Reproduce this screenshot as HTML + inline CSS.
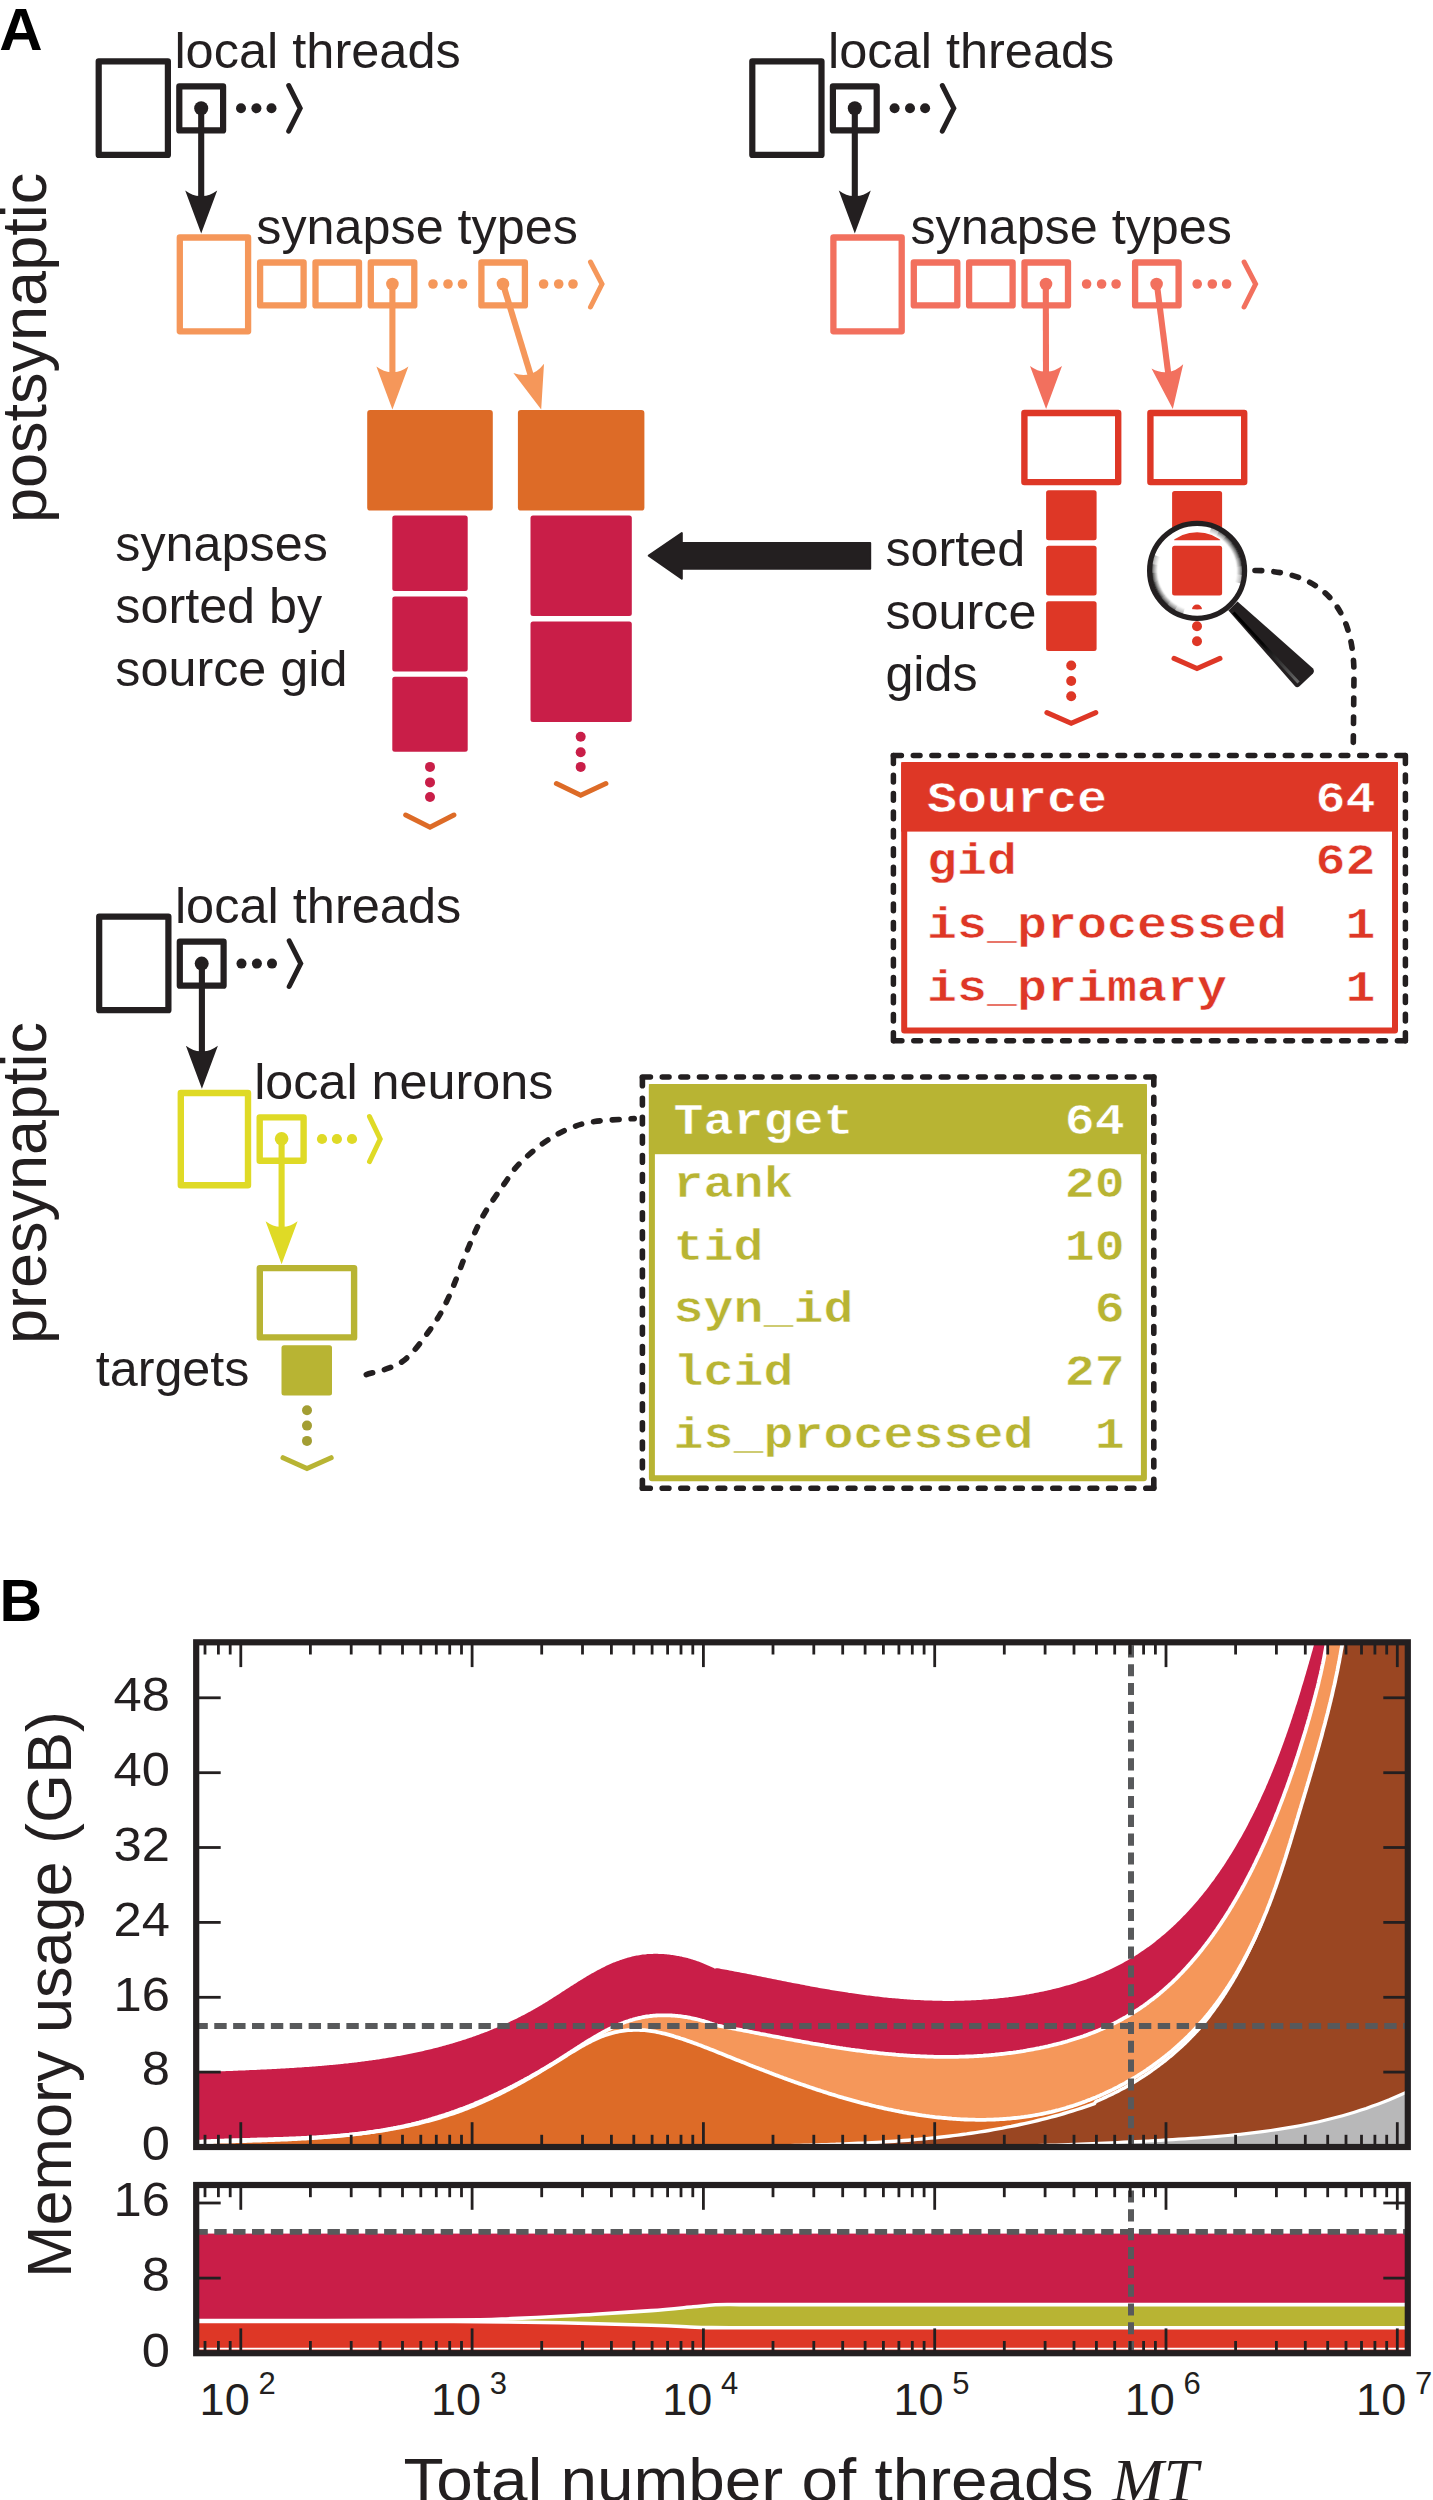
<!DOCTYPE html><html><head><meta charset="utf-8"><style>html,body{margin:0;padding:0;background:#fff;}svg{display:block;}text{font-family:"Liberation Sans",sans-serif;}.m{font-family:"Liberation Mono",monospace;font-weight:bold;}</style></head><body>
<svg width="1433" height="2500" viewBox="0 0 1433 2500">
<rect width="1433" height="2500" fill="#fff"/>
<text x="-0.7" y="50.2" font-size="60" font-weight="bold" fill="#000">A</text>
<rect x="98.7" y="61.3" width="69.2" height="93.6" fill="none" stroke="#231F20" stroke-width="6.2" stroke-linejoin="round"/>
<rect x="179.3" y="86.4" width="43.8" height="44" fill="none" stroke="#231F20" stroke-width="6.2" stroke-linejoin="round"/>
<circle cx="201.2" cy="108.3" r="7" fill="#231F20"/>
<circle cx="241" cy="108.3" r="5" fill="#231F20"/>
<circle cx="256.4" cy="108.3" r="5" fill="#231F20"/>
<circle cx="271.5" cy="108.3" r="5" fill="#231F20"/>
<polyline points="288.7,85.5 300.2,108.3 288.7,131.2" fill="none" stroke="#231F20" stroke-width="5" stroke-linecap="round" stroke-linejoin="miter"/>
<text x="174.4" y="68.1" font-size="50.5" fill="#231F20">local threads</text>
<line x1="201.2" y1="108.3" x2="201.2" y2="202" stroke="#231F20" stroke-width="6.1"/>
<path d="M185.2,190.5 Q194,196.8 201.2,196 Q208.4,196.8 217.2,190.5 L201.2,233.5 Z" fill="#231F20"/>
<rect x="179.8" y="237.5" width="68.3" height="93.8" fill="none" stroke="#F5975A" stroke-width="6.3" stroke-linejoin="round"/>
<rect x="260.1" y="262.5" width="43.5" height="42.9" fill="none" stroke="#F5975A" stroke-width="6.3" stroke-linejoin="round"/>
<rect x="315.5" y="262.5" width="43.5" height="42.9" fill="none" stroke="#F5975A" stroke-width="6.3" stroke-linejoin="round"/>
<rect x="370.8" y="262.5" width="43.5" height="42.9" fill="none" stroke="#F5975A" stroke-width="6.3" stroke-linejoin="round"/>
<rect x="481.4" y="262.5" width="43.5" height="42.9" fill="none" stroke="#F5975A" stroke-width="6.3" stroke-linejoin="round"/>
<circle cx="392.4" cy="284" r="6.3" fill="#F5975A"/>
<circle cx="503" cy="284" r="6.3" fill="#F5975A"/>
<circle cx="433" cy="284" r="4.8" fill="#F5975A"/>
<circle cx="448" cy="284" r="4.8" fill="#F5975A"/>
<circle cx="462.5" cy="284" r="4.8" fill="#F5975A"/>
<circle cx="543.6" cy="284" r="4.8" fill="#F5975A"/>
<circle cx="558.7" cy="284" r="4.8" fill="#F5975A"/>
<circle cx="573" cy="284" r="4.8" fill="#F5975A"/>
<polyline points="590.5,262 602,284 590.5,307" fill="none" stroke="#F5975A" stroke-width="5" stroke-linecap="round" stroke-linejoin="miter"/>
<text x="256.3" y="244.2" font-size="50.3" fill="#231F20">synapse types</text>
<line x1="392.4" y1="284" x2="392.4" y2="378.1" stroke="#F5975A" stroke-width="6.1"/>
<path d="M376.4,366.6 Q385.2,372.9 392.4,372.1 Q399.6,372.9 408.4,366.6 L392.4,409.6 Z" fill="#F5975A"/>
<line x1="503" y1="284" x2="532" y2="379.5" stroke="#F5975A" stroke-width="6.1"/>
<path d="M513.4,373.1 Q523.6,376.6 530.3,373.7 Q537.4,372.4 544,363.8 L541.2,409.6 Z" fill="#F5975A"/>
<rect x="367.2" y="410.1" width="125.6" height="100.5" rx="3" fill="#DD6B27"/>
<rect x="517.9" y="410.1" width="126.5" height="100.5" rx="3" fill="#DD6B27"/>
<rect x="392.3" y="515.6" width="75.4" height="75.4" rx="2.5" fill="#C91E48"/>
<rect x="392.3" y="596.4" width="75.4" height="75" rx="2.5" fill="#C91E48"/>
<rect x="392.3" y="676.8" width="75.4" height="75" rx="2.5" fill="#C91E48"/>
<rect x="530.5" y="515.6" width="101.3" height="100.5" rx="2.5" fill="#C91E48"/>
<rect x="530.5" y="621.6" width="101.3" height="100.4" rx="2.5" fill="#C91E48"/>
<circle cx="430" cy="766.9" r="5" fill="#C91E48"/>
<circle cx="430" cy="782.4" r="5" fill="#C91E48"/>
<circle cx="430" cy="797" r="5" fill="#C91E48"/>
<polyline points="405.7,815 430,827.3 453.9,815" fill="none" stroke="#DD6B27" stroke-width="5" stroke-linecap="round" stroke-linejoin="miter"/>
<circle cx="580.7" cy="736.7" r="5" fill="#C91E48"/>
<circle cx="580.7" cy="752.2" r="5" fill="#C91E48"/>
<circle cx="580.7" cy="766.9" r="5" fill="#C91E48"/>
<polyline points="556.4,783.6 580.7,795.2 605.9,783.6" fill="none" stroke="#DD6B27" stroke-width="5" stroke-linecap="round" stroke-linejoin="miter"/>
<text x="115.3" y="561" font-size="50.3" fill="#231F20">synapses</text>
<text x="115.3" y="623.4" font-size="50.3" fill="#231F20">sorted by</text>
<text x="115.3" y="686.3" font-size="50.3" fill="#231F20">source gid</text>
<path d="M648.8,555.6 L681.8,533 L681.8,543 L870.2,543 L870.2,568.8 L681.8,568.8 L681.8,578.8 Z" fill="#231F20" stroke="#231F20" stroke-width="2" stroke-linejoin="round"/>
<rect x="752.3" y="61.3" width="69.2" height="93.6" fill="none" stroke="#231F20" stroke-width="6.2" stroke-linejoin="round"/>
<rect x="832.9" y="86.4" width="43.8" height="44" fill="none" stroke="#231F20" stroke-width="6.2" stroke-linejoin="round"/>
<circle cx="854.8" cy="108.3" r="7" fill="#231F20"/>
<circle cx="894.6" cy="108.3" r="5" fill="#231F20"/>
<circle cx="910" cy="108.3" r="5" fill="#231F20"/>
<circle cx="925.1" cy="108.3" r="5" fill="#231F20"/>
<polyline points="942.3,85.5 953.8,108.3 942.3,131.2" fill="none" stroke="#231F20" stroke-width="5" stroke-linecap="round" stroke-linejoin="miter"/>
<text x="828" y="68.1" font-size="50.5" fill="#231F20">local threads</text>
<line x1="854.8" y1="108.3" x2="854.8" y2="202" stroke="#231F20" stroke-width="6.1"/>
<path d="M838.8,190.5 Q847.6,196.8 854.8,196 Q862,196.8 870.8,190.5 L854.8,233.5 Z" fill="#231F20"/>
<rect x="833.4" y="237.5" width="68.3" height="93.8" fill="none" stroke="#F2705E" stroke-width="6.3" stroke-linejoin="round"/>
<rect x="913.8" y="262.5" width="43.5" height="42.9" fill="none" stroke="#F2705E" stroke-width="6.3" stroke-linejoin="round"/>
<rect x="969.1" y="262.5" width="43.5" height="42.9" fill="none" stroke="#F2705E" stroke-width="6.3" stroke-linejoin="round"/>
<rect x="1024.5" y="262.5" width="43.5" height="42.9" fill="none" stroke="#F2705E" stroke-width="6.3" stroke-linejoin="round"/>
<rect x="1135.1" y="262.5" width="43.5" height="42.9" fill="none" stroke="#F2705E" stroke-width="6.3" stroke-linejoin="round"/>
<circle cx="1046" cy="284" r="6.3" fill="#F2705E"/>
<circle cx="1156.6" cy="284" r="6.3" fill="#F2705E"/>
<circle cx="1086.6" cy="284" r="4.8" fill="#F2705E"/>
<circle cx="1101.6" cy="284" r="4.8" fill="#F2705E"/>
<circle cx="1116.1" cy="284" r="4.8" fill="#F2705E"/>
<circle cx="1197.2" cy="284" r="4.8" fill="#F2705E"/>
<circle cx="1212.3" cy="284" r="4.8" fill="#F2705E"/>
<circle cx="1226.6" cy="284" r="4.8" fill="#F2705E"/>
<polyline points="1244.1,262 1255.6,284 1244.1,307" fill="none" stroke="#F2705E" stroke-width="5" stroke-linecap="round" stroke-linejoin="miter"/>
<text x="910.4" y="244.2" font-size="50.3" fill="#231F20">synapse types</text>
<line x1="1045.8" y1="283.7" x2="1046" y2="377.5" stroke="#F2705E" stroke-width="6.1"/>
<path d="M1030,366 Q1038.8,372.3 1046,371.5 Q1053.2,372.3 1062,366 L1046.1,409 Z" fill="#F2705E"/>
<line x1="1156.8" y1="283.7" x2="1168.8" y2="377.8" stroke="#F2705E" stroke-width="6.1"/>
<path d="M1151.5,368.4 Q1161,373.5 1168.1,371.8 Q1175.3,371.7 1183.2,364.3 L1172.8,409 Z" fill="#F2705E"/>
<rect x="1024.4" y="413" width="93.8" height="69.1" fill="none" stroke="#DE3726" stroke-width="6.4" stroke-linejoin="round"/>
<rect x="1150.4" y="413" width="93.8" height="69.1" fill="none" stroke="#DE3726" stroke-width="6.4" stroke-linejoin="round"/>
<rect x="1046.1" y="490.2" width="50.5" height="50.1" rx="2.5" fill="#DE3726"/>
<rect x="1046.1" y="545.7" width="50.5" height="49.7" rx="2.5" fill="#DE3726"/>
<rect x="1046.1" y="601.2" width="50.5" height="49.8" rx="2.5" fill="#DE3726"/>
<rect x="1172.1" y="490.9" width="50" height="49.4" rx="2.5" fill="#DE3726"/>
<rect x="1172.1" y="545.7" width="50" height="49.7" rx="2.5" fill="#DE3726"/>
<circle cx="1071.2" cy="665.5" r="5" fill="#DE3726"/>
<circle cx="1071.2" cy="681" r="5" fill="#DE3726"/>
<circle cx="1071.2" cy="696.3" r="5" fill="#DE3726"/>
<polyline points="1046.9,712.6 1071.2,723.3 1095.8,712.6" fill="none" stroke="#DE3726" stroke-width="5" stroke-linecap="round" stroke-linejoin="miter"/>
<circle cx="1197" cy="609.5" r="5" fill="#DE3726"/>
<circle cx="1197" cy="626.3" r="5" fill="#DE3726"/>
<circle cx="1197" cy="641.2" r="5" fill="#DE3726"/>
<polyline points="1174,658.4 1197,668.5 1220,658.4" fill="none" stroke="#DE3726" stroke-width="5" stroke-linecap="round" stroke-linejoin="miter"/>
<text x="885.4" y="565.7" font-size="50.3" fill="#231F20">sorted</text>
<text x="885.4" y="628.6" font-size="50.3" fill="#231F20">source</text>
<text x="885.4" y="691.4" font-size="50.3" fill="#231F20">gids</text>
<defs><clipPath id="lens"><circle cx="1197.1" cy="570.8" r="38.6"/></clipPath><radialGradient id="lg" cx="1197.1" cy="570.8" r="45" gradientUnits="userSpaceOnUse"><stop offset="0.84" stop-color="#fff"/><stop offset="1" stop-color="#8a8a8a"/></radialGradient></defs>
<circle cx="1197.1" cy="570.8" r="42.3" fill="none" stroke="#fff" stroke-width="7.4"/>
<defs><radialGradient id="rg" cx="1197.1" cy="570.8" r="45.5" gradientUnits="userSpaceOnUse"><stop offset="0.845" stop-color="#fff" stop-opacity="0"/><stop offset="0.9" stop-color="#aaa" stop-opacity="0.7"/><stop offset="1" stop-color="#111" stop-opacity="1"/></radialGradient></defs>
<path d="M1184.1,610.7 A42,42 0 0 1 1176.2,607.2" fill="none" stroke="url(#rg)" stroke-width="7" stroke-opacity="0.4"/>
<path d="M1176.4,607.4 A42,42 0 0 1 1169.4,602.4" fill="none" stroke="url(#rg)" stroke-width="7" stroke-opacity="0.7"/>
<path d="M1169.5,602.5 A42,42 0 0 1 1163.6,596.2" fill="none" stroke="url(#rg)" stroke-width="7" stroke-opacity="0.9"/>
<path d="M1163.8,596.4 A42,42 0 0 1 1159.3,589" fill="none" stroke="url(#rg)" stroke-width="7" stroke-opacity="1"/>
<path d="M1159.4,589.2 A42,42 0 0 1 1156.4,581.1" fill="none" stroke="url(#rg)" stroke-width="7" stroke-opacity="1"/>
<path d="M1156.4,581.3 A42,42 0 0 1 1155.1,572.8" fill="none" stroke="url(#rg)" stroke-width="7" stroke-opacity="0.9"/>
<path d="M1155.2,573 A42,42 0 0 1 1155.6,564.4" fill="none" stroke="url(#rg)" stroke-width="7" stroke-opacity="0.7"/>
<path d="M1155.6,564.6 A42,42 0 0 1 1157.7,556.2" fill="none" stroke="url(#rg)" stroke-width="7" stroke-opacity="0.4"/>
<path d="M1210.1,530.9 A42,42 0 0 1 1217.7,534.2" fill="none" stroke="url(#rg)" stroke-width="7" stroke-opacity="0.4"/>
<path d="M1217.5,534.1 A42,42 0 0 1 1224.3,538.8" fill="none" stroke="url(#rg)" stroke-width="7" stroke-opacity="0.7"/>
<path d="M1224.1,538.6 A42,42 0 0 1 1229.9,544.5" fill="none" stroke="url(#rg)" stroke-width="7" stroke-opacity="0.9"/>
<path d="M1229.7,544.4 A42,42 0 0 1 1234.3,551.3" fill="none" stroke="url(#rg)" stroke-width="7" stroke-opacity="1"/>
<path d="M1234.2,551.1 A42,42 0 0 1 1237.3,558.7" fill="none" stroke="url(#rg)" stroke-width="7" stroke-opacity="1"/>
<path d="M1237.3,558.5 A42,42 0 0 1 1238.9,566.6" fill="none" stroke="url(#rg)" stroke-width="7" stroke-opacity="0.9"/>
<path d="M1238.9,566.4 A42,42 0 0 1 1238.9,574.7" fill="none" stroke="url(#rg)" stroke-width="7" stroke-opacity="0.7"/>
<path d="M1238.9,574.5 A42,42 0 0 1 1237.4,582.6" fill="none" stroke="url(#rg)" stroke-width="7" stroke-opacity="0.4"/>
<circle cx="1197.1" cy="570.8" r="47.5" fill="none" stroke="#231F20" stroke-width="5.2"/>
<path d="M1228.4,610.5 L1237.5,601.4 L1312.8,668.3 Q1315,671 1313,673.5 L1299.5,686.2 Q1297,688.4 1294.8,686 Z" fill="#231F20"/>
<defs><linearGradient id="hg" x1="1233" y1="612" x2="1299" y2="683" gradientUnits="userSpaceOnUse"><stop offset="0" stop-color="#000"/><stop offset="0.45" stop-color="#050505"/><stop offset="1" stop-color="#6a6a6a"/></linearGradient></defs>
<path d="M1233.5,612.5 L1298.5,682.5" stroke="url(#hg)" stroke-width="3"/>
<path d="M1255,570.5 C1325,571 1354,610 1354,675 L1353.2,753" fill="none" stroke="#231F20" stroke-width="5.6" stroke-dasharray="6.6,12.2" stroke-linecap="round"/>
<path d="M893.4,755.4 L1405.4,755.4" fill="none" stroke="#231F20" stroke-width="5.5" stroke-linecap="round" stroke-dasharray="8,11.9,6.7,11.9,6.7,11.9,6.7,11.9,6.7,11.9,6.7,11.9,6.7,11.9,6.7,11.9,6.7,11.9,6.7,11.9,6.7,11.9,6.7,11.9,6.7,11.9,6.7,11.9,6.7,11.9,6.7,11.9,6.7,11.9,6.7,11.9,6.7,11.9,6.7,11.9,6.7,11.9,6.7,11.9,6.7,11.9,6.7,11.9,6.7,11.9,6.7,11.9,6.7,11.9,8"/>
<path d="M1405.4,755.4 L1405.4,1040.8" fill="none" stroke="#231F20" stroke-width="5.5" stroke-linecap="round" stroke-dasharray="8,11.7,6.7,11.7,6.7,11.7,6.7,11.7,6.7,11.7,6.7,11.7,6.7,11.7,6.7,11.7,6.7,11.7,6.7,11.7,6.7,11.7,6.7,11.7,6.7,11.7,6.7,11.7,6.7,11.7,8"/>
<path d="M1405.4,1040.8 L893.4,1040.8" fill="none" stroke="#231F20" stroke-width="5.5" stroke-linecap="round" stroke-dasharray="8,11.9,6.7,11.9,6.7,11.9,6.7,11.9,6.7,11.9,6.7,11.9,6.7,11.9,6.7,11.9,6.7,11.9,6.7,11.9,6.7,11.9,6.7,11.9,6.7,11.9,6.7,11.9,6.7,11.9,6.7,11.9,6.7,11.9,6.7,11.9,6.7,11.9,6.7,11.9,6.7,11.9,6.7,11.9,6.7,11.9,6.7,11.9,6.7,11.9,6.7,11.9,6.7,11.9,8"/>
<path d="M893.4,1040.8 L893.4,755.4" fill="none" stroke="#231F20" stroke-width="5.5" stroke-linecap="round" stroke-dasharray="8,11.7,6.7,11.7,6.7,11.7,6.7,11.7,6.7,11.7,6.7,11.7,6.7,11.7,6.7,11.7,6.7,11.7,6.7,11.7,6.7,11.7,6.7,11.7,6.7,11.7,6.7,11.7,6.7,11.7,8"/>
<rect x="904.2" y="765.1" width="490.8" height="265.3" fill="none" stroke="#DE3726" stroke-width="6" stroke-linejoin="round"/>
<rect x="901.2" y="762.1" width="496.8" height="69.5" fill="#DE3726"/>
<text class="m" transform="translate(927,811.5) scale(1,0.9)" font-size="50" fill="#fff" stroke="#DE3726" stroke-width="0.6">Source</text>
<text class="m" transform="translate(1375.5,811.5) scale(1,0.9)" font-size="50" fill="#fff" stroke="#DE3726" stroke-width="0.6" text-anchor="end">64</text>
<text class="m" transform="translate(927,874) scale(1,0.9)" font-size="50" fill="#DE3726" stroke="#fff" stroke-width="0.6">gid</text>
<text class="m" transform="translate(1375.5,874) scale(1,0.9)" font-size="50" fill="#DE3726" stroke="#fff" stroke-width="0.6" text-anchor="end">62</text>
<text class="m" transform="translate(927,937.7) scale(1,0.9)" font-size="50" fill="#DE3726" stroke="#fff" stroke-width="0.6">is_processed</text>
<text class="m" transform="translate(1375.5,937.7) scale(1,0.9)" font-size="50" fill="#DE3726" stroke="#fff" stroke-width="0.6" text-anchor="end">1</text>
<text class="m" transform="translate(927,1001.4) scale(1,0.9)" font-size="50" fill="#DE3726" stroke="#fff" stroke-width="0.6">is_primary</text>
<text class="m" transform="translate(1375.5,1001.4) scale(1,0.9)" font-size="50" fill="#DE3726" stroke="#fff" stroke-width="0.6" text-anchor="end">1</text>
<text transform="translate(45.7,519.2) rotate(-90)" x="-3.8" y="0" font-size="63" fill="#231F20">postsynaptic</text>
<text transform="translate(45.7,1340.3) rotate(-90)" x="-3.8" y="0" font-size="63" fill="#231F20">presynaptic</text>
<rect x="99.2" y="916.6" width="69.2" height="93.6" fill="none" stroke="#231F20" stroke-width="6.2" stroke-linejoin="round"/>
<rect x="179.8" y="941.7" width="43.8" height="44" fill="none" stroke="#231F20" stroke-width="6.2" stroke-linejoin="round"/>
<circle cx="201.7" cy="963.6" r="7" fill="#231F20"/>
<circle cx="241.5" cy="963.6" r="5" fill="#231F20"/>
<circle cx="256.9" cy="963.6" r="5" fill="#231F20"/>
<circle cx="272" cy="963.6" r="5" fill="#231F20"/>
<polyline points="289.2,940.8 300.7,963.6 289.2,986.5" fill="none" stroke="#231F20" stroke-width="5" stroke-linecap="round" stroke-linejoin="miter"/>
<text x="174.9" y="923.4" font-size="50.5" fill="#231F20">local threads</text>
<line x1="201.9" y1="962.7" x2="201.9" y2="1057.2" stroke="#231F20" stroke-width="6.1"/>
<path d="M185.9,1045.7 Q194.7,1052 201.9,1051.2 Q209.1,1052 217.9,1045.7 L201.9,1088.7 Z" fill="#231F20"/>
<rect x="180.8" y="1093" width="67.2" height="92.3" fill="none" stroke="#DFDA26" stroke-width="6.4" stroke-linejoin="round"/>
<rect x="259.7" y="1117.4" width="43.9" height="43.4" fill="none" stroke="#DFDA26" stroke-width="6.4" stroke-linejoin="round"/>
<circle cx="281.6" cy="1138.8" r="6.8" fill="#DFDA26"/>
<circle cx="322" cy="1139" r="5.1" fill="#DFDA26"/>
<circle cx="336.9" cy="1139" r="5.1" fill="#DFDA26"/>
<circle cx="352" cy="1139" r="5.1" fill="#DFDA26"/>
<polyline points="369.5,1116.6 380.2,1139 369.5,1161.6" fill="none" stroke="#DFDA26" stroke-width="5" stroke-linecap="round" stroke-linejoin="miter"/>
<text x="254.2" y="1098.6" font-size="50.3" fill="#231F20">local neurons</text>
<line x1="281.6" y1="1138.8" x2="281.6" y2="1232.7" stroke="#DFDA26" stroke-width="6.1"/>
<path d="M265.6,1221.2 Q274.4,1227.5 281.6,1226.7 Q288.8,1227.5 297.6,1221.2 L281.6,1264.2 Z" fill="#DFDA26"/>
<rect x="259.8" y="1268.1" width="94.3" height="69.3" fill="none" stroke="#B8B433" stroke-width="6.4" stroke-linejoin="round"/>
<rect x="281.5" y="1345.2" width="50.5" height="50.2" rx="2.5" fill="#B8B433"/>
<circle cx="307" cy="1410.2" r="5" fill="#A39E33"/>
<circle cx="307" cy="1425.6" r="5" fill="#A39E33"/>
<circle cx="307" cy="1440.9" r="5" fill="#A39E33"/>
<polyline points="283,1457.7 307,1468.6 331.2,1457.7" fill="none" stroke="#B8B433" stroke-width="5" stroke-linecap="round" stroke-linejoin="miter"/>
<text x="95.7" y="1385.9" font-size="50.3" fill="#231F20">targets</text>
<path d="M366.3,1374.6 C372.2,1372.5 391.4,1369.2 401.9,1361.9 C412.4,1354.6 421.4,1341.5 429.1,1331 C436.8,1320.5 441.3,1313 447.9,1298.9 C454.5,1284.8 463,1260.5 468.9,1246.5 C474.8,1232.5 477.6,1225.6 483.5,1215.1 C489.4,1204.6 498.5,1192.2 504.4,1183.7 C510.3,1175.2 512.5,1170.9 519.1,1164 C525.7,1157.1 535.8,1148.4 544.2,1142.5 C552.6,1136.6 560.9,1132 569.3,1128.5 C577.7,1125 583.7,1123.2 594.5,1121.6 C605.3,1119.9 627.6,1119.1 634.2,1118.6" fill="none" stroke="#231F20" stroke-width="5.6" stroke-dasharray="6.6,12.2" stroke-linecap="round"/>
<path d="M642.4,1077 L1153.8,1077" fill="none" stroke="#231F20" stroke-width="5.6" stroke-linecap="round" stroke-dasharray="8,11.9,6.7,11.9,6.7,11.9,6.7,11.9,6.7,11.9,6.7,11.9,6.7,11.9,6.7,11.9,6.7,11.9,6.7,11.9,6.7,11.9,6.7,11.9,6.7,11.9,6.7,11.9,6.7,11.9,6.7,11.9,6.7,11.9,6.7,11.9,6.7,11.9,6.7,11.9,6.7,11.9,6.7,11.9,6.7,11.9,6.7,11.9,6.7,11.9,6.7,11.9,6.7,11.9,8"/>
<path d="M1153.8,1077 L1153.8,1488.2" fill="none" stroke="#231F20" stroke-width="5.6" stroke-linecap="round" stroke-dasharray="8,12.4,6.7,12.4,6.7,12.4,6.7,12.4,6.7,12.4,6.7,12.4,6.7,12.4,6.7,12.4,6.7,12.4,6.7,12.4,6.7,12.4,6.7,12.4,6.7,12.4,6.7,12.4,6.7,12.4,6.7,12.4,6.7,12.4,6.7,12.4,6.7,12.4,6.7,12.4,6.7,12.4,8"/>
<path d="M1153.8,1488.2 L642.4,1488.2" fill="none" stroke="#231F20" stroke-width="5.6" stroke-linecap="round" stroke-dasharray="8,11.9,6.7,11.9,6.7,11.9,6.7,11.9,6.7,11.9,6.7,11.9,6.7,11.9,6.7,11.9,6.7,11.9,6.7,11.9,6.7,11.9,6.7,11.9,6.7,11.9,6.7,11.9,6.7,11.9,6.7,11.9,6.7,11.9,6.7,11.9,6.7,11.9,6.7,11.9,6.7,11.9,6.7,11.9,6.7,11.9,6.7,11.9,6.7,11.9,6.7,11.9,6.7,11.9,8"/>
<path d="M642.4,1488.2 L642.4,1077" fill="none" stroke="#231F20" stroke-width="5.6" stroke-linecap="round" stroke-dasharray="8,12.4,6.7,12.4,6.7,12.4,6.7,12.4,6.7,12.4,6.7,12.4,6.7,12.4,6.7,12.4,6.7,12.4,6.7,12.4,6.7,12.4,6.7,12.4,6.7,12.4,6.7,12.4,6.7,12.4,6.7,12.4,6.7,12.4,6.7,12.4,6.7,12.4,6.7,12.4,6.7,12.4,8"/>
<rect x="651.9" y="1087.1" width="492" height="391.2" fill="none" stroke="#B8B433" stroke-width="6" stroke-linejoin="round"/>
<rect x="648.9" y="1084.1" width="498" height="70.1" fill="#B8B433"/>
<text class="m" transform="translate(673.5,1134.3) scale(1,0.9)" font-size="50" fill="#fff" stroke="#B8B433" stroke-width="0.6">Target</text>
<text class="m" transform="translate(1124.7,1134.3) scale(1,0.9)" font-size="50" fill="#fff" stroke="#B8B433" stroke-width="0.6" text-anchor="end">64</text>
<text class="m" transform="translate(673.5,1197.1) scale(1,0.9)" font-size="50" fill="#B8B433" stroke="#fff" stroke-width="0.6">rank</text>
<text class="m" transform="translate(1124.7,1197.1) scale(1,0.9)" font-size="50" fill="#B8B433" stroke="#fff" stroke-width="0.6" text-anchor="end">20</text>
<text class="m" transform="translate(673.5,1259.8) scale(1,0.9)" font-size="50" fill="#B8B433" stroke="#fff" stroke-width="0.6">tid</text>
<text class="m" transform="translate(1124.7,1259.8) scale(1,0.9)" font-size="50" fill="#B8B433" stroke="#fff" stroke-width="0.6" text-anchor="end">10</text>
<text class="m" transform="translate(673.5,1322.4) scale(1,0.9)" font-size="50" fill="#B8B433" stroke="#fff" stroke-width="0.6">syn_id</text>
<text class="m" transform="translate(1124.7,1322.4) scale(1,0.9)" font-size="50" fill="#B8B433" stroke="#fff" stroke-width="0.6" text-anchor="end">6</text>
<text class="m" transform="translate(673.5,1385) scale(1,0.9)" font-size="50" fill="#B8B433" stroke="#fff" stroke-width="0.6">lcid</text>
<text class="m" transform="translate(1124.7,1385) scale(1,0.9)" font-size="50" fill="#B8B433" stroke="#fff" stroke-width="0.6" text-anchor="end">27</text>
<text class="m" transform="translate(673.5,1447.7) scale(1,0.9)" font-size="50" fill="#B8B433" stroke="#fff" stroke-width="0.6">is_processed</text>
<text class="m" transform="translate(1124.7,1447.7) scale(1,0.9)" font-size="50" fill="#B8B433" stroke="#fff" stroke-width="0.6" text-anchor="end">1</text>
<text x="-0.6" y="1621" font-size="59" font-weight="bold" fill="#000">B</text>
<defs><clipPath id="cu"><rect x="196.2" y="1642.3" width="1211.6" height="504.7"/></clipPath><clipPath id="cl"><rect x="196.2" y="2185" width="1211.6" height="168.2"/></clipPath></defs>
<g clip-path="url(#cu)">
<path d="M194.1,2072.4 L195.3,2072.4 L196.5,2072.3 L197.8,2072.3 L199,2072.2 L200.2,2072.2 L201.5,2072.1 L202.7,2072.1 L203.9,2072 L205.2,2072 L206.4,2071.9 L207.6,2071.9 L208.9,2071.8 L210.1,2071.8 L211.3,2071.7 L212.6,2071.7 L213.8,2071.6 L215,2071.6 L216.3,2071.5 L217.5,2071.5 L218.8,2071.4 L220,2071.4 L221.2,2071.3 L222.5,2071.3 L223.7,2071.2 L225,2071.2 L226.2,2071.1 L227.4,2071.1 L228.7,2071 L229.9,2071 L231.2,2070.9 L232.4,2070.9 L233.7,2070.8 L234.9,2070.8 L236.1,2070.7 L237.4,2070.7 L238.6,2070.6 L239.9,2070.6 L241.1,2070.5 L242.4,2070.5 L243.6,2070.4 L244.9,2070.4 L246.1,2070.3 L247.4,2070.3 L248.6,2070.2 L249.9,2070.1 L251.1,2070.1 L252.4,2070 L253.6,2070 L254.9,2069.9 L256.1,2069.9 L257.4,2069.8 L258.6,2069.8 L259.8,2069.7 L261.1,2069.6 L262.3,2069.6 L263.6,2069.5 L264.9,2069.5 L266.1,2069.4 L267.4,2069.3 L268.6,2069.3 L269.9,2069.2 L271.1,2069.2 L272.4,2069.1 L273.6,2069 L274.9,2069 L276.1,2068.9 L277.4,2068.8 L278.6,2068.8 L279.9,2068.7 L281.1,2068.6 L282.4,2068.6 L283.6,2068.5 L284.9,2068.4 L286.1,2068.3 L287.4,2068.3 L288.6,2068.2 L289.9,2068.1 L291.1,2068 L292.4,2068 L293.6,2067.9 L294.9,2067.8 L296.1,2067.7 L297.4,2067.6 L298.7,2067.6 L299.9,2067.5 L301.2,2067.4 L302.4,2067.3 L303.7,2067.2 L304.9,2067.1 L306.2,2067 L307.4,2067 L308.7,2066.9 L309.9,2066.8 L311.2,2066.7 L312.4,2066.6 L313.7,2066.5 L314.9,2066.4 L316.2,2066.3 L317.4,2066.2 L318.7,2066.1 L319.9,2066 L321.2,2065.9 L322.4,2065.8 L323.7,2065.7 L324.9,2065.6 L326.2,2065.5 L327.4,2065.3 L328.7,2065.2 L329.9,2065.1 L331.2,2065 L332.4,2064.9 L333.7,2064.8 L334.9,2064.7 L336.2,2064.5 L337.4,2064.4 L338.7,2064.3 L339.9,2064.2 L341.2,2064 L342.4,2063.9 L343.6,2063.8 L344.9,2063.6 L346.1,2063.5 L347.4,2063.4 L348.6,2063.2 L349.9,2063.1 L351.1,2062.9 L352.4,2062.8 L353.6,2062.7 L354.8,2062.5 L356.1,2062.4 L357.3,2062.2 L358.6,2062.1 L359.8,2061.9 L361,2061.8 L362.3,2061.6 L363.5,2061.4 L364.8,2061.3 L366,2061.1 L367.2,2060.9 L368.5,2060.8 L369.7,2060.6 L371,2060.4 L372.2,2060.3 L373.4,2060.1 L374.7,2059.9 L375.9,2059.7 L377.1,2059.5 L378.4,2059.4 L379.6,2059.2 L380.8,2059 L382.1,2058.8 L383.3,2058.6 L384.5,2058.4 L385.8,2058.2 L387,2058 L388.2,2057.8 L389.5,2057.6 L390.7,2057.4 L391.9,2057.2 L393.1,2057 L394.4,2056.8 L395.6,2056.5 L396.8,2056.3 L398,2056.1 L399.3,2055.9 L400.5,2055.7 L401.7,2055.4 L402.9,2055.2 L404.1,2055 L405.4,2054.7 L406.6,2054.5 L407.8,2054.2 L409,2054 L410.2,2053.8 L411.5,2053.5 L412.7,2053.3 L413.9,2053 L415.1,2052.7 L416.3,2052.5 L417.5,2052.2 L418.7,2052 L420,2051.7 L421.2,2051.4 L422.4,2051.2 L423.6,2050.9 L424.8,2050.6 L426,2050.3 L427.2,2050 L428.4,2049.7 L429.6,2049.5 L430.8,2049.2 L432,2048.9 L433.2,2048.6 L434.4,2048.3 L435.6,2048 L436.8,2047.7 L438,2047.4 L439.2,2047 L440.4,2046.7 L441.6,2046.4 L442.8,2046.1 L444,2045.8 L445.2,2045.4 L446.4,2045.1 L447.6,2044.8 L448.8,2044.4 L450,2044.1 L451.2,2043.7 L452.3,2043.4 L453.5,2043 L454.7,2042.7 L455.9,2042.3 L457.1,2042 L458.3,2041.6 L459.4,2041.2 L460.6,2040.9 L461.8,2040.5 L463,2040.1 L464.2,2039.7 L465.3,2039.4 L466.5,2039 L467.7,2038.6 L468.8,2038.2 L470,2037.8 L471.2,2037.4 L472.4,2037 L473.5,2036.6 L474.7,2036.2 L475.9,2035.8 L477,2035.3 L478.2,2034.9 L479.3,2034.5 L480.5,2034.1 L481.7,2033.6 L482.8,2033.2 L484,2032.8 L485.1,2032.3 L486.3,2031.9 L487.4,2031.4 L488.6,2031 L489.8,2030.5 L490.9,2030.1 L492.1,2029.6 L493.2,2029.1 L494.3,2028.6 L495.5,2028.2 L496.6,2027.7 L497.8,2027.2 L498.9,2026.7 L500.1,2026.2 L501.2,2025.7 L502.3,2025.2 L503.5,2024.7 L504.6,2024.2 L505.7,2023.7 L506.9,2023.2 L508,2022.7 L509.1,2022.2 L510.3,2021.6 L511.4,2021.1 L512.5,2020.6 L513.6,2020 L514.7,2019.5 L515.9,2018.9 L517,2018.4 L518.1,2017.8 L519.2,2017.3 L520.3,2016.7 L521.4,2016.1 L522.6,2015.6 L523.7,2015 L524.8,2014.4 L525.9,2013.8 L527,2013.2 L528.1,2012.6 L529.2,2012 L530.3,2011.4 L531.4,2010.8 L532.5,2010.2 L533.6,2009.6 L534.7,2009 L535.8,2008.3 L536.9,2007.7 L538,2007.1 L539,2006.4 L540.1,2005.8 L541.2,2005.2 L542.3,2004.5 L543.4,2003.8 L544.5,2003.2 L545.5,2002.5 L546.6,2001.9 L547.7,2001.2 L548.8,2000.5 L549.9,1999.8 L550.9,1999.2 L552,1998.5 L553.1,1997.8 L554.1,1997.1 L555.2,1996.4 L556.3,1995.7 L557.4,1995.1 L558.4,1994.4 L559.5,1993.7 L560.6,1993 L561.6,1992.3 L562.7,1991.6 L563.8,1990.9 L564.8,1990.2 L565.9,1989.5 L567,1988.8 L568,1988.2 L569.1,1987.5 L570.2,1986.8 L571.2,1986.1 L572.3,1985.4 L573.4,1984.7 L574.4,1984 L575.5,1983.4 L576.6,1982.7 L577.6,1982 L578.7,1981.3 L579.8,1980.7 L580.8,1980 L581.9,1979.4 L583,1978.7 L584.1,1978 L585.1,1977.4 L586.2,1976.7 L587.3,1976.1 L588.4,1975.5 L589.5,1974.8 L590.5,1974.2 L591.6,1973.6 L592.7,1973 L593.8,1972.4 L594.9,1971.8 L596,1971.2 L597,1970.6 L598.1,1970 L599.2,1969.4 L600.3,1968.9 L601.4,1968.3 L602.5,1967.7 L603.6,1967.2 L604.7,1966.7 L605.8,1966.1 L606.9,1965.6 L608.1,1965.1 L609.2,1964.6 L610.3,1964.1 L611.4,1963.6 L612.5,1963.1 L613.6,1962.6 L614.8,1962.2 L615.9,1961.7 L617,1961.3 L618.2,1960.9 L619.3,1960.5 L620.4,1960.1 L621.6,1959.7 L622.7,1959.3 L623.9,1958.9 L625,1958.5 L626.2,1958.2 L627.3,1957.8 L628.5,1957.5 L629.7,1957.2 L630.8,1956.9 L632,1956.6 L633.2,1956.3 L634.4,1956.1 L635.5,1955.8 L636.7,1955.6 L637.9,1955.4 L639.1,1955.2 L640.3,1955 L641.5,1954.8 L642.7,1954.6 L643.9,1954.5 L645.2,1954.4 L646.4,1954.2 L647.6,1954.1 L648.8,1954.1 L650.1,1954 L651.3,1953.9 L652.5,1953.9 L653.8,1953.8 L655,1953.8 L656.3,1953.8 L657.5,1953.8 L658.8,1953.9 L660,1953.9 L661.3,1954 L662.5,1954 L663.8,1954.1 L665,1954.2 L666.3,1954.3 L667.5,1954.4 L668.8,1954.6 L670.1,1954.7 L671.3,1954.9 L672.6,1955.1 L673.8,1955.2 L675.1,1955.4 L676.3,1955.7 L677.6,1955.9 L678.9,1956.1 L680.1,1956.4 L681.4,1956.6 L682.6,1956.9 L683.8,1957.2 L685.1,1957.5 L686.3,1957.8 L687.6,1958.1 L688.8,1958.5 L690,1958.8 L691.3,1959.2 L692.5,1959.6 L693.7,1959.9 L694.9,1960.3 L696.2,1960.7 L697.4,1961.2 L698.6,1961.6 L699.8,1962 L701,1962.5 L702.2,1962.9 L703.4,1963.4 L704.5,1963.9 L705.7,1964.4 L706.9,1964.9 L708,1965.4 L709.2,1965.9 L710.3,1966.5 L711.5,1967 L712.6,1967.6 L713.8,1968.1 L714.9,1968.7 L716,1968.3 L717.7,1968.3 L719.4,1968.6 L721.1,1968.9 L722.7,1969.2 L724.4,1969.5 L726,1969.8 L727.7,1970.1 L729.4,1970.4 L731,1970.8 L732.7,1971.1 L734.4,1971.4 L736,1971.7 L737.7,1972 L739.3,1972.3 L741,1972.7 L742.7,1973 L744.3,1973.3 L746,1973.6 L747.7,1974 L749.3,1974.3 L751,1974.6 L752.6,1974.9 L754.3,1975.3 L756,1975.6 L757.6,1975.9 L759.3,1976.3 L760.9,1976.6 L762.6,1976.9 L764.3,1977.2 L765.9,1977.6 L767.6,1977.9 L769.2,1978.2 L770.9,1978.6 L772.6,1978.9 L774.2,1979.2 L775.9,1979.6 L777.6,1979.9 L779.2,1980.2 L780.9,1980.6 L782.5,1980.9 L784.2,1981.2 L785.9,1981.5 L787.5,1981.9 L789.2,1982.2 L790.8,1982.5 L792.5,1982.9 L794.2,1983.2 L795.8,1983.5 L797.5,1983.8 L799.1,1984.1 L800.8,1984.5 L802.5,1984.8 L804.1,1985.1 L805.8,1985.4 L807.5,1985.7 L809.1,1986 L810.8,1986.4 L812.5,1986.7 L814.1,1987 L815.8,1987.3 L817.4,1987.6 L819.1,1987.9 L820.8,1988.2 L822.4,1988.5 L824.1,1988.8 L825.8,1989.1 L827.4,1989.3 L829.1,1989.6 L830.8,1989.9 L832.4,1990.2 L834.1,1990.5 L835.8,1990.8 L837.4,1991 L839.1,1991.3 L840.8,1991.6 L842.5,1991.8 L844.1,1992.1 L845.8,1992.3 L847.5,1992.6 L849.1,1992.9 L850.8,1993.1 L852.5,1993.3 L854.1,1993.6 L855.8,1993.8 L857.5,1994.1 L859.2,1994.3 L860.8,1994.5 L862.5,1994.8 L864.2,1995 L865.9,1995.2 L867.5,1995.4 L869.2,1995.6 L870.9,1995.8 L872.6,1996 L874.2,1996.2 L875.9,1996.4 L877.6,1996.6 L879.3,1996.8 L880.9,1997 L882.6,1997.2 L884.3,1997.4 L886,1997.5 L887.7,1997.7 L889.3,1997.9 L891,1998 L892.7,1998.2 L894.4,1998.3 L896.1,1998.5 L897.7,1998.6 L899.4,1998.8 L901.1,1998.9 L902.8,1999.1 L904.5,1999.2 L906.1,1999.3 L907.8,1999.4 L909.5,1999.5 L911.2,1999.7 L912.9,1999.8 L914.6,1999.9 L916.3,2000 L917.9,2000 L919.6,2000.1 L921.3,2000.2 L923,2000.3 L924.7,2000.4 L926.4,2000.4 L928.1,2000.5 L929.7,2000.6 L931.4,2000.6 L933.1,2000.7 L934.8,2000.7 L936.5,2000.7 L938.2,2000.8 L939.9,2000.8 L941.6,2000.8 L943.2,2000.9 L944.9,2000.9 L946.6,2000.9 L948.3,2000.9 L950,2000.9 L951.7,2000.9 L953.4,2000.9 L955.1,2000.8 L956.8,2000.8 L958.5,2000.8 L960.2,2000.7 L961.9,2000.7 L963.6,2000.7 L965.2,2000.6 L966.9,2000.5 L968.6,2000.5 L970.3,2000.4 L972,2000.3 L973.7,2000.3 L975.4,2000.2 L977.1,2000.1 L978.8,2000 L980.5,1999.9 L982.2,1999.8 L983.9,1999.6 L985.6,1999.5 L987.3,1999.4 L989,1999.3 L990.7,1999.1 L992.4,1999 L994.1,1998.8 L995.8,1998.7 L997.5,1998.5 L999.2,1998.3 L1000.9,1998.1 L1002.6,1998 L1004.3,1997.8 L1006,1997.6 L1007.7,1997.4 L1009.4,1997.1 L1011.1,1996.9 L1012.8,1996.7 L1014.5,1996.5 L1016.2,1996.2 L1017.9,1996 L1019.6,1995.7 L1021.3,1995.5 L1023,1995.2 L1024.7,1994.9 L1026.4,1994.6 L1028.1,1994.4 L1029.8,1994.1 L1031.5,1993.8 L1033.2,1993.4 L1034.8,1993.1 L1036.5,1992.8 L1038.2,1992.5 L1039.9,1992.1 L1041.6,1991.8 L1043.3,1991.4 L1045,1991.1 L1046.6,1990.7 L1048.3,1990.3 L1050,1989.9 L1051.7,1989.5 L1053.3,1989.1 L1055,1988.7 L1056.7,1988.3 L1058.3,1987.9 L1060,1987.4 L1061.6,1987 L1063.3,1986.6 L1064.9,1986.1 L1066.6,1985.6 L1068.2,1985.2 L1069.9,1984.7 L1071.5,1984.2 L1073.1,1983.7 L1074.8,1983.2 L1076.4,1982.7 L1078,1982.1 L1079.6,1981.6 L1081.3,1981.1 L1082.9,1980.5 L1084.5,1979.9 L1086.1,1979.4 L1087.7,1978.8 L1089.3,1978.2 L1090.9,1977.6 L1092.4,1977 L1094,1976.4 L1095.6,1975.8 L1097.2,1975.1 L1098.7,1974.5 L1100.3,1973.8 L1101.8,1973.2 L1103.4,1972.5 L1104.9,1971.8 L1106.5,1971.1 L1108,1970.4 L1109.5,1969.7 L1111.1,1969 L1112.6,1968.3 L1114.1,1967.5 L1115.6,1966.8 L1117.1,1966 L1118.6,1965.3 L1120.1,1964.5 L1121.6,1963.7 L1123,1962.9 L1124.5,1962.1 L1125.9,1961.3 L1127.4,1960.5 L1128.8,1959.6 L1130.3,1958.8 L1131.7,1957.9 L1133.1,1957.1 L1134.6,1956.2 L1136,1955.3 L1137.4,1954.4 L1138.8,1953.5 L1140.2,1952.6 L1141.6,1951.6 L1142.9,1950.7 L1144.3,1949.8 L1145.7,1948.8 L1147,1947.8 L1148.4,1946.9 L1149.7,1945.9 L1151.1,1944.9 L1152.4,1943.9 L1153.7,1942.9 L1155,1941.9 L1156.3,1940.8 L1157.6,1939.8 L1158.9,1938.7 L1160.2,1937.7 L1161.5,1936.6 L1162.8,1935.6 L1164.1,1934.5 L1165.3,1933.4 L1166.6,1932.3 L1167.8,1931.2 L1169.1,1930.1 L1170.3,1929 L1171.6,1927.8 L1172.8,1926.7 L1174,1925.6 L1175.2,1924.4 L1176.4,1923.2 L1177.6,1922.1 L1178.8,1920.9 L1180,1919.7 L1181.2,1918.5 L1182.4,1917.3 L1183.5,1916.1 L1184.7,1914.9 L1185.9,1913.7 L1187,1912.5 L1188.2,1911.3 L1189.3,1910 L1190.4,1908.8 L1191.6,1907.5 L1192.7,1906.3 L1193.8,1905 L1194.9,1903.7 L1196,1902.5 L1197.1,1901.2 L1198.2,1899.9 L1199.3,1898.6 L1200.4,1897.3 L1201.4,1896 L1202.5,1894.7 L1203.6,1893.3 L1204.6,1892 L1205.7,1890.7 L1206.7,1889.4 L1207.8,1888 L1208.8,1886.7 L1209.8,1885.3 L1210.8,1884 L1211.8,1882.6 L1212.9,1881.2 L1213.9,1879.9 L1214.9,1878.5 L1215.8,1877.1 L1216.8,1875.7 L1217.8,1874.3 L1218.8,1872.9 L1219.8,1871.5 L1220.7,1870.1 L1221.7,1868.7 L1222.6,1867.3 L1223.6,1865.9 L1224.5,1864.4 L1225.5,1863 L1226.4,1861.6 L1227.3,1860.1 L1228.2,1858.7 L1229.1,1857.3 L1230,1855.8 L1230.9,1854.4 L1231.8,1852.9 L1232.7,1851.4 L1233.6,1850 L1234.5,1848.5 L1235.4,1847 L1236.3,1845.6 L1237.1,1844.1 L1238,1842.6 L1238.8,1841.1 L1239.7,1839.6 L1240.5,1838.2 L1241.4,1836.7 L1242.2,1835.2 L1243,1833.7 L1243.8,1832.2 L1244.7,1830.7 L1245.5,1829.2 L1246.3,1827.7 L1247.1,1826.2 L1247.9,1824.7 L1248.7,1823.1 L1249.5,1821.6 L1250.2,1820.1 L1251,1818.6 L1251.8,1817.1 L1252.6,1815.5 L1253.3,1814 L1254.1,1812.5 L1254.8,1811 L1255.6,1809.4 L1256.3,1807.9 L1257.1,1806.4 L1257.8,1804.8 L1258.5,1803.3 L1259.3,1801.8 L1260,1800.2 L1260.7,1798.7 L1261.4,1797.1 L1262.1,1795.6 L1262.8,1794.1 L1263.5,1792.5 L1264.2,1791 L1264.9,1789.4 L1265.6,1787.9 L1266.2,1786.3 L1266.9,1784.8 L1267.6,1783.2 L1268.3,1781.6 L1268.9,1780.1 L1269.6,1778.5 L1270.2,1777 L1270.9,1775.4 L1271.5,1773.8 L1272.2,1772.3 L1272.8,1770.7 L1273.5,1769.1 L1274.1,1767.6 L1274.7,1766 L1275.3,1764.4 L1276,1762.9 L1276.6,1761.3 L1277.2,1759.7 L1277.8,1758.1 L1278.4,1756.6 L1279,1755 L1279.6,1753.4 L1280.2,1751.8 L1280.8,1750.2 L1281.4,1748.6 L1282,1747.1 L1282.5,1745.5 L1283.1,1743.9 L1283.7,1742.3 L1284.3,1740.7 L1284.8,1739.1 L1285.4,1737.5 L1286,1735.9 L1286.5,1734.3 L1287.1,1732.7 L1287.6,1731.2 L1288.2,1729.6 L1288.7,1728 L1289.3,1726.4 L1289.8,1724.8 L1290.4,1723.2 L1290.9,1721.6 L1291.4,1720 L1292,1718.4 L1292.5,1716.8 L1293,1715.1 L1293.6,1713.5 L1294.1,1711.9 L1294.6,1710.3 L1295.1,1708.7 L1295.6,1707.1 L1296.1,1705.5 L1296.7,1703.9 L1297.2,1702.3 L1297.7,1700.7 L1298.2,1699.1 L1298.7,1697.4 L1299.2,1695.8 L1299.7,1694.2 L1300.2,1692.6 L1300.7,1691 L1301.1,1689.4 L1301.6,1687.7 L1302.1,1686.1 L1302.6,1684.5 L1303.1,1682.9 L1303.6,1681.3 L1304.1,1679.7 L1304.5,1678 L1305,1676.4 L1305.5,1674.8 L1306,1673.2 L1306.4,1671.5 L1306.9,1669.9 L1307.4,1668.3 L1307.8,1666.7 L1308.3,1665 L1308.8,1663.4 L1309.2,1661.8 L1309.7,1660.2 L1310.2,1658.5 L1310.6,1656.9 L1311.1,1655.3 L1311.5,1653.7 L1312,1652 L1312.5,1650.4 L1312.9,1648.8 L1313.4,1647.1 L1313.8,1645.5 L1314.3,1643.9 L1314.7,1642.3 L1315.2,1640.6 L1315.6,1639 L1316.1,1637.4 L1316.5,1635.7 L1317,1634.1 L1420,1634.1 L1420,2150 L194.1,2150 Z" fill="#C91E48"/>
<path d="M194.3,2141.9 L195.6,2141.9 L196.9,2141.8 L198.2,2141.7 L199.6,2141.6 L200.9,2141.6 L202.2,2141.5 L203.6,2141.4 L204.9,2141.4 L206.2,2141.3 L207.6,2141.2 L208.9,2141.2 L210.3,2141.1 L211.6,2141 L213,2141 L214.3,2140.9 L215.7,2140.9 L217,2140.8 L218.3,2140.8 L219.7,2140.7 L221.1,2140.7 L222.4,2140.6 L223.8,2140.6 L225.1,2140.5 L226.5,2140.5 L227.8,2140.4 L229.2,2140.4 L230.5,2140.3 L231.9,2140.3 L233.3,2140.2 L234.6,2140.2 L236,2140.2 L237.4,2140.1 L238.7,2140.1 L240.1,2140 L241.4,2140 L242.8,2140 L244.2,2139.9 L245.6,2139.9 L246.9,2139.8 L248.3,2139.8 L249.7,2139.8 L251,2139.7 L252.4,2139.7 L253.8,2139.6 L255.2,2139.6 L256.5,2139.6 L257.9,2139.5 L259.3,2139.5 L260.7,2139.5 L262,2139.4 L263.4,2139.4 L264.8,2139.3 L266.2,2139.3 L267.5,2139.3 L268.9,2139.2 L270.3,2139.2 L271.7,2139.1 L273.1,2139.1 L274.4,2139 L275.8,2139 L277.2,2139 L278.6,2138.9 L280,2138.9 L281.4,2138.8 L282.7,2138.8 L284.1,2138.7 L285.5,2138.7 L286.9,2138.6 L288.3,2138.6 L289.7,2138.5 L291,2138.5 L292.4,2138.4 L293.8,2138.4 L295.2,2138.3 L296.6,2138.2 L298,2138.2 L299.3,2138.1 L300.7,2138.1 L302.1,2138 L303.5,2137.9 L304.9,2137.9 L306.3,2137.8 L307.7,2137.7 L309,2137.7 L310.4,2137.6 L311.8,2137.5 L313.2,2137.4 L314.6,2137.4 L316,2137.3 L317.3,2137.2 L318.7,2137.1 L320.1,2137 L321.5,2136.9 L322.9,2136.8 L324.3,2136.7 L325.6,2136.7 L327,2136.6 L328.4,2136.5 L329.8,2136.4 L331.2,2136.2 L332.5,2136.1 L333.9,2136 L335.3,2135.9 L336.7,2135.8 L338.1,2135.7 L339.4,2135.6 L340.8,2135.5 L342.2,2135.3 L343.6,2135.2 L344.9,2135.1 L346.3,2134.9 L347.7,2134.8 L349.1,2134.7 L350.4,2134.5 L351.8,2134.4 L353.2,2134.2 L354.5,2134.1 L355.9,2133.9 L357.3,2133.8 L358.6,2133.6 L360,2133.5 L361.4,2133.3 L362.7,2133.1 L364.1,2132.9 L365.5,2132.8 L366.8,2132.6 L368.2,2132.4 L369.6,2132.2 L370.9,2132 L372.3,2131.8 L373.6,2131.6 L375,2131.4 L376.3,2131.2 L377.7,2131 L379.1,2130.8 L380.4,2130.6 L381.8,2130.4 L383.1,2130.2 L384.5,2129.9 L385.8,2129.7 L387.2,2129.5 L388.5,2129.2 L389.8,2129 L391.2,2128.7 L392.5,2128.5 L393.9,2128.2 L395.2,2127.9 L396.5,2127.7 L397.9,2127.4 L399.2,2127.1 L400.5,2126.9 L401.9,2126.6 L403.2,2126.3 L404.5,2126 L405.9,2125.7 L407.2,2125.4 L408.5,2125.1 L409.8,2124.8 L411.2,2124.5 L412.5,2124.1 L413.8,2123.8 L415.1,2123.5 L416.4,2123.2 L417.8,2122.8 L419.1,2122.5 L420.4,2122.1 L421.7,2121.8 L423,2121.4 L424.3,2121.1 L425.6,2120.7 L426.9,2120.3 L428.2,2120 L429.5,2119.6 L430.8,2119.2 L432.1,2118.8 L433.4,2118.4 L434.7,2118 L436,2117.6 L437.3,2117.2 L438.6,2116.8 L439.9,2116.4 L441.2,2116 L442.5,2115.6 L443.8,2115.2 L445.1,2114.8 L446.4,2114.3 L447.6,2113.9 L448.9,2113.5 L450.2,2113 L451.5,2112.6 L452.8,2112.1 L454,2111.7 L455.3,2111.2 L456.6,2110.7 L457.9,2110.3 L459.1,2109.8 L460.4,2109.3 L461.7,2108.9 L463,2108.4 L464.2,2107.9 L465.5,2107.4 L466.7,2106.9 L468,2106.4 L469.3,2105.9 L470.5,2105.4 L471.8,2104.9 L473.1,2104.4 L474.3,2103.9 L475.6,2103.3 L476.8,2102.8 L478.1,2102.3 L479.3,2101.8 L480.6,2101.2 L481.8,2100.7 L483.1,2100.2 L484.3,2099.6 L485.6,2099.1 L486.8,2098.5 L488.1,2098 L489.3,2097.4 L490.5,2096.8 L491.8,2096.3 L493,2095.7 L494.2,2095.1 L495.5,2094.5 L496.7,2094 L498,2093.4 L499.2,2092.8 L500.4,2092.2 L501.6,2091.6 L502.9,2091 L504.1,2090.4 L505.3,2089.8 L506.6,2089.2 L507.8,2088.6 L509,2088 L510.2,2087.4 L511.4,2086.7 L512.7,2086.1 L513.9,2085.5 L515.1,2084.9 L516.3,2084.2 L517.5,2083.6 L518.7,2083 L519.9,2082.3 L521.2,2081.7 L522.4,2081 L523.6,2080.4 L524.8,2079.7 L526,2079 L527.2,2078.4 L528.4,2077.7 L529.6,2077.1 L530.8,2076.4 L532,2075.7 L533.2,2075 L534.4,2074.3 L535.6,2073.7 L536.8,2073 L538,2072.3 L539.2,2071.6 L540.4,2070.9 L541.5,2070.2 L542.7,2069.5 L543.9,2068.8 L545.1,2068.1 L546.3,2067.4 L547.5,2066.7 L548.7,2066 L549.8,2065.2 L551,2064.5 L552.2,2063.8 L553.4,2063.1 L554.6,2062.3 L555.7,2061.6 L556.9,2060.9 L558.1,2060.1 L559.3,2059.4 L560.4,2058.7 L561.6,2057.9 L562.8,2057.2 L563.9,2056.4 L565.1,2055.7 L566.3,2054.9 L567.5,2054.2 L568.6,2053.4 L569.8,2052.6 L571,2051.9 L572.1,2051.1 L573.3,2050.4 L574.5,2049.6 L575.6,2048.9 L576.8,2048.1 L578,2047.4 L579.1,2046.6 L580.3,2045.9 L581.5,2045.1 L582.6,2044.4 L583.8,2043.6 L585,2042.9 L586.1,2042.2 L587.3,2041.4 L588.5,2040.7 L589.7,2040 L590.8,2039.3 L592,2038.6 L593.2,2037.9 L594.4,2037.2 L595.6,2036.5 L596.7,2035.8 L597.9,2035.1 L599.1,2034.4 L600.3,2033.8 L601.5,2033.1 L602.7,2032.4 L603.9,2031.8 L605.1,2031.2 L606.3,2030.5 L607.5,2029.9 L608.7,2029.3 L609.9,2028.7 L611.1,2028.1 L612.4,2027.5 L613.6,2026.9 L614.8,2026.4 L616,2025.8 L617.3,2025.3 L618.5,2024.8 L619.7,2024.2 L621,2023.7 L622.2,2023.2 L623.5,2022.8 L624.7,2022.3 L626,2021.8 L627.3,2021.4 L628.5,2021 L629.8,2020.5 L631.1,2020.1 L632.4,2019.8 L633.7,2019.4 L635,2019 L636.3,2018.7 L637.6,2018.4 L638.9,2018 L640.2,2017.8 L641.5,2017.5 L642.8,2017.2 L644.2,2017 L645.5,2016.7 L646.8,2016.5 L648.2,2016.3 L649.5,2016.2 L650.9,2016 L652.3,2015.9 L653.6,2015.7 L655,2015.6 L656.4,2015.5 L657.7,2015.4 L659.1,2015.4 L660.5,2015.3 L661.9,2015.3 L663.2,2015.3 L664.6,2015.3 L666,2015.3 L667.4,2015.3 L668.8,2015.4 L670.2,2015.4 L671.6,2015.5 L673,2015.6 L674.4,2015.7 L675.8,2015.8 L677.1,2015.9 L678.5,2016.1 L679.9,2016.2 L681.3,2016.4 L682.7,2016.6 L684.1,2016.8 L685.5,2017 L686.8,2017.2 L688.2,2017.5 L689.6,2017.7 L691,2018 L692.3,2018.3 L693.7,2018.6 L695,2018.9 L696.4,2019.2 L697.8,2019.5 L699.1,2019.8 L700.4,2020.2 L701.8,2020.6 L703.1,2020.9 L704.4,2021.3 L705.7,2021.7 L707.1,2022.1 L708.4,2022.5 L709.7,2023 L710.9,2023.4 L712.2,2023.9 L713.5,2024.3 L714.8,2024.8 L716,2025 L717.6,2025.5 L719.2,2025.8 L720.9,2026.1 L722.5,2026.5 L724.2,2026.8 L725.8,2027.1 L727.5,2027.4 L729.1,2027.7 L730.8,2028 L732.4,2028.3 L734.1,2028.7 L735.7,2029 L737.3,2029.3 L739,2029.6 L740.6,2029.9 L742.3,2030.2 L743.9,2030.6 L745.6,2030.9 L747.2,2031.2 L748.9,2031.5 L750.5,2031.8 L752.2,2032.2 L753.8,2032.5 L755.4,2032.8 L757.1,2033.1 L758.7,2033.4 L760.4,2033.8 L762,2034.1 L763.7,2034.4 L765.3,2034.7 L767,2035 L768.6,2035.3 L770.2,2035.7 L771.9,2036 L773.5,2036.3 L775.2,2036.6 L776.8,2036.9 L778.5,2037.2 L780.1,2037.5 L781.8,2037.9 L783.4,2038.2 L785,2038.5 L786.7,2038.8 L788.3,2039.1 L790,2039.4 L791.6,2039.7 L793.3,2040 L794.9,2040.3 L796.6,2040.6 L798.2,2040.9 L799.8,2041.2 L801.5,2041.5 L803.1,2041.8 L804.8,2042.1 L806.4,2042.4 L808.1,2042.7 L809.7,2043 L811.4,2043.3 L813,2043.6 L814.7,2043.8 L816.3,2044.1 L818,2044.4 L819.6,2044.7 L821.3,2045 L822.9,2045.2 L824.6,2045.5 L826.2,2045.8 L827.9,2046 L829.5,2046.3 L831.2,2046.6 L832.8,2046.8 L834.5,2047.1 L836.1,2047.4 L837.8,2047.6 L839.4,2047.9 L841.1,2048.1 L842.7,2048.4 L844.4,2048.6 L846,2048.9 L847.7,2049.1 L849.3,2049.3 L851,2049.6 L852.6,2049.8 L854.3,2050 L856,2050.3 L857.6,2050.5 L859.3,2050.7 L860.9,2050.9 L862.6,2051.1 L864.3,2051.3 L865.9,2051.5 L867.6,2051.8 L869.2,2052 L870.9,2052.1 L872.6,2052.3 L874.2,2052.5 L875.9,2052.7 L877.5,2052.9 L879.2,2053.1 L880.9,2053.3 L882.5,2053.4 L884.2,2053.6 L885.9,2053.8 L887.5,2053.9 L889.2,2054.1 L890.9,2054.2 L892.5,2054.4 L894.2,2054.5 L895.9,2054.7 L897.5,2054.8 L899.2,2055 L900.9,2055.1 L902.6,2055.2 L904.2,2055.3 L905.9,2055.4 L907.6,2055.6 L909.3,2055.7 L910.9,2055.8 L912.6,2055.9 L914.3,2056 L916,2056.1 L917.6,2056.1 L919.3,2056.2 L921,2056.3 L922.7,2056.4 L924.3,2056.4 L926,2056.5 L927.7,2056.6 L929.4,2056.6 L931.1,2056.7 L932.7,2056.7 L934.4,2056.8 L936.1,2056.8 L937.8,2056.8 L939.5,2056.8 L941.1,2056.9 L942.8,2056.9 L944.5,2056.9 L946.2,2056.9 L947.9,2056.9 L949.5,2056.9 L951.2,2056.9 L952.9,2056.9 L954.6,2056.8 L956.2,2056.8 L957.9,2056.8 L959.6,2056.7 L961.3,2056.7 L963,2056.7 L964.6,2056.6 L966.3,2056.5 L968,2056.5 L969.7,2056.4 L971.4,2056.3 L973,2056.3 L974.7,2056.2 L976.4,2056.1 L978.1,2056 L979.7,2055.9 L981.4,2055.8 L983.1,2055.7 L984.8,2055.5 L986.4,2055.4 L988.1,2055.3 L989.8,2055.1 L991.4,2055 L993.1,2054.8 L994.8,2054.7 L996.5,2054.5 L998.1,2054.4 L999.8,2054.2 L1001.5,2054 L1003.1,2053.8 L1004.8,2053.6 L1006.5,2053.4 L1008.1,2053.2 L1009.8,2053 L1011.5,2052.8 L1013.1,2052.6 L1014.8,2052.3 L1016.4,2052.1 L1018.1,2051.8 L1019.8,2051.6 L1021.4,2051.3 L1023.1,2051.1 L1024.7,2050.8 L1026.4,2050.5 L1028,2050.2 L1029.7,2049.9 L1031.3,2049.6 L1033,2049.3 L1034.6,2049 L1036.3,2048.7 L1037.9,2048.4 L1039.6,2048.1 L1041.2,2047.7 L1042.9,2047.4 L1044.5,2047 L1046.2,2046.6 L1047.8,2046.3 L1049.4,2045.9 L1051.1,2045.5 L1052.7,2045.1 L1054.3,2044.7 L1056,2044.3 L1057.6,2043.9 L1059.2,2043.5 L1060.8,2043.1 L1062.5,2042.6 L1064.1,2042.2 L1065.7,2041.7 L1067.3,2041.3 L1068.9,2040.8 L1070.5,2040.3 L1072.1,2039.8 L1073.7,2039.3 L1075.3,2038.8 L1076.9,2038.3 L1078.5,2037.8 L1080.1,2037.3 L1081.7,2036.7 L1083.3,2036.2 L1084.9,2035.6 L1086.4,2035.1 L1088,2034.5 L1089.6,2033.9 L1091.1,2033.3 L1092.7,2032.7 L1094.3,2032.1 L1095.8,2031.5 L1097.4,2030.9 L1098.9,2030.2 L1100.4,2029.6 L1102,2028.9 L1103.5,2028.3 L1105,2027.6 L1106.5,2026.9 L1108.1,2026.2 L1109.6,2025.5 L1111.1,2024.8 L1112.6,2024.1 L1114.1,2023.4 L1115.5,2022.6 L1117,2021.9 L1118.5,2021.1 L1120,2020.3 L1121.4,2019.5 L1122.9,2018.7 L1124.3,2017.9 L1125.8,2017.1 L1127.2,2016.3 L1128.7,2015.5 L1130.1,2014.6 L1131.5,2013.8 L1132.9,2012.9 L1134.3,2012 L1135.7,2011.1 L1137.1,2010.2 L1138.5,2009.3 L1139.9,2008.4 L1141.3,2007.4 L1142.6,2006.5 L1144,2005.6 L1145.4,2004.6 L1146.7,2003.6 L1148.1,2002.6 L1149.4,2001.6 L1150.7,2000.6 L1152,1999.6 L1153.4,1998.6 L1154.7,1997.6 L1156,1996.6 L1157.3,1995.5 L1158.5,1994.4 L1159.8,1993.4 L1161.1,1992.3 L1162.4,1991.2 L1163.6,1990.1 L1164.9,1989 L1166.1,1987.9 L1167.4,1986.8 L1168.6,1985.7 L1169.8,1984.5 L1171.1,1983.4 L1172.3,1982.3 L1173.5,1981.1 L1174.7,1979.9 L1175.9,1978.8 L1177.1,1977.6 L1178.3,1976.4 L1179.4,1975.2 L1180.6,1974 L1181.8,1972.8 L1182.9,1971.6 L1184.1,1970.3 L1185.2,1969.1 L1186.4,1967.9 L1187.5,1966.6 L1188.6,1965.4 L1189.7,1964.1 L1190.9,1962.9 L1192,1961.6 L1193.1,1960.3 L1194.2,1959 L1195.3,1957.7 L1196.3,1956.5 L1197.4,1955.2 L1198.5,1953.9 L1199.6,1952.5 L1200.6,1951.2 L1201.7,1949.9 L1202.7,1948.6 L1203.8,1947.2 L1204.8,1945.9 L1205.8,1944.6 L1206.8,1943.2 L1207.9,1941.9 L1208.9,1940.5 L1209.9,1939.2 L1210.9,1937.8 L1211.9,1936.4 L1212.9,1935.1 L1213.8,1933.7 L1214.8,1932.3 L1215.8,1930.9 L1216.8,1929.5 L1217.7,1928.1 L1218.7,1926.7 L1219.6,1925.3 L1220.6,1923.9 L1221.5,1922.5 L1222.4,1921.1 L1223.3,1919.7 L1224.3,1918.3 L1225.2,1916.9 L1226.1,1915.4 L1227,1914 L1227.9,1912.6 L1228.8,1911.2 L1229.7,1909.7 L1230.5,1908.3 L1231.4,1906.9 L1232.3,1905.4 L1233.1,1904 L1234,1902.5 L1234.8,1901.1 L1235.7,1899.7 L1236.5,1898.2 L1237.4,1896.8 L1238.2,1895.3 L1239,1893.8 L1239.9,1892.4 L1240.7,1890.9 L1241.5,1889.5 L1242.3,1888 L1243.1,1886.5 L1243.9,1885.1 L1244.7,1883.6 L1245.5,1882.1 L1246.2,1880.7 L1247,1879.2 L1247.8,1877.7 L1248.6,1876.2 L1249.3,1874.7 L1250.1,1873.3 L1250.8,1871.8 L1251.6,1870.3 L1252.3,1868.8 L1253.1,1867.3 L1253.8,1865.8 L1254.5,1864.3 L1255.3,1862.8 L1256,1861.3 L1256.7,1859.8 L1257.4,1858.3 L1258.1,1856.8 L1258.9,1855.3 L1259.6,1853.8 L1260.3,1852.3 L1261,1850.8 L1261.6,1849.3 L1262.3,1847.8 L1263,1846.2 L1263.7,1844.7 L1264.4,1843.2 L1265.1,1841.7 L1265.7,1840.2 L1266.4,1838.6 L1267.1,1837.1 L1267.7,1835.6 L1268.4,1834 L1269,1832.5 L1269.7,1831 L1270.3,1829.4 L1271,1827.9 L1271.6,1826.4 L1272.3,1824.8 L1272.9,1823.3 L1273.5,1821.7 L1274.2,1820.2 L1274.8,1818.6 L1275.4,1817.1 L1276,1815.5 L1276.6,1814 L1277.3,1812.4 L1277.9,1810.9 L1278.5,1809.3 L1279.1,1807.8 L1279.7,1806.2 L1280.3,1804.6 L1280.9,1803.1 L1281.5,1801.5 L1282.1,1800 L1282.7,1798.4 L1283.3,1796.8 L1283.9,1795.3 L1284.4,1793.7 L1285,1792.1 L1285.6,1790.5 L1286.2,1789 L1286.8,1787.4 L1287.3,1785.8 L1287.9,1784.2 L1288.5,1782.7 L1289,1781.1 L1289.6,1779.5 L1290.1,1777.9 L1290.7,1776.3 L1291.2,1774.7 L1291.8,1773.2 L1292.3,1771.6 L1292.9,1770 L1293.4,1768.4 L1294,1766.8 L1294.5,1765.2 L1295,1763.6 L1295.6,1762 L1296.1,1760.4 L1296.6,1758.8 L1297.1,1757.2 L1297.7,1755.6 L1298.2,1754 L1298.7,1752.4 L1299.2,1750.8 L1299.7,1749.2 L1300.2,1747.6 L1300.7,1746 L1301.2,1744.4 L1301.7,1742.8 L1302.2,1741.2 L1302.7,1739.6 L1303.2,1738 L1303.7,1736.4 L1304.2,1734.8 L1304.7,1733.2 L1305.2,1731.6 L1305.7,1730 L1306.1,1728.4 L1306.6,1726.8 L1307.1,1725.1 L1307.6,1723.5 L1308,1721.9 L1308.5,1720.3 L1309,1718.7 L1309.4,1717.1 L1309.9,1715.5 L1310.3,1713.9 L1310.8,1712.2 L1311.2,1710.6 L1311.7,1709 L1312.1,1707.4 L1312.6,1705.8 L1313,1704.2 L1313.4,1702.6 L1313.9,1700.9 L1314.3,1699.3 L1314.7,1697.7 L1315.2,1696.1 L1315.6,1694.5 L1316,1692.8 L1316.4,1691.2 L1316.8,1689.6 L1317.3,1688 L1317.7,1686.4 L1318.1,1684.7 L1318.5,1683.1 L1318.8,1681.5 L1319.2,1679.9 L1319.6,1678.2 L1320,1676.6 L1320.4,1675 L1320.8,1673.4 L1321.1,1671.7 L1321.5,1670.1 L1321.8,1668.5 L1322.2,1666.8 L1322.5,1665.2 L1322.9,1663.6 L1323.2,1662 L1323.6,1660.3 L1323.9,1658.7 L1324.2,1657 L1324.5,1655.4 L1324.8,1653.8 L1325.1,1652.1 L1325.4,1650.5 L1325.7,1648.9 L1326,1647.2 L1326.3,1645.6 L1326.6,1643.9 L1326.8,1642.3 L1327.1,1640.6 L1327.4,1639 L1327.6,1637.3 L1327.8,1635.7 L1328.1,1634 L1420,1634 L1420,2150 L194.3,2150 Z" fill="#F5975A"/>
<path d="M194.3,2142.6 L196.1,2142.5 L197.9,2142.5 L199.7,2142.4 L201.5,2142.3 L203.4,2142.3 L205.2,2142.2 L207,2142.2 L208.8,2142.1 L210.7,2142 L212.5,2142 L214.3,2141.9 L216.2,2141.9 L218,2141.8 L219.8,2141.7 L221.7,2141.7 L223.5,2141.6 L225.4,2141.6 L227.2,2141.5 L229,2141.5 L230.9,2141.4 L232.7,2141.4 L234.6,2141.3 L236.4,2141.2 L238.3,2141.2 L240.2,2141.1 L242,2141.1 L243.9,2141 L245.7,2141 L247.6,2140.9 L249.5,2140.9 L251.3,2140.8 L253.2,2140.7 L255.1,2140.7 L256.9,2140.6 L258.8,2140.6 L260.7,2140.5 L262.5,2140.4 L264.4,2140.4 L266.3,2140.3 L268.1,2140.2 L270,2140.2 L271.9,2140.1 L273.8,2140 L275.6,2139.9 L277.5,2139.9 L279.4,2139.8 L281.3,2139.7 L283.1,2139.6 L285,2139.6 L286.9,2139.5 L288.8,2139.4 L290.7,2139.3 L292.5,2139.2 L294.4,2139.1 L296.3,2139 L298.2,2138.9 L300.1,2138.8 L301.9,2138.7 L303.8,2138.6 L305.7,2138.5 L307.6,2138.4 L309.4,2138.3 L311.3,2138.1 L313.2,2138 L315.1,2137.9 L317,2137.8 L318.8,2137.6 L320.7,2137.5 L322.6,2137.4 L324.5,2137.2 L326.4,2137.1 L328.2,2136.9 L330.1,2136.8 L332,2136.6 L333.9,2136.4 L335.7,2136.3 L337.6,2136.1 L339.5,2135.9 L341.3,2135.7 L343.2,2135.6 L345.1,2135.4 L347,2135.2 L348.8,2135 L350.7,2134.8 L352.6,2134.6 L354.4,2134.4 L356.3,2134.1 L358.2,2133.9 L360,2133.7 L361.9,2133.5 L363.7,2133.2 L365.6,2133 L367.5,2132.7 L369.3,2132.5 L371.2,2132.2 L373,2132 L374.9,2131.7 L376.7,2131.4 L378.6,2131.1 L380.4,2130.9 L382.3,2130.6 L384.1,2130.3 L385.9,2130 L387.8,2129.6 L389.6,2129.3 L391.4,2129 L393.3,2128.7 L395.1,2128.3 L396.9,2128 L398.8,2127.6 L400.6,2127.3 L402.4,2126.9 L404.2,2126.6 L406.1,2126.2 L407.9,2125.8 L409.7,2125.4 L411.5,2125 L413.3,2124.6 L415.1,2124.2 L416.9,2123.8 L418.7,2123.3 L420.5,2122.9 L422.3,2122.5 L424.1,2122 L425.9,2121.5 L427.7,2121.1 L429.5,2120.6 L431.3,2120.1 L433.1,2119.6 L434.8,2119.1 L436.6,2118.6 L438.4,2118.1 L440.2,2117.6 L441.9,2117 L443.7,2116.5 L445.4,2116 L447.2,2115.4 L449,2114.8 L450.7,2114.3 L452.5,2113.7 L454.2,2113.1 L455.9,2112.5 L457.7,2111.9 L459.4,2111.2 L461.2,2110.6 L462.9,2110 L464.6,2109.3 L466.3,2108.7 L468,2108 L469.8,2107.3 L471.5,2106.6 L473.2,2105.9 L474.9,2105.2 L476.6,2104.5 L478.3,2103.8 L480,2103.1 L481.7,2102.3 L483.4,2101.6 L485,2100.8 L486.7,2100.1 L488.4,2099.3 L490.1,2098.5 L491.8,2097.7 L493.4,2096.9 L495.1,2096.1 L496.8,2095.3 L498.4,2094.5 L500.1,2093.7 L501.8,2092.9 L503.4,2092 L505.1,2091.2 L506.7,2090.3 L508.4,2089.5 L510,2088.6 L511.7,2087.7 L513.3,2086.9 L515,2086 L516.6,2085.1 L518.2,2084.2 L519.9,2083.3 L521.5,2082.4 L523.1,2081.5 L524.8,2080.6 L526.4,2079.7 L528,2078.7 L529.7,2077.8 L531.3,2076.9 L532.9,2075.9 L534.5,2075 L536.2,2074 L537.8,2073.1 L539.4,2072.1 L541,2071.1 L542.6,2070.2 L544.3,2069.2 L545.9,2068.2 L547.5,2067.2 L549.1,2066.3 L550.7,2065.3 L552.3,2064.3 L553.9,2063.3 L555.6,2062.3 L557.2,2061.3 L558.8,2060.3 L560.4,2059.3 L562,2058.3 L563.6,2057.3 L565.2,2056.3 L566.8,2055.3 L568.4,2054.2 L570.1,2053.2 L571.7,2052.2 L573.3,2051.3 L574.9,2050.3 L576.5,2049.3 L578.2,2048.3 L579.8,2047.4 L581.4,2046.4 L583.1,2045.5 L584.7,2044.6 L586.3,2043.7 L588,2042.8 L589.7,2042 L591.3,2041.1 L593,2040.3 L594.7,2039.5 L596.3,2038.8 L598,2038 L599.7,2037.3 L601.4,2036.6 L603.1,2035.9 L604.9,2035.3 L606.6,2034.7 L608.3,2034.1 L610.1,2033.6 L611.8,2033.1 L613.6,2032.7 L615.4,2032.2 L617.2,2031.8 L619,2031.5 L620.7,2031.2 L622.6,2030.9 L624.4,2030.6 L626.2,2030.4 L628,2030.2 L629.8,2030.1 L631.7,2030 L633.5,2029.9 L635.3,2029.9 L637.2,2029.9 L639,2029.9 L640.8,2030 L642.7,2030.1 L644.5,2030.2 L646.3,2030.4 L648.2,2030.6 L650,2030.8 L651.8,2031.1 L653.7,2031.4 L655.5,2031.7 L657.3,2032.1 L659.1,2032.5 L661,2032.9 L662.8,2033.3 L664.6,2033.7 L666.4,2034.2 L668.2,2034.7 L670,2035.2 L671.8,2035.7 L673.6,2036.2 L675.4,2036.8 L677.2,2037.3 L679,2037.9 L680.8,2038.5 L682.6,2039 L684.4,2039.6 L686.2,2040.2 L687.9,2040.9 L689.7,2041.5 L691.5,2042.1 L693.2,2042.7 L695,2043.4 L696.8,2044 L698.5,2044.7 L700.3,2045.3 L702,2046 L703.8,2046.7 L705.5,2047.4 L707.3,2048 L709,2048.7 L710.8,2049.4 L712.5,2050.1 L714.3,2050.8 L716,2051.5 L717.7,2052.2 L719.5,2052.9 L721.2,2053.6 L722.9,2054.3 L724.7,2055 L726.4,2055.7 L728.1,2056.4 L729.9,2057.1 L731.6,2057.8 L733.3,2058.5 L735.1,2059.2 L736.8,2059.9 L738.5,2060.6 L740.3,2061.3 L742,2061.9 L743.7,2062.6 L745.5,2063.3 L747.2,2064 L748.9,2064.7 L750.7,2065.4 L752.4,2066.1 L754.1,2066.7 L755.9,2067.4 L757.6,2068.1 L759.3,2068.8 L761.1,2069.4 L762.8,2070.1 L764.5,2070.8 L766.3,2071.4 L768,2072.1 L769.7,2072.8 L771.5,2073.4 L773.2,2074.1 L774.9,2074.7 L776.7,2075.4 L778.4,2076 L780.2,2076.7 L781.9,2077.3 L783.6,2078 L785.4,2078.6 L787.1,2079.2 L788.9,2079.9 L790.6,2080.5 L792.3,2081.1 L794.1,2081.7 L795.8,2082.4 L797.6,2083 L799.3,2083.6 L801.1,2084.2 L802.8,2084.8 L804.6,2085.4 L806.3,2086 L808.1,2086.6 L809.8,2087.2 L811.6,2087.8 L813.3,2088.4 L815.1,2089 L816.9,2089.6 L818.6,2090.2 L820.4,2090.7 L822.2,2091.3 L823.9,2091.9 L825.7,2092.4 L827.5,2093 L829.2,2093.6 L831,2094.1 L832.8,2094.7 L834.6,2095.2 L836.3,2095.7 L838.1,2096.3 L839.9,2096.8 L841.7,2097.3 L843.5,2097.9 L845.3,2098.4 L847,2098.9 L848.8,2099.4 L850.6,2099.9 L852.4,2100.4 L854.2,2100.9 L856,2101.4 L857.8,2101.9 L859.6,2102.4 L861.4,2102.8 L863.3,2103.3 L865.1,2103.8 L866.9,2104.2 L868.7,2104.7 L870.5,2105.1 L872.3,2105.6 L874.2,2106 L876,2106.5 L877.8,2106.9 L879.6,2107.3 L881.5,2107.7 L883.3,2108.2 L885.1,2108.6 L887,2109 L888.8,2109.4 L890.6,2109.7 L892.5,2110.1 L894.3,2110.5 L896.2,2110.9 L898,2111.2 L899.8,2111.6 L901.7,2111.9 L903.5,2112.3 L905.4,2112.6 L907.2,2113 L909.1,2113.3 L910.9,2113.6 L912.8,2113.9 L914.6,2114.2 L916.5,2114.5 L918.4,2114.8 L920.2,2115.1 L922.1,2115.4 L923.9,2115.6 L925.8,2115.9 L927.6,2116.1 L929.5,2116.4 L931.4,2116.6 L933.2,2116.8 L935.1,2117.1 L936.9,2117.3 L938.8,2117.5 L940.7,2117.7 L942.5,2117.9 L944.4,2118 L946.3,2118.2 L948.1,2118.4 L950,2118.5 L951.8,2118.7 L953.7,2118.8 L955.6,2118.9 L957.4,2119.1 L959.3,2119.2 L961.2,2119.3 L963,2119.4 L964.9,2119.5 L966.8,2119.5 L968.6,2119.6 L970.5,2119.7 L972.3,2119.7 L974.2,2119.7 L976.1,2119.8 L977.9,2119.8 L979.8,2119.8 L981.7,2119.8 L983.5,2119.8 L985.4,2119.8 L987.2,2119.7 L989.1,2119.7 L990.9,2119.6 L992.8,2119.6 L994.7,2119.5 L996.5,2119.4 L998.4,2119.3 L1000.2,2119.2 L1002.1,2119.1 L1003.9,2119 L1005.8,2118.9 L1007.6,2118.7 L1009.5,2118.6 L1011.3,2118.4 L1013.1,2118.2 L1015,2118 L1016.8,2117.8 L1018.7,2117.6 L1020.5,2117.4 L1022.3,2117.1 L1024.2,2116.9 L1026,2116.6 L1027.8,2116.4 L1029.7,2116.1 L1031.5,2115.8 L1033.3,2115.5 L1035.2,2115.2 L1037,2114.8 L1038.8,2114.5 L1040.6,2114.2 L1042.4,2113.8 L1044.3,2113.4 L1046.1,2113 L1047.9,2112.6 L1049.7,2112.2 L1051.5,2111.8 L1053.3,2111.3 L1055.1,2110.9 L1056.9,2110.4 L1058.7,2110 L1060.5,2109.5 L1062.3,2109 L1064.1,2108.5 L1065.9,2108 L1067.6,2107.4 L1069.4,2106.9 L1071.2,2106.3 L1073,2105.8 L1074.7,2105.2 L1076.5,2104.6 L1078.3,2104 L1080,2103.4 L1081.8,2102.7 L1083.5,2102.1 L1085.3,2101.5 L1087,2100.8 L1088.8,2100.1 L1090.5,2099.5 L1092.2,2098.8 L1094,2098.1 L1095.7,2097.4 L1097.4,2096.6 L1099.1,2095.9 L1100.8,2095.1 L1102.5,2094.4 L1104.2,2093.6 L1105.9,2092.8 L1107.6,2092 L1109.3,2091.2 L1111,2090.4 L1112.7,2089.6 L1114.3,2088.8 L1116,2087.9 L1117.7,2087.1 L1119.3,2086.2 L1121,2085.3 L1122.6,2084.5 L1124.3,2083.6 L1125.9,2082.7 L1127.5,2081.7 L1129.1,2080.8 L1130.8,2079.9 L1132.4,2078.9 L1134,2078 L1135.6,2077 L1137.2,2076 L1138.7,2075 L1140.3,2074 L1141.9,2073 L1143.5,2072 L1145,2071 L1146.6,2070 L1148.1,2068.9 L1149.7,2067.9 L1151.2,2066.8 L1152.7,2065.7 L1154.2,2064.6 L1155.7,2063.5 L1157.3,2062.4 L1158.7,2061.3 L1160.2,2060.2 L1161.7,2059.1 L1163.2,2057.9 L1164.7,2056.8 L1166.1,2055.6 L1167.6,2054.4 L1169,2053.2 L1170.5,2052.1 L1171.9,2050.9 L1173.3,2049.6 L1174.7,2048.4 L1176.1,2047.2 L1177.5,2046 L1178.9,2044.7 L1180.3,2043.5 L1181.7,2042.2 L1183,2040.9 L1184.4,2039.7 L1185.7,2038.4 L1187,2037.1 L1188.4,2035.8 L1189.7,2034.4 L1191,2033.1 L1192.3,2031.8 L1193.6,2030.4 L1194.9,2029.1 L1196.1,2027.7 L1197.4,2026.4 L1198.7,2025 L1199.9,2023.6 L1201.1,2022.2 L1202.4,2020.8 L1203.6,2019.4 L1204.8,2018 L1206,2016.6 L1207.2,2015.1 L1208.4,2013.7 L1209.5,2012.3 L1210.7,2010.8 L1211.8,2009.3 L1213,2007.9 L1214.1,2006.4 L1215.2,2004.9 L1216.4,2003.4 L1217.5,2001.9 L1218.6,2000.4 L1219.7,1998.9 L1220.7,1997.4 L1221.8,1995.9 L1222.9,1994.3 L1223.9,1992.8 L1225,1991.2 L1226,1989.7 L1227,1988.1 L1228.1,1986.6 L1229.1,1985 L1230.1,1983.4 L1231.1,1981.9 L1232.1,1980.3 L1233.1,1978.7 L1234,1977.1 L1235,1975.5 L1236,1973.9 L1236.9,1972.3 L1237.9,1970.7 L1238.8,1969 L1239.7,1967.4 L1240.6,1965.8 L1241.6,1964.1 L1242.5,1962.5 L1243.4,1960.9 L1244.3,1959.2 L1245.1,1957.5 L1246,1955.9 L1246.9,1954.2 L1247.7,1952.6 L1248.6,1950.9 L1249.4,1949.2 L1250.3,1947.5 L1251.1,1945.9 L1251.9,1944.2 L1252.8,1942.5 L1253.6,1940.8 L1254.4,1939.1 L1255.2,1937.4 L1256,1935.7 L1256.7,1934 L1257.5,1932.3 L1258.3,1930.6 L1259.1,1928.9 L1259.8,1927.1 L1260.6,1925.4 L1261.3,1923.7 L1262.1,1922 L1262.8,1920.3 L1263.5,1918.5 L1264.2,1916.8 L1264.9,1915.1 L1265.7,1913.3 L1266.4,1911.6 L1267.1,1909.9 L1267.7,1908.1 L1268.4,1906.4 L1269.1,1904.7 L1269.8,1902.9 L1270.4,1901.2 L1271.1,1899.4 L1271.8,1897.7 L1272.4,1895.9 L1273,1894.2 L1273.7,1892.4 L1274.3,1890.7 L1274.9,1888.9 L1275.6,1887.2 L1276.2,1885.4 L1276.8,1883.7 L1277.4,1881.9 L1278,1880.2 L1278.6,1878.4 L1279.2,1876.7 L1279.8,1874.9 L1280.4,1873.1 L1281,1871.4 L1281.6,1869.6 L1282.1,1867.9 L1282.7,1866.1 L1283.3,1864.3 L1283.9,1862.6 L1284.4,1860.8 L1285,1859 L1285.6,1857.3 L1286.1,1855.5 L1286.7,1853.7 L1287.2,1852 L1287.8,1850.2 L1288.3,1848.4 L1288.9,1846.7 L1289.4,1844.9 L1290,1843.1 L1290.5,1841.4 L1291,1839.6 L1291.6,1837.8 L1292.1,1836 L1292.6,1834.3 L1293.2,1832.5 L1293.7,1830.7 L1294.3,1828.9 L1294.8,1827.2 L1295.3,1825.4 L1295.9,1823.6 L1296.4,1821.8 L1296.9,1820 L1297.5,1818.3 L1298,1816.5 L1298.5,1814.7 L1299.1,1812.9 L1299.6,1811.1 L1300.1,1809.4 L1300.7,1807.6 L1301.2,1805.8 L1301.7,1804 L1302.3,1802.2 L1302.8,1800.4 L1303.3,1798.6 L1303.9,1796.9 L1304.4,1795.1 L1304.9,1793.3 L1305.5,1791.5 L1306,1789.7 L1306.5,1787.9 L1307.1,1786.1 L1307.6,1784.3 L1308.1,1782.6 L1308.7,1780.8 L1309.2,1779 L1309.7,1777.2 L1310.3,1775.4 L1310.8,1773.6 L1311.3,1771.8 L1311.9,1770 L1312.4,1768.2 L1312.9,1766.4 L1313.4,1764.6 L1313.9,1762.8 L1314.5,1761 L1315,1759.3 L1315.5,1757.5 L1316,1755.7 L1316.5,1753.9 L1317,1752.1 L1317.6,1750.3 L1318.1,1748.5 L1318.6,1746.7 L1319.1,1744.9 L1319.6,1743.1 L1320.1,1741.3 L1320.6,1739.5 L1321.1,1737.7 L1321.6,1735.9 L1322.1,1734.1 L1322.5,1732.3 L1323,1730.4 L1323.5,1728.6 L1324,1726.8 L1324.5,1725 L1325,1723.2 L1325.4,1721.4 L1325.9,1719.6 L1326.4,1717.8 L1326.8,1716 L1327.3,1714.2 L1327.8,1712.4 L1328.2,1710.6 L1328.7,1708.8 L1329.1,1706.9 L1329.6,1705.1 L1330,1703.3 L1330.5,1701.5 L1330.9,1699.7 L1331.3,1697.9 L1331.8,1696.1 L1332.2,1694.3 L1332.6,1692.4 L1333,1690.6 L1333.4,1688.8 L1333.8,1687 L1334.3,1685.2 L1334.7,1683.4 L1335.1,1681.5 L1335.5,1679.7 L1335.8,1677.9 L1336.2,1676.1 L1336.6,1674.3 L1337,1672.4 L1337.4,1670.6 L1337.7,1668.8 L1338.1,1667 L1338.4,1665.1 L1338.8,1663.3 L1339.2,1661.5 L1339.5,1659.7 L1339.8,1657.8 L1340.2,1656 L1340.5,1654.2 L1340.8,1652.4 L1341.1,1650.5 L1341.5,1648.7 L1341.8,1646.9 L1342.1,1645.1 L1342.4,1643.2 L1342.7,1641.4 L1343,1639.6 L1343.2,1637.7 L1343.5,1635.9 L1343.8,1634.1 L1420,1634.1 L1420,2150 L194.3,2150 Z" fill="#DD6B27"/>
<path d="M196,2148.9 L200.5,2148.9 L205.1,2148.9 L209.6,2148.9 L214.2,2148.8 L218.7,2148.8 L223.3,2148.8 L227.8,2148.8 L232.3,2148.7 L236.9,2148.7 L241.4,2148.7 L246,2148.7 L250.5,2148.6 L255,2148.6 L259.6,2148.6 L264.1,2148.6 L268.7,2148.6 L273.2,2148.6 L277.7,2148.5 L282.3,2148.5 L286.8,2148.5 L291.4,2148.5 L295.9,2148.5 L300.4,2148.5 L305,2148.5 L309.5,2148.4 L314,2148.4 L318.6,2148.4 L323.1,2148.4 L327.7,2148.4 L332.2,2148.4 L336.7,2148.4 L341.3,2148.4 L345.8,2148.4 L350.3,2148.3 L354.9,2148.3 L359.4,2148.3 L363.9,2148.3 L368.5,2148.3 L373,2148.3 L377.5,2148.3 L382.1,2148.3 L386.6,2148.3 L391.1,2148.3 L395.7,2148.3 L400.2,2148.3 L404.7,2148.2 L409.3,2148.2 L413.8,2148.2 L418.3,2148.2 L422.9,2148.2 L427.4,2148.2 L431.9,2148.2 L436.5,2148.2 L441,2148.2 L445.5,2148.2 L450.1,2148.2 L454.6,2148.2 L459.1,2148.2 L463.7,2148.1 L468.2,2148.1 L472.7,2148.1 L477.3,2148.1 L481.8,2148.1 L486.3,2148.1 L490.9,2148.1 L495.4,2148.1 L499.9,2148.1 L504.5,2148 L509,2148 L513.5,2148 L518.1,2148 L522.6,2148 L527.1,2148 L531.7,2148 L536.2,2148 L540.7,2147.9 L545.3,2147.9 L549.8,2147.9 L554.3,2147.9 L558.9,2147.9 L563.4,2147.8 L567.9,2147.8 L572.5,2147.8 L577,2147.8 L581.5,2147.8 L586.1,2147.7 L590.6,2147.7 L595.1,2147.7 L599.7,2147.7 L604.2,2147.6 L608.7,2147.6 L613.3,2147.6 L617.8,2147.6 L622.3,2147.5 L626.9,2147.5 L631.4,2147.5 L635.9,2147.4 L640.5,2147.4 L645,2147.4 L649.6,2147.3 L654.1,2147.3 L658.6,2147.3 L663.2,2147.2 L667.7,2147.2 L672.2,2147.1 L676.8,2147.1 L681.3,2147.1 L685.9,2147 L690.4,2147 L694.9,2146.9 L699.5,2146.9 L704,2146.8 L708.5,2146.8 L713.1,2146.7 L717.6,2146.7 L722.2,2146.6 L726.7,2146.5 L731.2,2146.5 L735.8,2146.4 L740.3,2146.4 L744.9,2146.3 L749.4,2146.2 L754,2146.2 L758.5,2146.1 L763,2146 L767.6,2146 L772.1,2145.9 L776.7,2145.8 L781.2,2145.7 L785.7,2145.6 L790.3,2145.6 L794.8,2145.5 L799.4,2145.4 L803.9,2145.2 L808.5,2145.1 L813,2145 L817.5,2144.9 L822.1,2144.7 L826.6,2144.6 L831.2,2144.4 L835.7,2144.3 L840.2,2144.1 L844.8,2143.9 L849.3,2143.7 L853.8,2143.5 L858.4,2143.3 L862.9,2143.1 L867.4,2142.9 L872,2142.6 L876.5,2142.4 L881,2142.1 L885.5,2141.8 L890.1,2141.5 L894.6,2141.2 L899.1,2140.9 L903.6,2140.5 L908.1,2140.2 L912.7,2139.8 L917.2,2139.4 L921.7,2139 L926.2,2138.6 L930.7,2138.1 L935.2,2137.7 L939.7,2137.2 L944.2,2136.7 L948.7,2136.2 L953.2,2135.6 L957.7,2135.1 L962.2,2134.5 L966.7,2133.9 L971.1,2133.2 L975.6,2132.6 L980.1,2131.9 L984.5,2131.2 L989,2130.5 L993.5,2129.7 L997.9,2128.9 L1002.4,2128.1 L1006.8,2127.2 L1011.3,2126.4 L1015.7,2125.5 L1020.1,2124.5 L1024.5,2123.6 L1029,2122.6 L1033.4,2121.6 L1037.8,2120.5 L1042.2,2119.4 L1046.6,2118.3 L1051,2117.2 L1055.4,2116 L1059.7,2114.8 L1064.1,2113.5 L1068.5,2112.2 L1072.8,2110.9 L1077.2,2109.5 L1081.5,2108.1 L1085.9,2106.7 L1090.2,2105.2 L1094.5,2103.7 L1095.7,2101.7 L1097.4,2100.9 L1099.1,2100.2 L1100.8,2099.4 L1102.5,2098.7 L1104.2,2097.9 L1105.9,2097.1 L1107.6,2096.3 L1109.3,2095.5 L1111,2094.7 L1112.7,2093.9 L1114.3,2093.1 L1116,2092.2 L1117.7,2091.4 L1119.3,2090.5 L1121,2089.6 L1122.6,2088.8 L1124.3,2087.9 L1125.9,2087 L1127.5,2086 L1129.1,2085.1 L1130.8,2084.2 L1132.4,2083.2 L1134,2082.3 L1135.6,2081.3 L1137.2,2080.3 L1138.7,2079.3 L1140.3,2078.3 L1141.9,2077.3 L1143.5,2076.3 L1145,2075.3 L1146.6,2074.3 L1148.1,2073.2 L1149.7,2072.2 L1151.2,2071.1 L1152.7,2070 L1154.2,2068.9 L1155.7,2067.8 L1157.3,2066.7 L1158.7,2065.6 L1160.2,2064.5 L1161.7,2063.4 L1163.2,2062.2 L1164.7,2061.1 L1166.1,2059.9 L1167.6,2058.7 L1169,2057.5 L1170.5,2056.4 L1171.9,2055.2 L1173.3,2053.9 L1174.7,2052.7 L1176.1,2051.5 L1177.5,2050.3 L1178.9,2049 L1180.3,2047.8 L1181.7,2046.5 L1183,2045.2 L1184.4,2044 L1185.7,2042.7 L1187,2041.4 L1188.4,2040.1 L1189.7,2038.7 L1191,2037.4 L1192.3,2036.1 L1193.6,2034.7 L1194.9,2033.4 L1196.1,2032 L1197.4,2030.7 L1198.7,2029.3 L1199.9,2027.9 L1201.1,2026.4 L1202.4,2025 L1203.6,2023.5 L1204.8,2022 L1206,2020.4 L1207.2,2018.9 L1208.4,2017.4 L1209.5,2015.9 L1210.7,2014.3 L1211.8,2012.8 L1213,2011.2 L1214.1,2009.7 L1215.2,2008.1 L1216.4,2006.5 L1217.5,2005 L1218.6,2003.4 L1219.7,2001.8 L1220.7,2000.2 L1221.8,1998.6 L1222.9,1997 L1223.9,1995.4 L1225,1993.8 L1226,1992.1 L1227,1990.5 L1228.1,1988.9 L1229.1,1987.2 L1230.1,1985.6 L1231.1,1983.9 L1232.1,1982.3 L1233.1,1980.6 L1234,1978.9 L1235,1977.3 L1236,1975.6 L1236.9,1973.9 L1237.9,1972.2 L1238.8,1970.5 L1239.7,1968.9 L1240.6,1967.2 L1241.6,1965.5 L1242.5,1963.8 L1243.4,1962 L1244.3,1960.3 L1245.1,1958.6 L1246,1956.9 L1246.9,1955.2 L1247.7,1953.4 L1248.6,1951.7 L1249.4,1950 L1250.3,1948.2 L1251.1,1946.5 L1251.9,1944.8 L1252.8,1943 L1253.6,1941.3 L1254.4,1939.5 L1255.2,1937.7 L1256,1936 L1256.7,1934.2 L1257.5,1932.5 L1258.3,1930.7 L1259.1,1928.9 L1259.8,1927.2 L1260.6,1925.4 L1261.3,1923.7 L1262.1,1922 L1262.8,1920.3 L1263.5,1918.5 L1264.2,1916.8 L1264.9,1915.1 L1265.7,1913.3 L1266.4,1911.6 L1267.1,1909.9 L1267.7,1908.1 L1268.4,1906.4 L1269.1,1904.7 L1269.8,1902.9 L1270.4,1901.2 L1271.1,1899.4 L1271.8,1897.7 L1272.4,1895.9 L1273,1894.2 L1273.7,1892.4 L1274.3,1890.7 L1274.9,1888.9 L1275.6,1887.2 L1276.2,1885.4 L1276.8,1883.7 L1277.4,1881.9 L1278,1880.2 L1278.6,1878.4 L1279.2,1876.7 L1279.8,1874.9 L1280.4,1873.1 L1281,1871.4 L1281.6,1869.6 L1282.1,1867.9 L1282.7,1866.1 L1283.3,1864.3 L1283.9,1862.6 L1284.4,1860.8 L1285,1859 L1285.6,1857.3 L1286.1,1855.5 L1286.7,1853.7 L1287.2,1852 L1287.8,1850.2 L1288.3,1848.4 L1288.9,1846.7 L1289.4,1844.9 L1290,1843.1 L1290.5,1841.4 L1291,1839.6 L1291.6,1837.8 L1292.1,1836 L1292.6,1834.3 L1293.2,1832.5 L1293.7,1830.7 L1294.3,1828.9 L1294.8,1827.2 L1295.3,1825.4 L1295.9,1823.6 L1296.4,1821.8 L1296.9,1820 L1297.5,1818.3 L1298,1816.5 L1298.5,1814.7 L1299.1,1812.9 L1299.6,1811.1 L1300.1,1809.4 L1300.7,1807.6 L1301.2,1805.8 L1301.7,1804 L1302.3,1802.2 L1302.8,1800.4 L1303.3,1798.6 L1303.9,1796.9 L1304.4,1795.1 L1304.9,1793.3 L1305.5,1791.5 L1306,1789.7 L1306.5,1787.9 L1307.1,1786.1 L1307.6,1784.3 L1308.1,1782.6 L1308.7,1780.8 L1309.2,1779 L1309.7,1777.2 L1310.3,1775.4 L1310.8,1773.6 L1311.3,1771.8 L1311.9,1770 L1312.4,1768.2 L1312.9,1766.4 L1313.4,1764.6 L1313.9,1762.8 L1314.5,1761 L1315,1759.3 L1315.5,1757.5 L1316,1755.7 L1316.5,1753.9 L1317,1752.1 L1317.6,1750.3 L1318.1,1748.5 L1318.6,1746.7 L1319.1,1744.9 L1319.6,1743.1 L1320.1,1741.3 L1320.6,1739.5 L1321.1,1737.7 L1321.6,1735.9 L1322.1,1734.1 L1322.5,1732.3 L1323,1730.4 L1323.5,1728.6 L1324,1726.8 L1324.5,1725 L1325,1723.2 L1325.4,1721.4 L1325.9,1719.6 L1326.4,1717.8 L1326.8,1716 L1327.3,1714.2 L1327.8,1712.4 L1328.2,1710.6 L1328.7,1708.8 L1329.1,1706.9 L1329.6,1705.1 L1330,1703.3 L1330.5,1701.5 L1330.9,1699.7 L1331.3,1697.9 L1331.8,1696.1 L1332.2,1694.3 L1332.6,1692.4 L1333,1690.6 L1333.4,1688.8 L1333.8,1687 L1334.3,1685.2 L1334.7,1683.4 L1335.1,1681.5 L1335.5,1679.7 L1335.8,1677.9 L1336.2,1676.1 L1336.6,1674.3 L1337,1672.4 L1337.4,1670.6 L1337.7,1668.8 L1338.1,1667 L1338.4,1665.1 L1338.8,1663.3 L1339.2,1661.5 L1339.5,1659.7 L1339.8,1657.8 L1340.2,1656 L1340.5,1654.2 L1340.8,1652.4 L1341.1,1650.5 L1341.5,1648.7 L1341.8,1646.9 L1342.1,1645.1 L1342.4,1643.2 L1342.7,1641.4 L1343,1639.6 L1343.2,1637.7 L1343.5,1635.9 L1343.8,1634.1 L1420,1634.1 L1420,2150 L196,2150 Z" fill="#9A4622"/>
<path d="M194,2148.9 L200.2,2148.7 L206.3,2148.5 L212.5,2148.3 L218.6,2148.2 L224.8,2148 L230.9,2147.9 L237.1,2147.7 L243.2,2147.6 L249.4,2147.5 L255.5,2147.4 L261.7,2147.3 L267.8,2147.1 L274,2147 L280.1,2146.9 L286.3,2146.8 L292.4,2146.8 L298.6,2146.7 L304.7,2146.6 L310.9,2146.5 L317.1,2146.5 L323.2,2146.4 L329.4,2146.4 L335.5,2146.3 L341.7,2146.3 L347.8,2146.2 L354,2146.2 L360.1,2146.1 L366.3,2146.1 L372.4,2146.1 L378.6,2146.1 L384.8,2146.1 L390.9,2146 L397.1,2146 L403.2,2146 L409.4,2146 L415.5,2146 L421.7,2146 L427.8,2146 L434,2146 L440.2,2146.1 L446.3,2146.1 L452.5,2146.1 L458.6,2146.1 L464.8,2146.1 L470.9,2146.2 L477.1,2146.2 L483.2,2146.2 L489.4,2146.3 L495.6,2146.3 L501.7,2146.3 L507.9,2146.4 L514,2146.4 L520.2,2146.5 L526.3,2146.5 L532.5,2146.6 L538.7,2146.6 L544.8,2146.7 L551,2146.7 L557.1,2146.8 L563.3,2146.8 L569.4,2146.9 L575.6,2146.9 L581.8,2147 L587.9,2147 L594.1,2147.1 L600.2,2147.1 L606.4,2147.2 L612.5,2147.3 L618.7,2147.3 L624.9,2147.4 L631,2147.4 L637.2,2147.5 L643.3,2147.5 L649.5,2147.6 L655.6,2147.6 L661.8,2147.7 L668,2147.7 L674.1,2147.8 L680.3,2147.9 L686.4,2147.9 L692.6,2148 L698.7,2148 L704.9,2148 L711.1,2148.1 L717.2,2148.1 L723.4,2148.2 L729.5,2148.2 L735.7,2148.2 L741.8,2148.3 L748,2148.3 L754.2,2148.3 L760.3,2148.4 L766.5,2148.4 L772.6,2148.4 L778.8,2148.4 L784.9,2148.5 L791.1,2148.5 L797.3,2148.5 L803.4,2148.5 L809.6,2148.5 L815.7,2148.5 L821.9,2148.5 L828,2148.5 L834.2,2148.5 L840.4,2148.5 L846.5,2148.5 L852.7,2148.5 L858.8,2148.4 L865,2148.4 L871.1,2148.4 L877.3,2148.3 L883.5,2148.3 L889.6,2148.3 L895.8,2148.2 L901.9,2148.2 L908.1,2148.1 L914.2,2148 L920.4,2148 L926.6,2147.9 L932.7,2147.8 L938.9,2147.7 L945,2147.6 L951.2,2147.5 L957.3,2147.4 L963.5,2147.3 L969.6,2147.2 L975.8,2147.1 L982,2147 L988.1,2146.9 L994.3,2146.7 L1000.4,2146.6 L1006.6,2146.4 L1012.7,2146.3 L1018.9,2146.1 L1025,2145.9 L1031.2,2145.8 L1037.4,2145.6 L1043.5,2145.4 L1049.7,2145.2 L1055.8,2145 L1062,2144.8 L1068.1,2144.6 L1074.3,2144.3 L1080.4,2144.1 L1086.6,2143.9 L1092.7,2143.6 L1098.9,2143.3 L1105,2143.1 L1111.2,2142.8 L1117.4,2142.5 L1123.5,2142.2 L1129.7,2141.9 L1135.8,2141.6 L1142,2141.3 L1148.1,2141 L1154.3,2140.6 L1160.4,2140.3 L1166.6,2139.9 L1172.7,2139.6 L1178.9,2139.2 L1185,2138.8 L1191.2,2138.4 L1197.3,2138 L1203.5,2137.5 L1209.6,2137.1 L1215.7,2136.6 L1221.9,2136 L1228,2135.5 L1234.1,2134.9 L1240.2,2134.3 L1246.3,2133.6 L1252.4,2132.9 L1258.5,2132.1 L1264.6,2131.3 L1270.7,2130.5 L1276.7,2129.6 L1282.8,2128.6 L1288.8,2127.6 L1294.9,2126.6 L1300.9,2125.5 L1306.9,2124.3 L1312.9,2123 L1318.9,2121.7 L1324.8,2120.3 L1330.8,2118.8 L1336.7,2117.3 L1342.6,2115.7 L1348.5,2114 L1354.4,2112.2 L1360.3,2110.3 L1366.1,2108.4 L1371.9,2106.3 L1377.8,2104.2 L1383.6,2102 L1389.3,2099.7 L1395.1,2097.2 L1400.8,2094.7 L1406.5,2092.1 L1412.2,2089.3 L1420,2150 L194,2150 Z" fill="#B8B8B9"/>
<path d="M194.3,2141.9 L195.6,2141.9 L196.9,2141.8 L198.2,2141.7 L199.6,2141.6 L200.9,2141.6 L202.2,2141.5 L203.6,2141.4 L204.9,2141.4 L206.2,2141.3 L207.6,2141.2 L208.9,2141.2 L210.3,2141.1 L211.6,2141 L213,2141 L214.3,2140.9 L215.7,2140.9 L217,2140.8 L218.3,2140.8 L219.7,2140.7 L221.1,2140.7 L222.4,2140.6 L223.8,2140.6 L225.1,2140.5 L226.5,2140.5 L227.8,2140.4 L229.2,2140.4 L230.5,2140.3 L231.9,2140.3 L233.3,2140.2 L234.6,2140.2 L236,2140.2 L237.4,2140.1 L238.7,2140.1 L240.1,2140 L241.4,2140 L242.8,2140 L244.2,2139.9 L245.6,2139.9 L246.9,2139.8 L248.3,2139.8 L249.7,2139.8 L251,2139.7 L252.4,2139.7 L253.8,2139.6 L255.2,2139.6 L256.5,2139.6 L257.9,2139.5 L259.3,2139.5 L260.7,2139.5 L262,2139.4 L263.4,2139.4 L264.8,2139.3 L266.2,2139.3 L267.5,2139.3 L268.9,2139.2 L270.3,2139.2 L271.7,2139.1 L273.1,2139.1 L274.4,2139 L275.8,2139 L277.2,2139 L278.6,2138.9 L280,2138.9 L281.4,2138.8 L282.7,2138.8 L284.1,2138.7 L285.5,2138.7 L286.9,2138.6 L288.3,2138.6 L289.7,2138.5 L291,2138.5 L292.4,2138.4 L293.8,2138.4 L295.2,2138.3 L296.6,2138.2 L298,2138.2 L299.3,2138.1 L300.7,2138.1 L302.1,2138 L303.5,2137.9 L304.9,2137.9 L306.3,2137.8 L307.7,2137.7 L309,2137.7 L310.4,2137.6 L311.8,2137.5 L313.2,2137.4 L314.6,2137.4 L316,2137.3 L317.3,2137.2 L318.7,2137.1 L320.1,2137 L321.5,2136.9 L322.9,2136.8 L324.3,2136.7 L325.6,2136.7 L327,2136.6 L328.4,2136.5 L329.8,2136.4 L331.2,2136.2 L332.5,2136.1 L333.9,2136 L335.3,2135.9 L336.7,2135.8 L338.1,2135.7 L339.4,2135.6 L340.8,2135.5 L342.2,2135.3 L343.6,2135.2 L344.9,2135.1 L346.3,2134.9 L347.7,2134.8 L349.1,2134.7 L350.4,2134.5 L351.8,2134.4 L353.2,2134.2 L354.5,2134.1 L355.9,2133.9 L357.3,2133.8 L358.6,2133.6 L360,2133.5 L361.4,2133.3 L362.7,2133.1 L364.1,2132.9 L365.5,2132.8 L366.8,2132.6 L368.2,2132.4 L369.6,2132.2 L370.9,2132 L372.3,2131.8 L373.6,2131.6 L375,2131.4 L376.3,2131.2 L377.7,2131 L379.1,2130.8 L380.4,2130.6 L381.8,2130.4 L383.1,2130.2 L384.5,2129.9 L385.8,2129.7 L387.2,2129.5 L388.5,2129.2 L389.8,2129 L391.2,2128.7 L392.5,2128.5 L393.9,2128.2 L395.2,2127.9 L396.5,2127.7 L397.9,2127.4 L399.2,2127.1 L400.5,2126.9 L401.9,2126.6 L403.2,2126.3 L404.5,2126 L405.9,2125.7 L407.2,2125.4 L408.5,2125.1 L409.8,2124.8 L411.2,2124.5 L412.5,2124.1 L413.8,2123.8 L415.1,2123.5 L416.4,2123.2 L417.8,2122.8 L419.1,2122.5 L420.4,2122.1 L421.7,2121.8 L423,2121.4 L424.3,2121.1 L425.6,2120.7 L426.9,2120.3 L428.2,2120 L429.5,2119.6 L430.8,2119.2 L432.1,2118.8 L433.4,2118.4 L434.7,2118 L436,2117.6 L437.3,2117.2 L438.6,2116.8 L439.9,2116.4 L441.2,2116 L442.5,2115.6 L443.8,2115.2 L445.1,2114.8 L446.4,2114.3 L447.6,2113.9 L448.9,2113.5 L450.2,2113 L451.5,2112.6 L452.8,2112.1 L454,2111.7 L455.3,2111.2 L456.6,2110.7 L457.9,2110.3 L459.1,2109.8 L460.4,2109.3 L461.7,2108.9 L463,2108.4 L464.2,2107.9 L465.5,2107.4 L466.7,2106.9 L468,2106.4 L469.3,2105.9 L470.5,2105.4 L471.8,2104.9 L473.1,2104.4 L474.3,2103.9 L475.6,2103.3 L476.8,2102.8 L478.1,2102.3 L479.3,2101.8 L480.6,2101.2 L481.8,2100.7 L483.1,2100.2 L484.3,2099.6 L485.6,2099.1 L486.8,2098.5 L488.1,2098 L489.3,2097.4 L490.5,2096.8 L491.8,2096.3 L493,2095.7 L494.2,2095.1 L495.5,2094.5 L496.7,2094 L498,2093.4 L499.2,2092.8 L500.4,2092.2 L501.6,2091.6 L502.9,2091 L504.1,2090.4 L505.3,2089.8 L506.6,2089.2 L507.8,2088.6 L509,2088 L510.2,2087.4 L511.4,2086.7 L512.7,2086.1 L513.9,2085.5 L515.1,2084.9 L516.3,2084.2 L517.5,2083.6 L518.7,2083 L519.9,2082.3 L521.2,2081.7 L522.4,2081 L523.6,2080.4 L524.8,2079.7 L526,2079 L527.2,2078.4 L528.4,2077.7 L529.6,2077.1 L530.8,2076.4 L532,2075.7 L533.2,2075 L534.4,2074.3 L535.6,2073.7 L536.8,2073 L538,2072.3 L539.2,2071.6 L540.4,2070.9 L541.5,2070.2 L542.7,2069.5 L543.9,2068.8 L545.1,2068.1 L546.3,2067.4 L547.5,2066.7 L548.7,2066 L549.8,2065.2 L551,2064.5 L552.2,2063.8 L553.4,2063.1 L554.6,2062.3 L555.7,2061.6 L556.9,2060.9 L558.1,2060.1 L559.3,2059.4 L560.4,2058.7 L561.6,2057.9 L562.8,2057.2 L563.9,2056.4 L565.1,2055.7 L566.3,2054.9 L567.5,2054.2 L568.6,2053.4 L569.8,2052.6 L571,2051.9 L572.1,2051.1 L573.3,2050.4 L574.5,2049.6 L575.6,2048.9 L576.8,2048.1 L578,2047.4 L579.1,2046.6 L580.3,2045.9 L581.5,2045.1 L582.6,2044.4 L583.8,2043.6 L585,2042.9 L586.1,2042.2 L587.3,2041.4 L588.5,2040.7 L589.7,2040 L590.8,2039.3 L592,2038.6 L593.2,2037.9 L594.4,2037.2 L595.6,2036.5 L596.7,2035.8 L597.9,2035.1 L599.1,2034.4 L600.3,2033.8 L601.5,2033.1 L602.7,2032.4 L603.9,2031.8 L605.1,2031.2 L606.3,2030.5 L607.5,2029.9 L608.7,2029.3 L609.9,2028.7 L611.1,2028.1 L612.4,2027.5 L613.6,2026.9 L614.8,2026.4 L616,2025.8 L617.3,2025.3 L618.5,2024.8 L619.7,2024.2 L621,2023.7 L622.2,2023.2 L623.5,2022.8 L624.7,2022.3 L626,2021.8 L627.3,2021.4 L628.5,2021 L629.8,2020.5 L631.1,2020.1 L632.4,2019.8 L633.7,2019.4 L635,2019 L636.3,2018.7 L637.6,2018.4 L638.9,2018 L640.2,2017.8 L641.5,2017.5 L642.8,2017.2 L644.2,2017 L645.5,2016.7 L646.8,2016.5 L648.2,2016.3 L649.5,2016.2 L650.9,2016 L652.3,2015.9 L653.6,2015.7 L655,2015.6 L656.4,2015.5 L657.7,2015.4 L659.1,2015.4 L660.5,2015.3 L661.9,2015.3 L663.2,2015.3 L664.6,2015.3 L666,2015.3 L667.4,2015.3 L668.8,2015.4 L670.2,2015.4 L671.6,2015.5 L673,2015.6 L674.4,2015.7 L675.8,2015.8 L677.1,2015.9 L678.5,2016.1 L679.9,2016.2 L681.3,2016.4 L682.7,2016.6 L684.1,2016.8 L685.5,2017 L686.8,2017.2 L688.2,2017.5 L689.6,2017.7 L691,2018 L692.3,2018.3 L693.7,2018.6 L695,2018.9 L696.4,2019.2 L697.8,2019.5 L699.1,2019.8 L700.4,2020.2 L701.8,2020.6 L703.1,2020.9 L704.4,2021.3 L705.7,2021.7 L707.1,2022.1 L708.4,2022.5 L709.7,2023 L710.9,2023.4 L712.2,2023.9 L713.5,2024.3 L714.8,2024.8 L716,2025 L717.6,2025.5 L719.2,2025.8 L720.9,2026.1 L722.5,2026.5 L724.2,2026.8 L725.8,2027.1 L727.5,2027.4 L729.1,2027.7 L730.8,2028 L732.4,2028.3 L734.1,2028.7 L735.7,2029 L737.3,2029.3 L739,2029.6 L740.6,2029.9 L742.3,2030.2 L743.9,2030.6 L745.6,2030.9 L747.2,2031.2 L748.9,2031.5 L750.5,2031.8 L752.2,2032.2 L753.8,2032.5 L755.4,2032.8 L757.1,2033.1 L758.7,2033.4 L760.4,2033.8 L762,2034.1 L763.7,2034.4 L765.3,2034.7 L767,2035 L768.6,2035.3 L770.2,2035.7 L771.9,2036 L773.5,2036.3 L775.2,2036.6 L776.8,2036.9 L778.5,2037.2 L780.1,2037.5 L781.8,2037.9 L783.4,2038.2 L785,2038.5 L786.7,2038.8 L788.3,2039.1 L790,2039.4 L791.6,2039.7 L793.3,2040 L794.9,2040.3 L796.6,2040.6 L798.2,2040.9 L799.8,2041.2 L801.5,2041.5 L803.1,2041.8 L804.8,2042.1 L806.4,2042.4 L808.1,2042.7 L809.7,2043 L811.4,2043.3 L813,2043.6 L814.7,2043.8 L816.3,2044.1 L818,2044.4 L819.6,2044.7 L821.3,2045 L822.9,2045.2 L824.6,2045.5 L826.2,2045.8 L827.9,2046 L829.5,2046.3 L831.2,2046.6 L832.8,2046.8 L834.5,2047.1 L836.1,2047.4 L837.8,2047.6 L839.4,2047.9 L841.1,2048.1 L842.7,2048.4 L844.4,2048.6 L846,2048.9 L847.7,2049.1 L849.3,2049.3 L851,2049.6 L852.6,2049.8 L854.3,2050 L856,2050.3 L857.6,2050.5 L859.3,2050.7 L860.9,2050.9 L862.6,2051.1 L864.3,2051.3 L865.9,2051.5 L867.6,2051.8 L869.2,2052 L870.9,2052.1 L872.6,2052.3 L874.2,2052.5 L875.9,2052.7 L877.5,2052.9 L879.2,2053.1 L880.9,2053.3 L882.5,2053.4 L884.2,2053.6 L885.9,2053.8 L887.5,2053.9 L889.2,2054.1 L890.9,2054.2 L892.5,2054.4 L894.2,2054.5 L895.9,2054.7 L897.5,2054.8 L899.2,2055 L900.9,2055.1 L902.6,2055.2 L904.2,2055.3 L905.9,2055.4 L907.6,2055.6 L909.3,2055.7 L910.9,2055.8 L912.6,2055.9 L914.3,2056 L916,2056.1 L917.6,2056.1 L919.3,2056.2 L921,2056.3 L922.7,2056.4 L924.3,2056.4 L926,2056.5 L927.7,2056.6 L929.4,2056.6 L931.1,2056.7 L932.7,2056.7 L934.4,2056.8 L936.1,2056.8 L937.8,2056.8 L939.5,2056.8 L941.1,2056.9 L942.8,2056.9 L944.5,2056.9 L946.2,2056.9 L947.9,2056.9 L949.5,2056.9 L951.2,2056.9 L952.9,2056.9 L954.6,2056.8 L956.2,2056.8 L957.9,2056.8 L959.6,2056.7 L961.3,2056.7 L963,2056.7 L964.6,2056.6 L966.3,2056.5 L968,2056.5 L969.7,2056.4 L971.4,2056.3 L973,2056.3 L974.7,2056.2 L976.4,2056.1 L978.1,2056 L979.7,2055.9 L981.4,2055.8 L983.1,2055.7 L984.8,2055.5 L986.4,2055.4 L988.1,2055.3 L989.8,2055.1 L991.4,2055 L993.1,2054.8 L994.8,2054.7 L996.5,2054.5 L998.1,2054.4 L999.8,2054.2 L1001.5,2054 L1003.1,2053.8 L1004.8,2053.6 L1006.5,2053.4 L1008.1,2053.2 L1009.8,2053 L1011.5,2052.8 L1013.1,2052.6 L1014.8,2052.3 L1016.4,2052.1 L1018.1,2051.8 L1019.8,2051.6 L1021.4,2051.3 L1023.1,2051.1 L1024.7,2050.8 L1026.4,2050.5 L1028,2050.2 L1029.7,2049.9 L1031.3,2049.6 L1033,2049.3 L1034.6,2049 L1036.3,2048.7 L1037.9,2048.4 L1039.6,2048.1 L1041.2,2047.7 L1042.9,2047.4 L1044.5,2047 L1046.2,2046.6 L1047.8,2046.3 L1049.4,2045.9 L1051.1,2045.5 L1052.7,2045.1 L1054.3,2044.7 L1056,2044.3 L1057.6,2043.9 L1059.2,2043.5 L1060.8,2043.1 L1062.5,2042.6 L1064.1,2042.2 L1065.7,2041.7 L1067.3,2041.3 L1068.9,2040.8 L1070.5,2040.3 L1072.1,2039.8 L1073.7,2039.3 L1075.3,2038.8 L1076.9,2038.3 L1078.5,2037.8 L1080.1,2037.3 L1081.7,2036.7 L1083.3,2036.2 L1084.9,2035.6 L1086.4,2035.1 L1088,2034.5 L1089.6,2033.9 L1091.1,2033.3 L1092.7,2032.7 L1094.3,2032.1 L1095.8,2031.5 L1097.4,2030.9 L1098.9,2030.2 L1100.4,2029.6 L1102,2028.9 L1103.5,2028.3 L1105,2027.6 L1106.5,2026.9 L1108.1,2026.2 L1109.6,2025.5 L1111.1,2024.8 L1112.6,2024.1 L1114.1,2023.4 L1115.5,2022.6 L1117,2021.9 L1118.5,2021.1 L1120,2020.3 L1121.4,2019.5 L1122.9,2018.7 L1124.3,2017.9 L1125.8,2017.1 L1127.2,2016.3 L1128.7,2015.5 L1130.1,2014.6 L1131.5,2013.8 L1132.9,2012.9 L1134.3,2012 L1135.7,2011.1 L1137.1,2010.2 L1138.5,2009.3 L1139.9,2008.4 L1141.3,2007.4 L1142.6,2006.5 L1144,2005.6 L1145.4,2004.6 L1146.7,2003.6 L1148.1,2002.6 L1149.4,2001.6 L1150.7,2000.6 L1152,1999.6 L1153.4,1998.6 L1154.7,1997.6 L1156,1996.6 L1157.3,1995.5 L1158.5,1994.4 L1159.8,1993.4 L1161.1,1992.3 L1162.4,1991.2 L1163.6,1990.1 L1164.9,1989 L1166.1,1987.9 L1167.4,1986.8 L1168.6,1985.7 L1169.8,1984.5 L1171.1,1983.4 L1172.3,1982.3 L1173.5,1981.1 L1174.7,1979.9 L1175.9,1978.8 L1177.1,1977.6 L1178.3,1976.4 L1179.4,1975.2 L1180.6,1974 L1181.8,1972.8 L1182.9,1971.6 L1184.1,1970.3 L1185.2,1969.1 L1186.4,1967.9 L1187.5,1966.6 L1188.6,1965.4 L1189.7,1964.1 L1190.9,1962.9 L1192,1961.6 L1193.1,1960.3 L1194.2,1959 L1195.3,1957.7 L1196.3,1956.5 L1197.4,1955.2 L1198.5,1953.9 L1199.6,1952.5 L1200.6,1951.2 L1201.7,1949.9 L1202.7,1948.6 L1203.8,1947.2 L1204.8,1945.9 L1205.8,1944.6 L1206.8,1943.2 L1207.9,1941.9 L1208.9,1940.5 L1209.9,1939.2 L1210.9,1937.8 L1211.9,1936.4 L1212.9,1935.1 L1213.8,1933.7 L1214.8,1932.3 L1215.8,1930.9 L1216.8,1929.5 L1217.7,1928.1 L1218.7,1926.7 L1219.6,1925.3 L1220.6,1923.9 L1221.5,1922.5 L1222.4,1921.1 L1223.3,1919.7 L1224.3,1918.3 L1225.2,1916.9 L1226.1,1915.4 L1227,1914 L1227.9,1912.6 L1228.8,1911.2 L1229.7,1909.7 L1230.5,1908.3 L1231.4,1906.9 L1232.3,1905.4 L1233.1,1904 L1234,1902.5 L1234.8,1901.1 L1235.7,1899.7 L1236.5,1898.2 L1237.4,1896.8 L1238.2,1895.3 L1239,1893.8 L1239.9,1892.4 L1240.7,1890.9 L1241.5,1889.5 L1242.3,1888 L1243.1,1886.5 L1243.9,1885.1 L1244.7,1883.6 L1245.5,1882.1 L1246.2,1880.7 L1247,1879.2 L1247.8,1877.7 L1248.6,1876.2 L1249.3,1874.7 L1250.1,1873.3 L1250.8,1871.8 L1251.6,1870.3 L1252.3,1868.8 L1253.1,1867.3 L1253.8,1865.8 L1254.5,1864.3 L1255.3,1862.8 L1256,1861.3 L1256.7,1859.8 L1257.4,1858.3 L1258.1,1856.8 L1258.9,1855.3 L1259.6,1853.8 L1260.3,1852.3 L1261,1850.8 L1261.6,1849.3 L1262.3,1847.8 L1263,1846.2 L1263.7,1844.7 L1264.4,1843.2 L1265.1,1841.7 L1265.7,1840.2 L1266.4,1838.6 L1267.1,1837.1 L1267.7,1835.6 L1268.4,1834 L1269,1832.5 L1269.7,1831 L1270.3,1829.4 L1271,1827.9 L1271.6,1826.4 L1272.3,1824.8 L1272.9,1823.3 L1273.5,1821.7 L1274.2,1820.2 L1274.8,1818.6 L1275.4,1817.1 L1276,1815.5 L1276.6,1814 L1277.3,1812.4 L1277.9,1810.9 L1278.5,1809.3 L1279.1,1807.8 L1279.7,1806.2 L1280.3,1804.6 L1280.9,1803.1 L1281.5,1801.5 L1282.1,1800 L1282.7,1798.4 L1283.3,1796.8 L1283.9,1795.3 L1284.4,1793.7 L1285,1792.1 L1285.6,1790.5 L1286.2,1789 L1286.8,1787.4 L1287.3,1785.8 L1287.9,1784.2 L1288.5,1782.7 L1289,1781.1 L1289.6,1779.5 L1290.1,1777.9 L1290.7,1776.3 L1291.2,1774.7 L1291.8,1773.2 L1292.3,1771.6 L1292.9,1770 L1293.4,1768.4 L1294,1766.8 L1294.5,1765.2 L1295,1763.6 L1295.6,1762 L1296.1,1760.4 L1296.6,1758.8 L1297.1,1757.2 L1297.7,1755.6 L1298.2,1754 L1298.7,1752.4 L1299.2,1750.8 L1299.7,1749.2 L1300.2,1747.6 L1300.7,1746 L1301.2,1744.4 L1301.7,1742.8 L1302.2,1741.2 L1302.7,1739.6 L1303.2,1738 L1303.7,1736.4 L1304.2,1734.8 L1304.7,1733.2 L1305.2,1731.6 L1305.7,1730 L1306.1,1728.4 L1306.6,1726.8 L1307.1,1725.1 L1307.6,1723.5 L1308,1721.9 L1308.5,1720.3 L1309,1718.7 L1309.4,1717.1 L1309.9,1715.5 L1310.3,1713.9 L1310.8,1712.2 L1311.2,1710.6 L1311.7,1709 L1312.1,1707.4 L1312.6,1705.8 L1313,1704.2 L1313.4,1702.6 L1313.9,1700.9 L1314.3,1699.3 L1314.7,1697.7 L1315.2,1696.1 L1315.6,1694.5 L1316,1692.8 L1316.4,1691.2 L1316.8,1689.6 L1317.3,1688 L1317.7,1686.4 L1318.1,1684.7 L1318.5,1683.1 L1318.8,1681.5 L1319.2,1679.9 L1319.6,1678.2 L1320,1676.6 L1320.4,1675 L1320.8,1673.4 L1321.1,1671.7 L1321.5,1670.1 L1321.8,1668.5 L1322.2,1666.8 L1322.5,1665.2 L1322.9,1663.6 L1323.2,1662 L1323.6,1660.3 L1323.9,1658.7 L1324.2,1657 L1324.5,1655.4 L1324.8,1653.8 L1325.1,1652.1 L1325.4,1650.5 L1325.7,1648.9 L1326,1647.2 L1326.3,1645.6 L1326.6,1643.9 L1326.8,1642.3 L1327.1,1640.6 L1327.4,1639 L1327.6,1637.3 L1327.8,1635.7 L1328.1,1634" fill="none" stroke="#fff" stroke-width="3.8" stroke-linejoin="round"/>
<path d="M194.3,2142.6 L196.1,2142.5 L197.9,2142.5 L199.7,2142.4 L201.5,2142.3 L203.4,2142.3 L205.2,2142.2 L207,2142.2 L208.8,2142.1 L210.7,2142 L212.5,2142 L214.3,2141.9 L216.2,2141.9 L218,2141.8 L219.8,2141.7 L221.7,2141.7 L223.5,2141.6 L225.4,2141.6 L227.2,2141.5 L229,2141.5 L230.9,2141.4 L232.7,2141.4 L234.6,2141.3 L236.4,2141.2 L238.3,2141.2 L240.2,2141.1 L242,2141.1 L243.9,2141 L245.7,2141 L247.6,2140.9 L249.5,2140.9 L251.3,2140.8 L253.2,2140.7 L255.1,2140.7 L256.9,2140.6 L258.8,2140.6 L260.7,2140.5 L262.5,2140.4 L264.4,2140.4 L266.3,2140.3 L268.1,2140.2 L270,2140.2 L271.9,2140.1 L273.8,2140 L275.6,2139.9 L277.5,2139.9 L279.4,2139.8 L281.3,2139.7 L283.1,2139.6 L285,2139.6 L286.9,2139.5 L288.8,2139.4 L290.7,2139.3 L292.5,2139.2 L294.4,2139.1 L296.3,2139 L298.2,2138.9 L300.1,2138.8 L301.9,2138.7 L303.8,2138.6 L305.7,2138.5 L307.6,2138.4 L309.4,2138.3 L311.3,2138.1 L313.2,2138 L315.1,2137.9 L317,2137.8 L318.8,2137.6 L320.7,2137.5 L322.6,2137.4 L324.5,2137.2 L326.4,2137.1 L328.2,2136.9 L330.1,2136.8 L332,2136.6 L333.9,2136.4 L335.7,2136.3 L337.6,2136.1 L339.5,2135.9 L341.3,2135.7 L343.2,2135.6 L345.1,2135.4 L347,2135.2 L348.8,2135 L350.7,2134.8 L352.6,2134.6 L354.4,2134.4 L356.3,2134.1 L358.2,2133.9 L360,2133.7 L361.9,2133.5 L363.7,2133.2 L365.6,2133 L367.5,2132.7 L369.3,2132.5 L371.2,2132.2 L373,2132 L374.9,2131.7 L376.7,2131.4 L378.6,2131.1 L380.4,2130.9 L382.3,2130.6 L384.1,2130.3 L385.9,2130 L387.8,2129.6 L389.6,2129.3 L391.4,2129 L393.3,2128.7 L395.1,2128.3 L396.9,2128 L398.8,2127.6 L400.6,2127.3 L402.4,2126.9 L404.2,2126.6 L406.1,2126.2 L407.9,2125.8 L409.7,2125.4 L411.5,2125 L413.3,2124.6 L415.1,2124.2 L416.9,2123.8 L418.7,2123.3 L420.5,2122.9 L422.3,2122.5 L424.1,2122 L425.9,2121.5 L427.7,2121.1 L429.5,2120.6 L431.3,2120.1 L433.1,2119.6 L434.8,2119.1 L436.6,2118.6 L438.4,2118.1 L440.2,2117.6 L441.9,2117 L443.7,2116.5 L445.4,2116 L447.2,2115.4 L449,2114.8 L450.7,2114.3 L452.5,2113.7 L454.2,2113.1 L455.9,2112.5 L457.7,2111.9 L459.4,2111.2 L461.2,2110.6 L462.9,2110 L464.6,2109.3 L466.3,2108.7 L468,2108 L469.8,2107.3 L471.5,2106.6 L473.2,2105.9 L474.9,2105.2 L476.6,2104.5 L478.3,2103.8 L480,2103.1 L481.7,2102.3 L483.4,2101.6 L485,2100.8 L486.7,2100.1 L488.4,2099.3 L490.1,2098.5 L491.8,2097.7 L493.4,2096.9 L495.1,2096.1 L496.8,2095.3 L498.4,2094.5 L500.1,2093.7 L501.8,2092.9 L503.4,2092 L505.1,2091.2 L506.7,2090.3 L508.4,2089.5 L510,2088.6 L511.7,2087.7 L513.3,2086.9 L515,2086 L516.6,2085.1 L518.2,2084.2 L519.9,2083.3 L521.5,2082.4 L523.1,2081.5 L524.8,2080.6 L526.4,2079.7 L528,2078.7 L529.7,2077.8 L531.3,2076.9 L532.9,2075.9 L534.5,2075 L536.2,2074 L537.8,2073.1 L539.4,2072.1 L541,2071.1 L542.6,2070.2 L544.3,2069.2 L545.9,2068.2 L547.5,2067.2 L549.1,2066.3 L550.7,2065.3 L552.3,2064.3 L553.9,2063.3 L555.6,2062.3 L557.2,2061.3 L558.8,2060.3 L560.4,2059.3 L562,2058.3 L563.6,2057.3 L565.2,2056.3 L566.8,2055.3 L568.4,2054.2 L570.1,2053.2 L571.7,2052.2 L573.3,2051.3 L574.9,2050.3 L576.5,2049.3 L578.2,2048.3 L579.8,2047.4 L581.4,2046.4 L583.1,2045.5 L584.7,2044.6 L586.3,2043.7 L588,2042.8 L589.7,2042 L591.3,2041.1 L593,2040.3 L594.7,2039.5 L596.3,2038.8 L598,2038 L599.7,2037.3 L601.4,2036.6 L603.1,2035.9 L604.9,2035.3 L606.6,2034.7 L608.3,2034.1 L610.1,2033.6 L611.8,2033.1 L613.6,2032.7 L615.4,2032.2 L617.2,2031.8 L619,2031.5 L620.7,2031.2 L622.6,2030.9 L624.4,2030.6 L626.2,2030.4 L628,2030.2 L629.8,2030.1 L631.7,2030 L633.5,2029.9 L635.3,2029.9 L637.2,2029.9 L639,2029.9 L640.8,2030 L642.7,2030.1 L644.5,2030.2 L646.3,2030.4 L648.2,2030.6 L650,2030.8 L651.8,2031.1 L653.7,2031.4 L655.5,2031.7 L657.3,2032.1 L659.1,2032.5 L661,2032.9 L662.8,2033.3 L664.6,2033.7 L666.4,2034.2 L668.2,2034.7 L670,2035.2 L671.8,2035.7 L673.6,2036.2 L675.4,2036.8 L677.2,2037.3 L679,2037.9 L680.8,2038.5 L682.6,2039 L684.4,2039.6 L686.2,2040.2 L687.9,2040.9 L689.7,2041.5 L691.5,2042.1 L693.2,2042.7 L695,2043.4 L696.8,2044 L698.5,2044.7 L700.3,2045.3 L702,2046 L703.8,2046.7 L705.5,2047.4 L707.3,2048 L709,2048.7 L710.8,2049.4 L712.5,2050.1 L714.3,2050.8 L716,2051.5 L717.7,2052.2 L719.5,2052.9 L721.2,2053.6 L722.9,2054.3 L724.7,2055 L726.4,2055.7 L728.1,2056.4 L729.9,2057.1 L731.6,2057.8 L733.3,2058.5 L735.1,2059.2 L736.8,2059.9 L738.5,2060.6 L740.3,2061.3 L742,2061.9 L743.7,2062.6 L745.5,2063.3 L747.2,2064 L748.9,2064.7 L750.7,2065.4 L752.4,2066.1 L754.1,2066.7 L755.9,2067.4 L757.6,2068.1 L759.3,2068.8 L761.1,2069.4 L762.8,2070.1 L764.5,2070.8 L766.3,2071.4 L768,2072.1 L769.7,2072.8 L771.5,2073.4 L773.2,2074.1 L774.9,2074.7 L776.7,2075.4 L778.4,2076 L780.2,2076.7 L781.9,2077.3 L783.6,2078 L785.4,2078.6 L787.1,2079.2 L788.9,2079.9 L790.6,2080.5 L792.3,2081.1 L794.1,2081.7 L795.8,2082.4 L797.6,2083 L799.3,2083.6 L801.1,2084.2 L802.8,2084.8 L804.6,2085.4 L806.3,2086 L808.1,2086.6 L809.8,2087.2 L811.6,2087.8 L813.3,2088.4 L815.1,2089 L816.9,2089.6 L818.6,2090.2 L820.4,2090.7 L822.2,2091.3 L823.9,2091.9 L825.7,2092.4 L827.5,2093 L829.2,2093.6 L831,2094.1 L832.8,2094.7 L834.6,2095.2 L836.3,2095.7 L838.1,2096.3 L839.9,2096.8 L841.7,2097.3 L843.5,2097.9 L845.3,2098.4 L847,2098.9 L848.8,2099.4 L850.6,2099.9 L852.4,2100.4 L854.2,2100.9 L856,2101.4 L857.8,2101.9 L859.6,2102.4 L861.4,2102.8 L863.3,2103.3 L865.1,2103.8 L866.9,2104.2 L868.7,2104.7 L870.5,2105.1 L872.3,2105.6 L874.2,2106 L876,2106.5 L877.8,2106.9 L879.6,2107.3 L881.5,2107.7 L883.3,2108.2 L885.1,2108.6 L887,2109 L888.8,2109.4 L890.6,2109.7 L892.5,2110.1 L894.3,2110.5 L896.2,2110.9 L898,2111.2 L899.8,2111.6 L901.7,2111.9 L903.5,2112.3 L905.4,2112.6 L907.2,2113 L909.1,2113.3 L910.9,2113.6 L912.8,2113.9 L914.6,2114.2 L916.5,2114.5 L918.4,2114.8 L920.2,2115.1 L922.1,2115.4 L923.9,2115.6 L925.8,2115.9 L927.6,2116.1 L929.5,2116.4 L931.4,2116.6 L933.2,2116.8 L935.1,2117.1 L936.9,2117.3 L938.8,2117.5 L940.7,2117.7 L942.5,2117.9 L944.4,2118 L946.3,2118.2 L948.1,2118.4 L950,2118.5 L951.8,2118.7 L953.7,2118.8 L955.6,2118.9 L957.4,2119.1 L959.3,2119.2 L961.2,2119.3 L963,2119.4 L964.9,2119.5 L966.8,2119.5 L968.6,2119.6 L970.5,2119.7 L972.3,2119.7 L974.2,2119.7 L976.1,2119.8 L977.9,2119.8 L979.8,2119.8 L981.7,2119.8 L983.5,2119.8 L985.4,2119.8 L987.2,2119.7 L989.1,2119.7 L990.9,2119.6 L992.8,2119.6 L994.7,2119.5 L996.5,2119.4 L998.4,2119.3 L1000.2,2119.2 L1002.1,2119.1 L1003.9,2119 L1005.8,2118.9 L1007.6,2118.7 L1009.5,2118.6 L1011.3,2118.4 L1013.1,2118.2 L1015,2118 L1016.8,2117.8 L1018.7,2117.6 L1020.5,2117.4 L1022.3,2117.1 L1024.2,2116.9 L1026,2116.6 L1027.8,2116.4 L1029.7,2116.1 L1031.5,2115.8 L1033.3,2115.5 L1035.2,2115.2 L1037,2114.8 L1038.8,2114.5 L1040.6,2114.2 L1042.4,2113.8 L1044.3,2113.4 L1046.1,2113 L1047.9,2112.6 L1049.7,2112.2 L1051.5,2111.8 L1053.3,2111.3 L1055.1,2110.9 L1056.9,2110.4 L1058.7,2110 L1060.5,2109.5 L1062.3,2109 L1064.1,2108.5 L1065.9,2108 L1067.6,2107.4 L1069.4,2106.9 L1071.2,2106.3 L1073,2105.8 L1074.7,2105.2 L1076.5,2104.6 L1078.3,2104 L1080,2103.4 L1081.8,2102.7 L1083.5,2102.1 L1085.3,2101.5 L1087,2100.8 L1088.8,2100.1 L1090.5,2099.5 L1092.2,2098.8 L1094,2098.1 L1095.7,2097.4 L1097.4,2096.6 L1099.1,2095.9 L1100.8,2095.1 L1102.5,2094.4 L1104.2,2093.6 L1105.9,2092.8 L1107.6,2092 L1109.3,2091.2 L1111,2090.4 L1112.7,2089.6 L1114.3,2088.8 L1116,2087.9 L1117.7,2087.1 L1119.3,2086.2 L1121,2085.3 L1122.6,2084.5 L1124.3,2083.6 L1125.9,2082.7 L1127.5,2081.7 L1129.1,2080.8 L1130.8,2079.9 L1132.4,2078.9 L1134,2078 L1135.6,2077 L1137.2,2076 L1138.7,2075 L1140.3,2074 L1141.9,2073 L1143.5,2072 L1145,2071 L1146.6,2070 L1148.1,2068.9 L1149.7,2067.9 L1151.2,2066.8 L1152.7,2065.7 L1154.2,2064.6 L1155.7,2063.5 L1157.3,2062.4 L1158.7,2061.3 L1160.2,2060.2 L1161.7,2059.1 L1163.2,2057.9 L1164.7,2056.8 L1166.1,2055.6 L1167.6,2054.4 L1169,2053.2 L1170.5,2052.1 L1171.9,2050.9 L1173.3,2049.6 L1174.7,2048.4 L1176.1,2047.2 L1177.5,2046 L1178.9,2044.7 L1180.3,2043.5 L1181.7,2042.2 L1183,2040.9 L1184.4,2039.7 L1185.7,2038.4 L1187,2037.1 L1188.4,2035.8 L1189.7,2034.4 L1191,2033.1 L1192.3,2031.8 L1193.6,2030.4 L1194.9,2029.1 L1196.1,2027.7 L1197.4,2026.4 L1198.7,2025 L1199.9,2023.6 L1201.1,2022.2 L1202.4,2020.8 L1203.6,2019.4 L1204.8,2018 L1206,2016.6 L1207.2,2015.1 L1208.4,2013.7 L1209.5,2012.3 L1210.7,2010.8 L1211.8,2009.3 L1213,2007.9 L1214.1,2006.4 L1215.2,2004.9 L1216.4,2003.4 L1217.5,2001.9 L1218.6,2000.4 L1219.7,1998.9 L1220.7,1997.4 L1221.8,1995.9 L1222.9,1994.3 L1223.9,1992.8 L1225,1991.2 L1226,1989.7 L1227,1988.1 L1228.1,1986.6 L1229.1,1985 L1230.1,1983.4 L1231.1,1981.9 L1232.1,1980.3 L1233.1,1978.7 L1234,1977.1 L1235,1975.5 L1236,1973.9 L1236.9,1972.3 L1237.9,1970.7 L1238.8,1969 L1239.7,1967.4 L1240.6,1965.8 L1241.6,1964.1 L1242.5,1962.5 L1243.4,1960.9 L1244.3,1959.2 L1245.1,1957.5 L1246,1955.9 L1246.9,1954.2 L1247.7,1952.6 L1248.6,1950.9 L1249.4,1949.2 L1250.3,1947.5 L1251.1,1945.9 L1251.9,1944.2 L1252.8,1942.5 L1253.6,1940.8 L1254.4,1939.1 L1255.2,1937.4 L1256,1935.7 L1256.7,1934 L1257.5,1932.3 L1258.3,1930.6 L1259.1,1928.9 L1259.8,1927.1 L1260.6,1925.4 L1261.3,1923.7 L1262.1,1922 L1262.8,1920.3 L1263.5,1918.5 L1264.2,1916.8 L1264.9,1915.1 L1265.7,1913.3 L1266.4,1911.6 L1267.1,1909.9 L1267.7,1908.1 L1268.4,1906.4 L1269.1,1904.7 L1269.8,1902.9 L1270.4,1901.2 L1271.1,1899.4 L1271.8,1897.7 L1272.4,1895.9 L1273,1894.2 L1273.7,1892.4 L1274.3,1890.7 L1274.9,1888.9 L1275.6,1887.2 L1276.2,1885.4 L1276.8,1883.7 L1277.4,1881.9 L1278,1880.2 L1278.6,1878.4 L1279.2,1876.7 L1279.8,1874.9 L1280.4,1873.1 L1281,1871.4 L1281.6,1869.6 L1282.1,1867.9 L1282.7,1866.1 L1283.3,1864.3 L1283.9,1862.6 L1284.4,1860.8 L1285,1859 L1285.6,1857.3 L1286.1,1855.5 L1286.7,1853.7 L1287.2,1852 L1287.8,1850.2 L1288.3,1848.4 L1288.9,1846.7 L1289.4,1844.9 L1290,1843.1 L1290.5,1841.4 L1291,1839.6 L1291.6,1837.8 L1292.1,1836 L1292.6,1834.3 L1293.2,1832.5 L1293.7,1830.7 L1294.3,1828.9 L1294.8,1827.2 L1295.3,1825.4 L1295.9,1823.6 L1296.4,1821.8 L1296.9,1820 L1297.5,1818.3 L1298,1816.5 L1298.5,1814.7 L1299.1,1812.9 L1299.6,1811.1 L1300.1,1809.4 L1300.7,1807.6 L1301.2,1805.8 L1301.7,1804 L1302.3,1802.2 L1302.8,1800.4 L1303.3,1798.6 L1303.9,1796.9 L1304.4,1795.1 L1304.9,1793.3 L1305.5,1791.5 L1306,1789.7 L1306.5,1787.9 L1307.1,1786.1 L1307.6,1784.3 L1308.1,1782.6 L1308.7,1780.8 L1309.2,1779 L1309.7,1777.2 L1310.3,1775.4 L1310.8,1773.6 L1311.3,1771.8 L1311.9,1770 L1312.4,1768.2 L1312.9,1766.4 L1313.4,1764.6 L1313.9,1762.8 L1314.5,1761 L1315,1759.3 L1315.5,1757.5 L1316,1755.7 L1316.5,1753.9 L1317,1752.1 L1317.6,1750.3 L1318.1,1748.5 L1318.6,1746.7 L1319.1,1744.9 L1319.6,1743.1 L1320.1,1741.3 L1320.6,1739.5 L1321.1,1737.7 L1321.6,1735.9 L1322.1,1734.1 L1322.5,1732.3 L1323,1730.4 L1323.5,1728.6 L1324,1726.8 L1324.5,1725 L1325,1723.2 L1325.4,1721.4 L1325.9,1719.6 L1326.4,1717.8 L1326.8,1716 L1327.3,1714.2 L1327.8,1712.4 L1328.2,1710.6 L1328.7,1708.8 L1329.1,1706.9 L1329.6,1705.1 L1330,1703.3 L1330.5,1701.5 L1330.9,1699.7 L1331.3,1697.9 L1331.8,1696.1 L1332.2,1694.3 L1332.6,1692.4 L1333,1690.6 L1333.4,1688.8 L1333.8,1687 L1334.3,1685.2 L1334.7,1683.4 L1335.1,1681.5 L1335.5,1679.7 L1335.8,1677.9 L1336.2,1676.1 L1336.6,1674.3 L1337,1672.4 L1337.4,1670.6 L1337.7,1668.8 L1338.1,1667 L1338.4,1665.1 L1338.8,1663.3 L1339.2,1661.5 L1339.5,1659.7 L1339.8,1657.8 L1340.2,1656 L1340.5,1654.2 L1340.8,1652.4 L1341.1,1650.5 L1341.5,1648.7 L1341.8,1646.9 L1342.1,1645.1 L1342.4,1643.2 L1342.7,1641.4 L1343,1639.6 L1343.2,1637.7 L1343.5,1635.9 L1343.8,1634.1" fill="none" stroke="#fff" stroke-width="3.8" stroke-linejoin="round"/>
<path d="M196,2148.9 L200.5,2148.9 L205.1,2148.9 L209.6,2148.9 L214.2,2148.8 L218.7,2148.8 L223.3,2148.8 L227.8,2148.8 L232.3,2148.7 L236.9,2148.7 L241.4,2148.7 L246,2148.7 L250.5,2148.6 L255,2148.6 L259.6,2148.6 L264.1,2148.6 L268.7,2148.6 L273.2,2148.6 L277.7,2148.5 L282.3,2148.5 L286.8,2148.5 L291.4,2148.5 L295.9,2148.5 L300.4,2148.5 L305,2148.5 L309.5,2148.4 L314,2148.4 L318.6,2148.4 L323.1,2148.4 L327.7,2148.4 L332.2,2148.4 L336.7,2148.4 L341.3,2148.4 L345.8,2148.4 L350.3,2148.3 L354.9,2148.3 L359.4,2148.3 L363.9,2148.3 L368.5,2148.3 L373,2148.3 L377.5,2148.3 L382.1,2148.3 L386.6,2148.3 L391.1,2148.3 L395.7,2148.3 L400.2,2148.3 L404.7,2148.2 L409.3,2148.2 L413.8,2148.2 L418.3,2148.2 L422.9,2148.2 L427.4,2148.2 L431.9,2148.2 L436.5,2148.2 L441,2148.2 L445.5,2148.2 L450.1,2148.2 L454.6,2148.2 L459.1,2148.2 L463.7,2148.1 L468.2,2148.1 L472.7,2148.1 L477.3,2148.1 L481.8,2148.1 L486.3,2148.1 L490.9,2148.1 L495.4,2148.1 L499.9,2148.1 L504.5,2148 L509,2148 L513.5,2148 L518.1,2148 L522.6,2148 L527.1,2148 L531.7,2148 L536.2,2148 L540.7,2147.9 L545.3,2147.9 L549.8,2147.9 L554.3,2147.9 L558.9,2147.9 L563.4,2147.8 L567.9,2147.8 L572.5,2147.8 L577,2147.8 L581.5,2147.8 L586.1,2147.7 L590.6,2147.7 L595.1,2147.7 L599.7,2147.7 L604.2,2147.6 L608.7,2147.6 L613.3,2147.6 L617.8,2147.6 L622.3,2147.5 L626.9,2147.5 L631.4,2147.5 L635.9,2147.4 L640.5,2147.4 L645,2147.4 L649.6,2147.3 L654.1,2147.3 L658.6,2147.3 L663.2,2147.2 L667.7,2147.2 L672.2,2147.1 L676.8,2147.1 L681.3,2147.1 L685.9,2147 L690.4,2147 L694.9,2146.9 L699.5,2146.9 L704,2146.8 L708.5,2146.8 L713.1,2146.7 L717.6,2146.7 L722.2,2146.6 L726.7,2146.5 L731.2,2146.5 L735.8,2146.4 L740.3,2146.4 L744.9,2146.3 L749.4,2146.2 L754,2146.2 L758.5,2146.1 L763,2146 L767.6,2146 L772.1,2145.9 L776.7,2145.8 L781.2,2145.7 L785.7,2145.6 L790.3,2145.6 L794.8,2145.5 L799.4,2145.4 L803.9,2145.2 L808.5,2145.1 L813,2145 L817.5,2144.9 L822.1,2144.7 L826.6,2144.6 L831.2,2144.4 L835.7,2144.3 L840.2,2144.1 L844.8,2143.9 L849.3,2143.7 L853.8,2143.5 L858.4,2143.3 L862.9,2143.1 L867.4,2142.9 L872,2142.6 L876.5,2142.4 L881,2142.1 L885.5,2141.8 L890.1,2141.5 L894.6,2141.2 L899.1,2140.9 L903.6,2140.5 L908.1,2140.2 L912.7,2139.8 L917.2,2139.4 L921.7,2139 L926.2,2138.6 L930.7,2138.1 L935.2,2137.7 L939.7,2137.2 L944.2,2136.7 L948.7,2136.2 L953.2,2135.6 L957.7,2135.1 L962.2,2134.5 L966.7,2133.9 L971.1,2133.2 L975.6,2132.6 L980.1,2131.9 L984.5,2131.2 L989,2130.5 L993.5,2129.7 L997.9,2128.9 L1002.4,2128.1 L1006.8,2127.2 L1011.3,2126.4 L1015.7,2125.5 L1020.1,2124.5 L1024.5,2123.6 L1029,2122.6 L1033.4,2121.6 L1037.8,2120.5 L1042.2,2119.4 L1046.6,2118.3 L1051,2117.2 L1055.4,2116 L1059.7,2114.8 L1064.1,2113.5 L1068.5,2112.2 L1072.8,2110.9 L1077.2,2109.5 L1081.5,2108.1 L1085.9,2106.7 L1090.2,2105.2 L1094.5,2103.7 L1095.7,2101.7 L1097.4,2100.9 L1099.1,2100.2 L1100.8,2099.4 L1102.5,2098.7 L1104.2,2097.9 L1105.9,2097.1 L1107.6,2096.3 L1109.3,2095.5 L1111,2094.7 L1112.7,2093.9 L1114.3,2093.1 L1116,2092.2 L1117.7,2091.4 L1119.3,2090.5 L1121,2089.6 L1122.6,2088.8 L1124.3,2087.9 L1125.9,2087 L1127.5,2086 L1129.1,2085.1 L1130.8,2084.2 L1132.4,2083.2 L1134,2082.3 L1135.6,2081.3 L1137.2,2080.3 L1138.7,2079.3 L1140.3,2078.3 L1141.9,2077.3 L1143.5,2076.3 L1145,2075.3 L1146.6,2074.3 L1148.1,2073.2 L1149.7,2072.2 L1151.2,2071.1 L1152.7,2070 L1154.2,2068.9 L1155.7,2067.8 L1157.3,2066.7 L1158.7,2065.6 L1160.2,2064.5 L1161.7,2063.4 L1163.2,2062.2 L1164.7,2061.1 L1166.1,2059.9 L1167.6,2058.7 L1169,2057.5 L1170.5,2056.4 L1171.9,2055.2 L1173.3,2053.9 L1174.7,2052.7 L1176.1,2051.5 L1177.5,2050.3 L1178.9,2049 L1180.3,2047.8 L1181.7,2046.5 L1183,2045.2 L1184.4,2044 L1185.7,2042.7 L1187,2041.4 L1188.4,2040.1 L1189.7,2038.7 L1191,2037.4 L1192.3,2036.1 L1193.6,2034.7 L1194.9,2033.4 L1196.1,2032 L1197.4,2030.7 L1198.7,2029.3 L1199.9,2027.9 L1201.1,2026.4 L1202.4,2025 L1203.6,2023.5 L1204.8,2022 L1206,2020.4 L1207.2,2018.9 L1208.4,2017.4 L1209.5,2015.9 L1210.7,2014.3 L1211.8,2012.8 L1213,2011.2 L1214.1,2009.7 L1215.2,2008.1 L1216.4,2006.5 L1217.5,2005 L1218.6,2003.4 L1219.7,2001.8 L1220.7,2000.2 L1221.8,1998.6 L1222.9,1997 L1223.9,1995.4 L1225,1993.8 L1226,1992.1 L1227,1990.5 L1228.1,1988.9 L1229.1,1987.2 L1230.1,1985.6 L1231.1,1983.9 L1232.1,1982.3 L1233.1,1980.6 L1234,1978.9 L1235,1977.3 L1236,1975.6 L1236.9,1973.9 L1237.9,1972.2 L1238.8,1970.5 L1239.7,1968.9 L1240.6,1967.2 L1241.6,1965.5 L1242.5,1963.8 L1243.4,1962 L1244.3,1960.3 L1245.1,1958.6 L1246,1956.9 L1246.9,1955.2 L1247.7,1953.4 L1248.6,1951.7 L1249.4,1950 L1250.3,1948.2 L1251.1,1946.5 L1251.9,1944.8 L1252.8,1943 L1253.6,1941.3 L1254.4,1939.5 L1255.2,1937.7 L1256,1936 L1256.7,1934.2 L1257.5,1932.5 L1258.3,1930.7 L1259.1,1928.9 L1259.8,1927.2 L1260.6,1925.4 L1261.3,1923.7" fill="none" stroke="#fff" stroke-width="3.4" stroke-linejoin="round"/>
<path d="M194,2148.9 L200.2,2148.7 L206.3,2148.5 L212.5,2148.3 L218.6,2148.2 L224.8,2148 L230.9,2147.9 L237.1,2147.7 L243.2,2147.6 L249.4,2147.5 L255.5,2147.4 L261.7,2147.3 L267.8,2147.1 L274,2147 L280.1,2146.9 L286.3,2146.8 L292.4,2146.8 L298.6,2146.7 L304.7,2146.6 L310.9,2146.5 L317.1,2146.5 L323.2,2146.4 L329.4,2146.4 L335.5,2146.3 L341.7,2146.3 L347.8,2146.2 L354,2146.2 L360.1,2146.1 L366.3,2146.1 L372.4,2146.1 L378.6,2146.1 L384.8,2146.1 L390.9,2146 L397.1,2146 L403.2,2146 L409.4,2146 L415.5,2146 L421.7,2146 L427.8,2146 L434,2146 L440.2,2146.1 L446.3,2146.1 L452.5,2146.1 L458.6,2146.1 L464.8,2146.1 L470.9,2146.2 L477.1,2146.2 L483.2,2146.2 L489.4,2146.3 L495.6,2146.3 L501.7,2146.3 L507.9,2146.4 L514,2146.4 L520.2,2146.5 L526.3,2146.5 L532.5,2146.6 L538.7,2146.6 L544.8,2146.7 L551,2146.7 L557.1,2146.8 L563.3,2146.8 L569.4,2146.9 L575.6,2146.9 L581.8,2147 L587.9,2147 L594.1,2147.1 L600.2,2147.1 L606.4,2147.2 L612.5,2147.3 L618.7,2147.3 L624.9,2147.4 L631,2147.4 L637.2,2147.5 L643.3,2147.5 L649.5,2147.6 L655.6,2147.6 L661.8,2147.7 L668,2147.7 L674.1,2147.8 L680.3,2147.9 L686.4,2147.9 L692.6,2148 L698.7,2148 L704.9,2148 L711.1,2148.1 L717.2,2148.1 L723.4,2148.2 L729.5,2148.2 L735.7,2148.2 L741.8,2148.3 L748,2148.3 L754.2,2148.3 L760.3,2148.4 L766.5,2148.4 L772.6,2148.4 L778.8,2148.4 L784.9,2148.5 L791.1,2148.5 L797.3,2148.5 L803.4,2148.5 L809.6,2148.5 L815.7,2148.5 L821.9,2148.5 L828,2148.5 L834.2,2148.5 L840.4,2148.5 L846.5,2148.5 L852.7,2148.5 L858.8,2148.4 L865,2148.4 L871.1,2148.4 L877.3,2148.3 L883.5,2148.3 L889.6,2148.3 L895.8,2148.2 L901.9,2148.2 L908.1,2148.1 L914.2,2148 L920.4,2148 L926.6,2147.9 L932.7,2147.8 L938.9,2147.7 L945,2147.6 L951.2,2147.5 L957.3,2147.4 L963.5,2147.3 L969.6,2147.2 L975.8,2147.1 L982,2147 L988.1,2146.9 L994.3,2146.7 L1000.4,2146.6 L1006.6,2146.4 L1012.7,2146.3 L1018.9,2146.1 L1025,2145.9 L1031.2,2145.8 L1037.4,2145.6 L1043.5,2145.4 L1049.7,2145.2 L1055.8,2145 L1062,2144.8 L1068.1,2144.6 L1074.3,2144.3 L1080.4,2144.1 L1086.6,2143.9 L1092.7,2143.6 L1098.9,2143.3 L1105,2143.1 L1111.2,2142.8 L1117.4,2142.5 L1123.5,2142.2 L1129.7,2141.9 L1135.8,2141.6 L1142,2141.3 L1148.1,2141 L1154.3,2140.6 L1160.4,2140.3 L1166.6,2139.9 L1172.7,2139.6 L1178.9,2139.2 L1185,2138.8 L1191.2,2138.4 L1197.3,2138 L1203.5,2137.5 L1209.6,2137.1 L1215.7,2136.6 L1221.9,2136 L1228,2135.5 L1234.1,2134.9 L1240.2,2134.3 L1246.3,2133.6 L1252.4,2132.9 L1258.5,2132.1 L1264.6,2131.3 L1270.7,2130.5 L1276.7,2129.6 L1282.8,2128.6 L1288.8,2127.6 L1294.9,2126.6 L1300.9,2125.5 L1306.9,2124.3 L1312.9,2123 L1318.9,2121.7 L1324.8,2120.3 L1330.8,2118.8 L1336.7,2117.3 L1342.6,2115.7 L1348.5,2114 L1354.4,2112.2 L1360.3,2110.3 L1366.1,2108.4 L1371.9,2106.3 L1377.8,2104.2 L1383.6,2102 L1389.3,2099.7 L1395.1,2097.2 L1400.8,2094.7 L1406.5,2092.1 L1412.2,2089.3" fill="none" stroke="#fff" stroke-width="3.2" stroke-linejoin="round"/>
</g>
<g clip-path="url(#cl)">
<rect x="196" y="2233.6" width="1212" height="120" fill="#C91E48"/>
<path d="M196,2320.6 C213.3,2320.6 266,2320.6 300,2320.5 C334,2320.4 370,2320.4 400,2320.3 C430,2320.2 461.4,2320.2 480,2319.9 C498.6,2319.6 498.4,2319.2 511.7,2318.6 C525,2318 546,2317 560,2316.3 C574,2315.6 580.2,2315.1 595.4,2314.2 C610.6,2313.2 634.9,2311.8 651.2,2310.6 C667.5,2309.4 682.4,2307.8 693.1,2306.8 C703.8,2305.8 707.6,2305.2 715.4,2304.8 C723.2,2304.4 725.9,2304.6 740,2304.6 C754.1,2304.6 688.3,2304.6 800,2304.6 C911.7,2304.6 1308.3,2304.6 1410,2304.6 L1410,2356 L196,2356 Z" fill="#B8B433"/>
<path d="M196,2321.4 C213.3,2321.4 266,2321.5 300,2321.5 C334,2321.5 370,2321.5 400,2321.5 C430,2321.5 453.3,2321.5 480,2321.7 C506.7,2321.9 531.5,2322.2 560,2322.8 C588.5,2323.4 629.5,2324.6 651.2,2325.3 C672.9,2326 680.7,2326.6 690,2327 C699.3,2327.4 700.3,2327.5 707,2327.6 C713.7,2327.7 714.5,2327.7 730,2327.7 C745.5,2327.7 686.7,2327.7 800,2327.7 C913.3,2327.7 1308.3,2327.7 1410,2327.7 L1410,2356 L196,2356 Z" fill="#DE3726"/>
<path d="M196,2320.6 C213.3,2320.6 266,2320.6 300,2320.5 C334,2320.4 370,2320.4 400,2320.3 C430,2320.2 461.4,2320.2 480,2319.9 C498.6,2319.6 498.4,2319.2 511.7,2318.6 C525,2318 546,2317 560,2316.3 C574,2315.6 580.2,2315.1 595.4,2314.2 C610.6,2313.2 634.9,2311.8 651.2,2310.6 C667.5,2309.4 682.4,2307.8 693.1,2306.8 C703.8,2305.8 707.6,2305.2 715.4,2304.8 C723.2,2304.4 725.9,2304.6 740,2304.6 C754.1,2304.6 688.3,2304.6 800,2304.6 C911.7,2304.6 1308.3,2304.6 1410,2304.6" fill="none" stroke="#fff" stroke-width="3.6"/>
<path d="M196,2321.4 C213.3,2321.4 266,2321.5 300,2321.5 C334,2321.5 370,2321.5 400,2321.5 C430,2321.5 453.3,2321.5 480,2321.7 C506.7,2321.9 531.5,2322.2 560,2322.8 C588.5,2323.4 629.5,2324.6 651.2,2325.3 C672.9,2326 680.7,2326.6 690,2327 C699.3,2327.4 700.3,2327.5 707,2327.6 C713.7,2327.7 714.5,2327.7 730,2327.7 C745.5,2327.7 686.7,2327.7 800,2327.7 C913.3,2327.7 1308.3,2327.7 1410,2327.7" fill="none" stroke="#fff" stroke-width="3.6"/>
<line x1="196" y1="2348.6" x2="1410" y2="2348.6" stroke="#fff" stroke-width="1.6"/>
</g>
<line x1="195.4" y1="2026" x2="1408" y2="2026" stroke="#58595B" stroke-width="5.8" stroke-dasharray="12.4,6.47"/>
<line x1="195.4" y1="2231.8" x2="1408" y2="2231.8" stroke="#58595B" stroke-width="5.8" stroke-dasharray="12.4,6.47"/>
<line x1="1131" y1="2147" x2="1131" y2="1642.3" stroke="#58595B" stroke-width="6" stroke-dasharray="12.1,6.73"/>
<line x1="1131" y1="2353.2" x2="1131" y2="2185" stroke="#58595B" stroke-width="6" stroke-dasharray="12.1,6.73"/>
<line x1="205" y1="1644.3" x2="205" y2="1654.5" stroke="#231F20" stroke-width="2.8"/>
<line x1="205" y1="2145" x2="205" y2="2134.8" stroke="#231F20" stroke-width="2.8"/>
<line x1="218.4" y1="1644.3" x2="218.4" y2="1654.5" stroke="#231F20" stroke-width="2.8"/>
<line x1="218.4" y1="2145" x2="218.4" y2="2134.8" stroke="#231F20" stroke-width="2.8"/>
<line x1="230.2" y1="1644.3" x2="230.2" y2="1654.5" stroke="#231F20" stroke-width="2.8"/>
<line x1="230.2" y1="2145" x2="230.2" y2="2134.8" stroke="#231F20" stroke-width="2.8"/>
<line x1="240.8" y1="1644.3" x2="240.8" y2="1667.1" stroke="#231F20" stroke-width="2.8"/>
<line x1="240.8" y1="2145" x2="240.8" y2="2122.2" stroke="#231F20" stroke-width="2.8"/>
<line x1="310.4" y1="1644.3" x2="310.4" y2="1654.5" stroke="#231F20" stroke-width="2.8"/>
<line x1="310.4" y1="2145" x2="310.4" y2="2134.8" stroke="#231F20" stroke-width="2.8"/>
<line x1="351.2" y1="1644.3" x2="351.2" y2="1654.5" stroke="#231F20" stroke-width="2.8"/>
<line x1="351.2" y1="2145" x2="351.2" y2="2134.8" stroke="#231F20" stroke-width="2.8"/>
<line x1="380.1" y1="1644.3" x2="380.1" y2="1654.5" stroke="#231F20" stroke-width="2.8"/>
<line x1="380.1" y1="2145" x2="380.1" y2="2134.8" stroke="#231F20" stroke-width="2.8"/>
<line x1="402.5" y1="1644.3" x2="402.5" y2="1654.5" stroke="#231F20" stroke-width="2.8"/>
<line x1="402.5" y1="2145" x2="402.5" y2="2134.8" stroke="#231F20" stroke-width="2.8"/>
<line x1="420.8" y1="1644.3" x2="420.8" y2="1654.5" stroke="#231F20" stroke-width="2.8"/>
<line x1="420.8" y1="2145" x2="420.8" y2="2134.8" stroke="#231F20" stroke-width="2.8"/>
<line x1="436.3" y1="1644.3" x2="436.3" y2="1654.5" stroke="#231F20" stroke-width="2.8"/>
<line x1="436.3" y1="2145" x2="436.3" y2="2134.8" stroke="#231F20" stroke-width="2.8"/>
<line x1="449.7" y1="1644.3" x2="449.7" y2="1654.5" stroke="#231F20" stroke-width="2.8"/>
<line x1="449.7" y1="2145" x2="449.7" y2="2134.8" stroke="#231F20" stroke-width="2.8"/>
<line x1="461.5" y1="1644.3" x2="461.5" y2="1654.5" stroke="#231F20" stroke-width="2.8"/>
<line x1="461.5" y1="2145" x2="461.5" y2="2134.8" stroke="#231F20" stroke-width="2.8"/>
<line x1="472.1" y1="1644.3" x2="472.1" y2="1667.1" stroke="#231F20" stroke-width="2.8"/>
<line x1="472.1" y1="2145" x2="472.1" y2="2122.2" stroke="#231F20" stroke-width="2.8"/>
<line x1="541.7" y1="1644.3" x2="541.7" y2="1654.5" stroke="#231F20" stroke-width="2.8"/>
<line x1="541.7" y1="2145" x2="541.7" y2="2134.8" stroke="#231F20" stroke-width="2.8"/>
<line x1="582.5" y1="1644.3" x2="582.5" y2="1654.5" stroke="#231F20" stroke-width="2.8"/>
<line x1="582.5" y1="2145" x2="582.5" y2="2134.8" stroke="#231F20" stroke-width="2.8"/>
<line x1="611.4" y1="1644.3" x2="611.4" y2="1654.5" stroke="#231F20" stroke-width="2.8"/>
<line x1="611.4" y1="2145" x2="611.4" y2="2134.8" stroke="#231F20" stroke-width="2.8"/>
<line x1="633.8" y1="1644.3" x2="633.8" y2="1654.5" stroke="#231F20" stroke-width="2.8"/>
<line x1="633.8" y1="2145" x2="633.8" y2="2134.8" stroke="#231F20" stroke-width="2.8"/>
<line x1="652.1" y1="1644.3" x2="652.1" y2="1654.5" stroke="#231F20" stroke-width="2.8"/>
<line x1="652.1" y1="2145" x2="652.1" y2="2134.8" stroke="#231F20" stroke-width="2.8"/>
<line x1="667.6" y1="1644.3" x2="667.6" y2="1654.5" stroke="#231F20" stroke-width="2.8"/>
<line x1="667.6" y1="2145" x2="667.6" y2="2134.8" stroke="#231F20" stroke-width="2.8"/>
<line x1="681" y1="1644.3" x2="681" y2="1654.5" stroke="#231F20" stroke-width="2.8"/>
<line x1="681" y1="2145" x2="681" y2="2134.8" stroke="#231F20" stroke-width="2.8"/>
<line x1="692.8" y1="1644.3" x2="692.8" y2="1654.5" stroke="#231F20" stroke-width="2.8"/>
<line x1="692.8" y1="2145" x2="692.8" y2="2134.8" stroke="#231F20" stroke-width="2.8"/>
<line x1="703.4" y1="1644.3" x2="703.4" y2="1667.1" stroke="#231F20" stroke-width="2.8"/>
<line x1="703.4" y1="2145" x2="703.4" y2="2122.2" stroke="#231F20" stroke-width="2.8"/>
<line x1="773" y1="1644.3" x2="773" y2="1654.5" stroke="#231F20" stroke-width="2.8"/>
<line x1="773" y1="2145" x2="773" y2="2134.8" stroke="#231F20" stroke-width="2.8"/>
<line x1="813.8" y1="1644.3" x2="813.8" y2="1654.5" stroke="#231F20" stroke-width="2.8"/>
<line x1="813.8" y1="2145" x2="813.8" y2="2134.8" stroke="#231F20" stroke-width="2.8"/>
<line x1="842.7" y1="1644.3" x2="842.7" y2="1654.5" stroke="#231F20" stroke-width="2.8"/>
<line x1="842.7" y1="2145" x2="842.7" y2="2134.8" stroke="#231F20" stroke-width="2.8"/>
<line x1="865.1" y1="1644.3" x2="865.1" y2="1654.5" stroke="#231F20" stroke-width="2.8"/>
<line x1="865.1" y1="2145" x2="865.1" y2="2134.8" stroke="#231F20" stroke-width="2.8"/>
<line x1="883.4" y1="1644.3" x2="883.4" y2="1654.5" stroke="#231F20" stroke-width="2.8"/>
<line x1="883.4" y1="2145" x2="883.4" y2="2134.8" stroke="#231F20" stroke-width="2.8"/>
<line x1="898.9" y1="1644.3" x2="898.9" y2="1654.5" stroke="#231F20" stroke-width="2.8"/>
<line x1="898.9" y1="2145" x2="898.9" y2="2134.8" stroke="#231F20" stroke-width="2.8"/>
<line x1="912.3" y1="1644.3" x2="912.3" y2="1654.5" stroke="#231F20" stroke-width="2.8"/>
<line x1="912.3" y1="2145" x2="912.3" y2="2134.8" stroke="#231F20" stroke-width="2.8"/>
<line x1="924.1" y1="1644.3" x2="924.1" y2="1654.5" stroke="#231F20" stroke-width="2.8"/>
<line x1="924.1" y1="2145" x2="924.1" y2="2134.8" stroke="#231F20" stroke-width="2.8"/>
<line x1="934.7" y1="1644.3" x2="934.7" y2="1667.1" stroke="#231F20" stroke-width="2.8"/>
<line x1="934.7" y1="2145" x2="934.7" y2="2122.2" stroke="#231F20" stroke-width="2.8"/>
<line x1="1004.3" y1="1644.3" x2="1004.3" y2="1654.5" stroke="#231F20" stroke-width="2.8"/>
<line x1="1004.3" y1="2145" x2="1004.3" y2="2134.8" stroke="#231F20" stroke-width="2.8"/>
<line x1="1045.1" y1="1644.3" x2="1045.1" y2="1654.5" stroke="#231F20" stroke-width="2.8"/>
<line x1="1045.1" y1="2145" x2="1045.1" y2="2134.8" stroke="#231F20" stroke-width="2.8"/>
<line x1="1074" y1="1644.3" x2="1074" y2="1654.5" stroke="#231F20" stroke-width="2.8"/>
<line x1="1074" y1="2145" x2="1074" y2="2134.8" stroke="#231F20" stroke-width="2.8"/>
<line x1="1096.4" y1="1644.3" x2="1096.4" y2="1654.5" stroke="#231F20" stroke-width="2.8"/>
<line x1="1096.4" y1="2145" x2="1096.4" y2="2134.8" stroke="#231F20" stroke-width="2.8"/>
<line x1="1114.7" y1="1644.3" x2="1114.7" y2="1654.5" stroke="#231F20" stroke-width="2.8"/>
<line x1="1114.7" y1="2145" x2="1114.7" y2="2134.8" stroke="#231F20" stroke-width="2.8"/>
<line x1="1130.2" y1="1644.3" x2="1130.2" y2="1654.5" stroke="#231F20" stroke-width="2.8"/>
<line x1="1130.2" y1="2145" x2="1130.2" y2="2134.8" stroke="#231F20" stroke-width="2.8"/>
<line x1="1143.6" y1="1644.3" x2="1143.6" y2="1654.5" stroke="#231F20" stroke-width="2.8"/>
<line x1="1143.6" y1="2145" x2="1143.6" y2="2134.8" stroke="#231F20" stroke-width="2.8"/>
<line x1="1155.4" y1="1644.3" x2="1155.4" y2="1654.5" stroke="#231F20" stroke-width="2.8"/>
<line x1="1155.4" y1="2145" x2="1155.4" y2="2134.8" stroke="#231F20" stroke-width="2.8"/>
<line x1="1166" y1="1644.3" x2="1166" y2="1667.1" stroke="#231F20" stroke-width="2.8"/>
<line x1="1166" y1="2145" x2="1166" y2="2122.2" stroke="#231F20" stroke-width="2.8"/>
<line x1="1235.6" y1="1644.3" x2="1235.6" y2="1654.5" stroke="#231F20" stroke-width="2.8"/>
<line x1="1235.6" y1="2145" x2="1235.6" y2="2134.8" stroke="#231F20" stroke-width="2.8"/>
<line x1="1276.4" y1="1644.3" x2="1276.4" y2="1654.5" stroke="#231F20" stroke-width="2.8"/>
<line x1="1276.4" y1="2145" x2="1276.4" y2="2134.8" stroke="#231F20" stroke-width="2.8"/>
<line x1="1305.3" y1="1644.3" x2="1305.3" y2="1654.5" stroke="#231F20" stroke-width="2.8"/>
<line x1="1305.3" y1="2145" x2="1305.3" y2="2134.8" stroke="#231F20" stroke-width="2.8"/>
<line x1="1327.7" y1="1644.3" x2="1327.7" y2="1654.5" stroke="#231F20" stroke-width="2.8"/>
<line x1="1327.7" y1="2145" x2="1327.7" y2="2134.8" stroke="#231F20" stroke-width="2.8"/>
<line x1="1346" y1="1644.3" x2="1346" y2="1654.5" stroke="#231F20" stroke-width="2.8"/>
<line x1="1346" y1="2145" x2="1346" y2="2134.8" stroke="#231F20" stroke-width="2.8"/>
<line x1="1361.5" y1="1644.3" x2="1361.5" y2="1654.5" stroke="#231F20" stroke-width="2.8"/>
<line x1="1361.5" y1="2145" x2="1361.5" y2="2134.8" stroke="#231F20" stroke-width="2.8"/>
<line x1="1374.9" y1="1644.3" x2="1374.9" y2="1654.5" stroke="#231F20" stroke-width="2.8"/>
<line x1="1374.9" y1="2145" x2="1374.9" y2="2134.8" stroke="#231F20" stroke-width="2.8"/>
<line x1="1386.7" y1="1644.3" x2="1386.7" y2="1654.5" stroke="#231F20" stroke-width="2.8"/>
<line x1="1386.7" y1="2145" x2="1386.7" y2="2134.8" stroke="#231F20" stroke-width="2.8"/>
<line x1="1397.3" y1="1644.3" x2="1397.3" y2="1667.1" stroke="#231F20" stroke-width="2.8"/>
<line x1="1397.3" y1="2145" x2="1397.3" y2="2122.2" stroke="#231F20" stroke-width="2.8"/>
<line x1="205" y1="2187" x2="205" y2="2197.2" stroke="#231F20" stroke-width="2.8"/>
<line x1="205" y1="2351.2" x2="205" y2="2341" stroke="#231F20" stroke-width="2.8"/>
<line x1="218.4" y1="2187" x2="218.4" y2="2197.2" stroke="#231F20" stroke-width="2.8"/>
<line x1="218.4" y1="2351.2" x2="218.4" y2="2341" stroke="#231F20" stroke-width="2.8"/>
<line x1="230.2" y1="2187" x2="230.2" y2="2197.2" stroke="#231F20" stroke-width="2.8"/>
<line x1="230.2" y1="2351.2" x2="230.2" y2="2341" stroke="#231F20" stroke-width="2.8"/>
<line x1="240.8" y1="2187" x2="240.8" y2="2209.8" stroke="#231F20" stroke-width="2.8"/>
<line x1="240.8" y1="2351.2" x2="240.8" y2="2328.4" stroke="#231F20" stroke-width="2.8"/>
<line x1="310.4" y1="2187" x2="310.4" y2="2197.2" stroke="#231F20" stroke-width="2.8"/>
<line x1="310.4" y1="2351.2" x2="310.4" y2="2341" stroke="#231F20" stroke-width="2.8"/>
<line x1="351.2" y1="2187" x2="351.2" y2="2197.2" stroke="#231F20" stroke-width="2.8"/>
<line x1="351.2" y1="2351.2" x2="351.2" y2="2341" stroke="#231F20" stroke-width="2.8"/>
<line x1="380.1" y1="2187" x2="380.1" y2="2197.2" stroke="#231F20" stroke-width="2.8"/>
<line x1="380.1" y1="2351.2" x2="380.1" y2="2341" stroke="#231F20" stroke-width="2.8"/>
<line x1="402.5" y1="2187" x2="402.5" y2="2197.2" stroke="#231F20" stroke-width="2.8"/>
<line x1="402.5" y1="2351.2" x2="402.5" y2="2341" stroke="#231F20" stroke-width="2.8"/>
<line x1="420.8" y1="2187" x2="420.8" y2="2197.2" stroke="#231F20" stroke-width="2.8"/>
<line x1="420.8" y1="2351.2" x2="420.8" y2="2341" stroke="#231F20" stroke-width="2.8"/>
<line x1="436.3" y1="2187" x2="436.3" y2="2197.2" stroke="#231F20" stroke-width="2.8"/>
<line x1="436.3" y1="2351.2" x2="436.3" y2="2341" stroke="#231F20" stroke-width="2.8"/>
<line x1="449.7" y1="2187" x2="449.7" y2="2197.2" stroke="#231F20" stroke-width="2.8"/>
<line x1="449.7" y1="2351.2" x2="449.7" y2="2341" stroke="#231F20" stroke-width="2.8"/>
<line x1="461.5" y1="2187" x2="461.5" y2="2197.2" stroke="#231F20" stroke-width="2.8"/>
<line x1="461.5" y1="2351.2" x2="461.5" y2="2341" stroke="#231F20" stroke-width="2.8"/>
<line x1="472.1" y1="2187" x2="472.1" y2="2209.8" stroke="#231F20" stroke-width="2.8"/>
<line x1="472.1" y1="2351.2" x2="472.1" y2="2328.4" stroke="#231F20" stroke-width="2.8"/>
<line x1="541.7" y1="2187" x2="541.7" y2="2197.2" stroke="#231F20" stroke-width="2.8"/>
<line x1="541.7" y1="2351.2" x2="541.7" y2="2341" stroke="#231F20" stroke-width="2.8"/>
<line x1="582.5" y1="2187" x2="582.5" y2="2197.2" stroke="#231F20" stroke-width="2.8"/>
<line x1="582.5" y1="2351.2" x2="582.5" y2="2341" stroke="#231F20" stroke-width="2.8"/>
<line x1="611.4" y1="2187" x2="611.4" y2="2197.2" stroke="#231F20" stroke-width="2.8"/>
<line x1="611.4" y1="2351.2" x2="611.4" y2="2341" stroke="#231F20" stroke-width="2.8"/>
<line x1="633.8" y1="2187" x2="633.8" y2="2197.2" stroke="#231F20" stroke-width="2.8"/>
<line x1="633.8" y1="2351.2" x2="633.8" y2="2341" stroke="#231F20" stroke-width="2.8"/>
<line x1="652.1" y1="2187" x2="652.1" y2="2197.2" stroke="#231F20" stroke-width="2.8"/>
<line x1="652.1" y1="2351.2" x2="652.1" y2="2341" stroke="#231F20" stroke-width="2.8"/>
<line x1="667.6" y1="2187" x2="667.6" y2="2197.2" stroke="#231F20" stroke-width="2.8"/>
<line x1="667.6" y1="2351.2" x2="667.6" y2="2341" stroke="#231F20" stroke-width="2.8"/>
<line x1="681" y1="2187" x2="681" y2="2197.2" stroke="#231F20" stroke-width="2.8"/>
<line x1="681" y1="2351.2" x2="681" y2="2341" stroke="#231F20" stroke-width="2.8"/>
<line x1="692.8" y1="2187" x2="692.8" y2="2197.2" stroke="#231F20" stroke-width="2.8"/>
<line x1="692.8" y1="2351.2" x2="692.8" y2="2341" stroke="#231F20" stroke-width="2.8"/>
<line x1="703.4" y1="2187" x2="703.4" y2="2209.8" stroke="#231F20" stroke-width="2.8"/>
<line x1="703.4" y1="2351.2" x2="703.4" y2="2328.4" stroke="#231F20" stroke-width="2.8"/>
<line x1="773" y1="2187" x2="773" y2="2197.2" stroke="#231F20" stroke-width="2.8"/>
<line x1="773" y1="2351.2" x2="773" y2="2341" stroke="#231F20" stroke-width="2.8"/>
<line x1="813.8" y1="2187" x2="813.8" y2="2197.2" stroke="#231F20" stroke-width="2.8"/>
<line x1="813.8" y1="2351.2" x2="813.8" y2="2341" stroke="#231F20" stroke-width="2.8"/>
<line x1="842.7" y1="2187" x2="842.7" y2="2197.2" stroke="#231F20" stroke-width="2.8"/>
<line x1="842.7" y1="2351.2" x2="842.7" y2="2341" stroke="#231F20" stroke-width="2.8"/>
<line x1="865.1" y1="2187" x2="865.1" y2="2197.2" stroke="#231F20" stroke-width="2.8"/>
<line x1="865.1" y1="2351.2" x2="865.1" y2="2341" stroke="#231F20" stroke-width="2.8"/>
<line x1="883.4" y1="2187" x2="883.4" y2="2197.2" stroke="#231F20" stroke-width="2.8"/>
<line x1="883.4" y1="2351.2" x2="883.4" y2="2341" stroke="#231F20" stroke-width="2.8"/>
<line x1="898.9" y1="2187" x2="898.9" y2="2197.2" stroke="#231F20" stroke-width="2.8"/>
<line x1="898.9" y1="2351.2" x2="898.9" y2="2341" stroke="#231F20" stroke-width="2.8"/>
<line x1="912.3" y1="2187" x2="912.3" y2="2197.2" stroke="#231F20" stroke-width="2.8"/>
<line x1="912.3" y1="2351.2" x2="912.3" y2="2341" stroke="#231F20" stroke-width="2.8"/>
<line x1="924.1" y1="2187" x2="924.1" y2="2197.2" stroke="#231F20" stroke-width="2.8"/>
<line x1="924.1" y1="2351.2" x2="924.1" y2="2341" stroke="#231F20" stroke-width="2.8"/>
<line x1="934.7" y1="2187" x2="934.7" y2="2209.8" stroke="#231F20" stroke-width="2.8"/>
<line x1="934.7" y1="2351.2" x2="934.7" y2="2328.4" stroke="#231F20" stroke-width="2.8"/>
<line x1="1004.3" y1="2187" x2="1004.3" y2="2197.2" stroke="#231F20" stroke-width="2.8"/>
<line x1="1004.3" y1="2351.2" x2="1004.3" y2="2341" stroke="#231F20" stroke-width="2.8"/>
<line x1="1045.1" y1="2187" x2="1045.1" y2="2197.2" stroke="#231F20" stroke-width="2.8"/>
<line x1="1045.1" y1="2351.2" x2="1045.1" y2="2341" stroke="#231F20" stroke-width="2.8"/>
<line x1="1074" y1="2187" x2="1074" y2="2197.2" stroke="#231F20" stroke-width="2.8"/>
<line x1="1074" y1="2351.2" x2="1074" y2="2341" stroke="#231F20" stroke-width="2.8"/>
<line x1="1096.4" y1="2187" x2="1096.4" y2="2197.2" stroke="#231F20" stroke-width="2.8"/>
<line x1="1096.4" y1="2351.2" x2="1096.4" y2="2341" stroke="#231F20" stroke-width="2.8"/>
<line x1="1114.7" y1="2187" x2="1114.7" y2="2197.2" stroke="#231F20" stroke-width="2.8"/>
<line x1="1114.7" y1="2351.2" x2="1114.7" y2="2341" stroke="#231F20" stroke-width="2.8"/>
<line x1="1130.2" y1="2187" x2="1130.2" y2="2197.2" stroke="#231F20" stroke-width="2.8"/>
<line x1="1130.2" y1="2351.2" x2="1130.2" y2="2341" stroke="#231F20" stroke-width="2.8"/>
<line x1="1143.6" y1="2187" x2="1143.6" y2="2197.2" stroke="#231F20" stroke-width="2.8"/>
<line x1="1143.6" y1="2351.2" x2="1143.6" y2="2341" stroke="#231F20" stroke-width="2.8"/>
<line x1="1155.4" y1="2187" x2="1155.4" y2="2197.2" stroke="#231F20" stroke-width="2.8"/>
<line x1="1155.4" y1="2351.2" x2="1155.4" y2="2341" stroke="#231F20" stroke-width="2.8"/>
<line x1="1166" y1="2187" x2="1166" y2="2209.8" stroke="#231F20" stroke-width="2.8"/>
<line x1="1166" y1="2351.2" x2="1166" y2="2328.4" stroke="#231F20" stroke-width="2.8"/>
<line x1="1235.6" y1="2187" x2="1235.6" y2="2197.2" stroke="#231F20" stroke-width="2.8"/>
<line x1="1235.6" y1="2351.2" x2="1235.6" y2="2341" stroke="#231F20" stroke-width="2.8"/>
<line x1="1276.4" y1="2187" x2="1276.4" y2="2197.2" stroke="#231F20" stroke-width="2.8"/>
<line x1="1276.4" y1="2351.2" x2="1276.4" y2="2341" stroke="#231F20" stroke-width="2.8"/>
<line x1="1305.3" y1="2187" x2="1305.3" y2="2197.2" stroke="#231F20" stroke-width="2.8"/>
<line x1="1305.3" y1="2351.2" x2="1305.3" y2="2341" stroke="#231F20" stroke-width="2.8"/>
<line x1="1327.7" y1="2187" x2="1327.7" y2="2197.2" stroke="#231F20" stroke-width="2.8"/>
<line x1="1327.7" y1="2351.2" x2="1327.7" y2="2341" stroke="#231F20" stroke-width="2.8"/>
<line x1="1346" y1="2187" x2="1346" y2="2197.2" stroke="#231F20" stroke-width="2.8"/>
<line x1="1346" y1="2351.2" x2="1346" y2="2341" stroke="#231F20" stroke-width="2.8"/>
<line x1="1361.5" y1="2187" x2="1361.5" y2="2197.2" stroke="#231F20" stroke-width="2.8"/>
<line x1="1361.5" y1="2351.2" x2="1361.5" y2="2341" stroke="#231F20" stroke-width="2.8"/>
<line x1="1374.9" y1="2187" x2="1374.9" y2="2197.2" stroke="#231F20" stroke-width="2.8"/>
<line x1="1374.9" y1="2351.2" x2="1374.9" y2="2341" stroke="#231F20" stroke-width="2.8"/>
<line x1="1386.7" y1="2187" x2="1386.7" y2="2197.2" stroke="#231F20" stroke-width="2.8"/>
<line x1="1386.7" y1="2351.2" x2="1386.7" y2="2341" stroke="#231F20" stroke-width="2.8"/>
<line x1="1397.3" y1="2187" x2="1397.3" y2="2209.8" stroke="#231F20" stroke-width="2.8"/>
<line x1="1397.3" y1="2351.2" x2="1397.3" y2="2328.4" stroke="#231F20" stroke-width="2.8"/>
<line x1="198.2" y1="2147" x2="220.7" y2="2147" stroke="#231F20" stroke-width="2.8"/>
<line x1="1405.8" y1="2147" x2="1383.3" y2="2147" stroke="#231F20" stroke-width="2.8"/>
<g transform="translate(169.9,2160.3) scale(1.07,1)"><text x="0" y="0" font-size="47.4" fill="#231F20" text-anchor="end">0</text></g>
<line x1="198.2" y1="2072.1" x2="220.7" y2="2072.1" stroke="#231F20" stroke-width="2.8"/>
<line x1="1405.8" y1="2072.1" x2="1383.3" y2="2072.1" stroke="#231F20" stroke-width="2.8"/>
<g transform="translate(169.9,2085.4) scale(1.07,1)"><text x="0" y="0" font-size="47.4" fill="#231F20" text-anchor="end">8</text></g>
<line x1="198.2" y1="1997.3" x2="220.7" y2="1997.3" stroke="#231F20" stroke-width="2.8"/>
<line x1="1405.8" y1="1997.3" x2="1383.3" y2="1997.3" stroke="#231F20" stroke-width="2.8"/>
<g transform="translate(169.9,2010.6) scale(1.07,1)"><text x="0" y="0" font-size="47.4" fill="#231F20" text-anchor="end">16</text></g>
<line x1="198.2" y1="1922.4" x2="220.7" y2="1922.4" stroke="#231F20" stroke-width="2.8"/>
<line x1="1405.8" y1="1922.4" x2="1383.3" y2="1922.4" stroke="#231F20" stroke-width="2.8"/>
<g transform="translate(169.9,1935.7) scale(1.07,1)"><text x="0" y="0" font-size="47.4" fill="#231F20" text-anchor="end">24</text></g>
<line x1="198.2" y1="1847.5" x2="220.7" y2="1847.5" stroke="#231F20" stroke-width="2.8"/>
<line x1="1405.8" y1="1847.5" x2="1383.3" y2="1847.5" stroke="#231F20" stroke-width="2.8"/>
<g transform="translate(169.9,1860.8) scale(1.07,1)"><text x="0" y="0" font-size="47.4" fill="#231F20" text-anchor="end">32</text></g>
<line x1="198.2" y1="1772.7" x2="220.7" y2="1772.7" stroke="#231F20" stroke-width="2.8"/>
<line x1="1405.8" y1="1772.7" x2="1383.3" y2="1772.7" stroke="#231F20" stroke-width="2.8"/>
<g transform="translate(169.9,1786) scale(1.07,1)"><text x="0" y="0" font-size="47.4" fill="#231F20" text-anchor="end">40</text></g>
<line x1="198.2" y1="1697.8" x2="220.7" y2="1697.8" stroke="#231F20" stroke-width="2.8"/>
<line x1="1405.8" y1="1697.8" x2="1383.3" y2="1697.8" stroke="#231F20" stroke-width="2.8"/>
<g transform="translate(169.9,1711.1) scale(1.07,1)"><text x="0" y="0" font-size="47.4" fill="#231F20" text-anchor="end">48</text></g>
<line x1="198.2" y1="2353.2" x2="220.7" y2="2353.2" stroke="#231F20" stroke-width="2.8"/>
<line x1="1405.8" y1="2353.2" x2="1383.3" y2="2353.2" stroke="#231F20" stroke-width="2.8"/>
<g transform="translate(169.9,2366.5) scale(1.07,1)"><text x="0" y="0" font-size="47.4" fill="#231F20" text-anchor="end">0</text></g>
<line x1="198.2" y1="2278.1" x2="220.7" y2="2278.1" stroke="#231F20" stroke-width="2.8"/>
<line x1="1405.8" y1="2278.1" x2="1383.3" y2="2278.1" stroke="#231F20" stroke-width="2.8"/>
<g transform="translate(169.9,2291.4) scale(1.07,1)"><text x="0" y="0" font-size="47.4" fill="#231F20" text-anchor="end">8</text></g>
<line x1="198.2" y1="2203" x2="220.7" y2="2203" stroke="#231F20" stroke-width="2.8"/>
<line x1="1405.8" y1="2203" x2="1383.3" y2="2203" stroke="#231F20" stroke-width="2.8"/>
<g transform="translate(169.9,2216.3) scale(1.07,1)"><text x="0" y="0" font-size="47.4" fill="#231F20" text-anchor="end">16</text></g>
<rect x="196.2" y="1642.3" width="1211.6" height="504.7" fill="none" stroke="#231F20" stroke-width="6.2"/>
<rect x="196.2" y="2185" width="1211.6" height="168.2" fill="none" stroke="#231F20" stroke-width="6.2"/>
<g transform="translate(240.8,2415.4)"><text x="-41.2" y="0" font-size="45" fill="#231F20">10</text><text x="17.6" y="-21.4" font-size="31" fill="#231F20">2</text></g>
<g transform="translate(472.1,2415.4)"><text x="-41.2" y="0" font-size="45" fill="#231F20">10</text><text x="17.6" y="-21.4" font-size="31" fill="#231F20">3</text></g>
<g transform="translate(703.4,2415.4)"><text x="-41.2" y="0" font-size="45" fill="#231F20">10</text><text x="17.6" y="-21.4" font-size="31" fill="#231F20">4</text></g>
<g transform="translate(934.7,2415.4)"><text x="-41.2" y="0" font-size="45" fill="#231F20">10</text><text x="17.6" y="-21.4" font-size="31" fill="#231F20">5</text></g>
<g transform="translate(1166,2415.4)"><text x="-41.2" y="0" font-size="45" fill="#231F20">10</text><text x="17.6" y="-21.4" font-size="31" fill="#231F20">6</text></g>
<g transform="translate(1397.3,2415.4)"><text x="-41.2" y="0" font-size="45" fill="#231F20">10</text><text x="17.6" y="-21.4" font-size="31" fill="#231F20">7</text></g>
<text x="403.5" y="2500.5" font-size="62" fill="#231F20" textLength="690" lengthAdjust="spacingAndGlyphs">Total number of threads</text>
<text x="1112" y="2500.5" font-size="62" font-style="italic" fill="#231F20" style="font-family:'Liberation Serif',serif">MT</text>
<text transform="translate(70.7,2278) rotate(-90)" x="0" y="0" font-size="63" fill="#231F20" textLength="567" lengthAdjust="spacingAndGlyphs">Memory usage (GB)</text>
</svg></body></html>
